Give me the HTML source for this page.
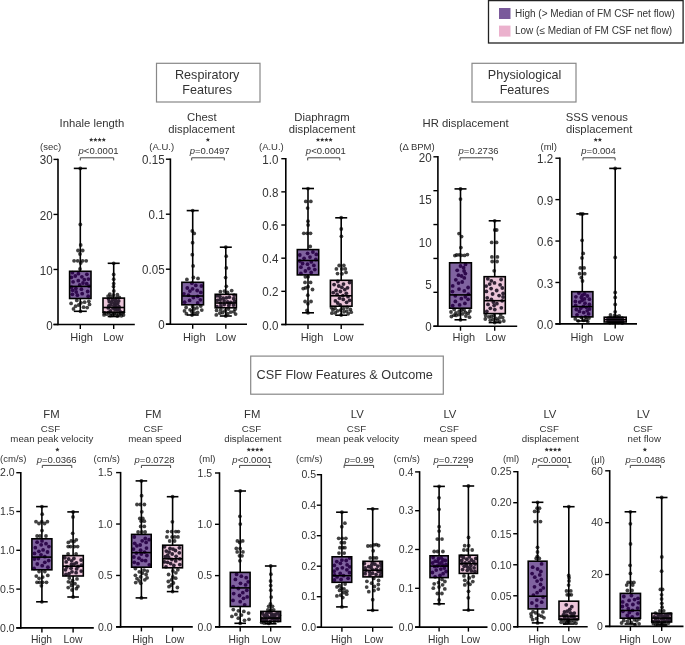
<!DOCTYPE html>
<html><head><meta charset="utf-8"><style>
html,body{margin:0;padding:0;background:#fff;width:685px;height:645px;overflow:hidden}
svg{display:block;font-family:'Liberation Sans', sans-serif;will-change:transform}
</style></head><body>
<svg width="685" height="645" viewBox="0 0 685 645">

<rect x="488.5" y="0.6" width="194.6" height="42.4" fill="#fff" stroke="#222" stroke-width="1.3"/>
<rect x="499" y="8" width="11.5" height="11" fill="#7a5a9b"/>
<rect x="499" y="25.6" width="11.5" height="11" fill="#ebb1cd"/>
<text x="515" y="16.7" font-size="10" fill="#333">High (&gt; Median of FM CSF net flow)</text>
<text x="515" y="34.2" font-size="10" fill="#333">Low (≤ Median of FM CSF net flow)</text>


<rect x="156.5" y="63.3" width="103.5" height="38.7" fill="none" stroke="#888" stroke-width="1.2"/>
<text x="207.2" y="79.2" font-size="12.6" text-anchor="middle" fill="#333">Respiratory</text>
<text x="207.2" y="94" font-size="12.6" text-anchor="middle" fill="#333">Features</text>
<rect x="472" y="63.3" width="104" height="38.7" fill="none" stroke="#888" stroke-width="1.2"/>
<text x="524.5" y="79.2" font-size="12.6" text-anchor="middle" fill="#333">Physiological</text>
<text x="524.5" y="94" font-size="12.6" text-anchor="middle" fill="#333">Features</text>
<rect x="250.7" y="356.1" width="192.6" height="38.1" fill="none" stroke="#888" stroke-width="1.2"/>
<text x="344.7" y="378.6" font-size="12.7" text-anchor="middle" fill="#333">CSF Flow Features &amp; Outcome</text>

<line x1="53.5" y1="159.4" x2="58" y2="159.4" stroke="#000" stroke-width="1.4"/>
<line x1="53.5" y1="214.43333333333334" x2="58" y2="214.43333333333334" stroke="#000" stroke-width="1.4"/>
<line x1="53.5" y1="269.4666666666667" x2="58" y2="269.4666666666667" stroke="#000" stroke-width="1.4"/>
<line x1="53.5" y1="324.5" x2="58" y2="324.5" stroke="#000" stroke-width="1.4"/>
<text transform="translate(52.60,164.47) scale(1,1.1)" font-size="11.6" text-anchor="end" fill="#333">30</text>
<text transform="translate(52.60,219.50) scale(1,1.1)" font-size="11.6" text-anchor="end" fill="#333">20</text>
<text transform="translate(52.60,274.53) scale(1,1.1)" font-size="11.6" text-anchor="end" fill="#333">10</text>
<text transform="translate(52.60,329.57) scale(1,1.1)" font-size="11.6" text-anchor="end" fill="#333">0</text>
<line x1="58" y1="158.70000000000002" x2="58" y2="325.3" stroke="#000" stroke-width="1.6"/>
<line x1="53.5" y1="324.5" x2="134.8" y2="324.5" stroke="#000" stroke-width="1.6"/>
<line x1="80.3" y1="324.5" x2="80.3" y2="329.0" stroke="#000" stroke-width="1.4"/>
<text x="81.6" y="340.8" font-size="11" text-anchor="middle" fill="#333" >High</text>
<line x1="113.7" y1="324.5" x2="113.7" y2="329.0" stroke="#000" stroke-width="1.4"/>
<text x="113.3" y="340.8" font-size="11" text-anchor="middle" fill="#333" >Low</text>
<line x1="80.3" y1="168.4" x2="80.3" y2="271.3" stroke="#000" stroke-width="1.6"/>
<line x1="80.3" y1="298.5" x2="80.3" y2="311.3" stroke="#000" stroke-width="1.6"/>
<circle cx="80.3" cy="168.4" r="1.9" fill="#000" fill-opacity="0.74"/>
<circle cx="80.3" cy="224.5" r="1.9" fill="#000" fill-opacity="0.74"/>
<circle cx="80.0" cy="254.0" r="1.9" fill="#000" fill-opacity="0.74"/>
<circle cx="80.7" cy="245.0" r="1.9" fill="#000" fill-opacity="0.74"/>
<circle cx="80.5" cy="311.3" r="1.9" fill="#000" fill-opacity="0.74"/>
<circle cx="80.7" cy="263.0" r="1.9" fill="#000" fill-opacity="0.74"/>
<circle cx="80.0" cy="269.0" r="1.9" fill="#000" fill-opacity="0.74"/>
<circle cx="82.7" cy="250.5" r="1.9" fill="#000" fill-opacity="0.74"/>
<circle cx="78.0" cy="250.5" r="1.9" fill="#000" fill-opacity="0.74"/>
<circle cx="72.4" cy="272.7" r="1.9" fill="#000" fill-opacity="0.74"/>
<circle cx="82.2" cy="293.7" r="1.9" fill="#000" fill-opacity="0.74"/>
<circle cx="74.1" cy="260.8" r="1.9" fill="#000" fill-opacity="0.74"/>
<circle cx="73.1" cy="281.8" r="1.9" fill="#000" fill-opacity="0.74"/>
<circle cx="78.3" cy="280.7" r="1.9" fill="#000" fill-opacity="0.74"/>
<circle cx="88.4" cy="279.1" r="1.9" fill="#000" fill-opacity="0.74"/>
<circle cx="72.4" cy="294.3" r="1.9" fill="#000" fill-opacity="0.74"/>
<circle cx="81.9" cy="276.8" r="1.9" fill="#000" fill-opacity="0.74"/>
<circle cx="88.2" cy="296.2" r="1.9" fill="#000" fill-opacity="0.74"/>
<circle cx="86.2" cy="260.8" r="1.9" fill="#000" fill-opacity="0.74"/>
<circle cx="84.3" cy="279.7" r="1.9" fill="#000" fill-opacity="0.74"/>
<circle cx="75.3" cy="276.0" r="1.9" fill="#000" fill-opacity="0.74"/>
<circle cx="86.7" cy="283.7" r="1.9" fill="#000" fill-opacity="0.74"/>
<circle cx="75.9" cy="288.4" r="1.9" fill="#000" fill-opacity="0.74"/>
<circle cx="71.4" cy="277.3" r="1.9" fill="#000" fill-opacity="0.74"/>
<circle cx="86.9" cy="274.3" r="1.9" fill="#000" fill-opacity="0.74"/>
<circle cx="78.4" cy="273.7" r="1.9" fill="#000" fill-opacity="0.74"/>
<circle cx="87.7" cy="291.5" r="1.9" fill="#000" fill-opacity="0.74"/>
<circle cx="77.7" cy="260.8" r="1.9" fill="#000" fill-opacity="0.74"/>
<circle cx="81.4" cy="289.2" r="1.9" fill="#000" fill-opacity="0.74"/>
<circle cx="79.7" cy="284.9" r="1.9" fill="#000" fill-opacity="0.74"/>
<circle cx="83.0" cy="283.0" r="1.9" fill="#000" fill-opacity="0.74"/>
<circle cx="77.4" cy="295.2" r="1.9" fill="#000" fill-opacity="0.74"/>
<circle cx="71.5" cy="287.2" r="1.9" fill="#000" fill-opacity="0.74"/>
<circle cx="82.6" cy="260.8" r="1.9" fill="#000" fill-opacity="0.74"/>
<circle cx="89.0" cy="286.1" r="1.9" fill="#000" fill-opacity="0.74"/>
<circle cx="72.7" cy="290.3" r="1.9" fill="#000" fill-opacity="0.74"/>
<circle cx="76.2" cy="292.0" r="1.9" fill="#000" fill-opacity="0.74"/>
<circle cx="84.6" cy="302.2" r="1.9" fill="#000" fill-opacity="0.74"/>
<circle cx="89.5" cy="304.4" r="1.9" fill="#000" fill-opacity="0.74"/>
<circle cx="76.8" cy="300.4" r="1.9" fill="#000" fill-opacity="0.74"/>
<circle cx="83.6" cy="307.2" r="1.9" fill="#000" fill-opacity="0.74"/>
<circle cx="78.8" cy="305.0" r="1.9" fill="#000" fill-opacity="0.74"/>
<circle cx="71.1" cy="303.4" r="1.9" fill="#000" fill-opacity="0.74"/>
<circle cx="73.5" cy="308.9" r="1.9" fill="#000" fill-opacity="0.74"/>
<circle cx="87.2" cy="307.6" r="1.9" fill="#000" fill-opacity="0.74"/>
<circle cx="81.0" cy="302.8" r="1.9" fill="#000" fill-opacity="0.74"/>
<circle cx="88.8" cy="301.3" r="1.9" fill="#000" fill-opacity="0.74"/>
<circle cx="75.6" cy="306.2" r="1.9" fill="#000" fill-opacity="0.74"/>
<clipPath id="c1_0"><rect x="69.6" y="271.3" width="21.4" height="27.19999999999999"/></clipPath>
<rect x="69.6" y="271.3" width="21.4" height="27.19999999999999" fill="rgb(128,99,160)"/>
<g clip-path="url(#c1_0)"><circle cx="72.4" cy="272.7" r="1.9" fill="rgb(44,6,74)" fill-opacity="0.97"/><circle cx="82.2" cy="293.7" r="1.9" fill="rgb(44,6,74)" fill-opacity="0.97"/><circle cx="73.1" cy="281.8" r="1.9" fill="rgb(44,6,74)" fill-opacity="0.97"/><circle cx="78.3" cy="280.7" r="1.9" fill="rgb(44,6,74)" fill-opacity="0.97"/><circle cx="88.4" cy="279.1" r="1.9" fill="rgb(44,6,74)" fill-opacity="0.97"/><circle cx="72.4" cy="294.3" r="1.9" fill="rgb(44,6,74)" fill-opacity="0.97"/><circle cx="81.9" cy="276.8" r="1.9" fill="rgb(44,6,74)" fill-opacity="0.97"/><circle cx="88.2" cy="296.2" r="1.9" fill="rgb(44,6,74)" fill-opacity="0.97"/><circle cx="84.3" cy="279.7" r="1.9" fill="rgb(44,6,74)" fill-opacity="0.97"/><circle cx="75.3" cy="276.0" r="1.9" fill="rgb(44,6,74)" fill-opacity="0.97"/><circle cx="86.7" cy="283.7" r="1.9" fill="rgb(44,6,74)" fill-opacity="0.97"/><circle cx="75.9" cy="288.4" r="1.9" fill="rgb(44,6,74)" fill-opacity="0.97"/><circle cx="71.4" cy="277.3" r="1.9" fill="rgb(44,6,74)" fill-opacity="0.97"/><circle cx="86.9" cy="274.3" r="1.9" fill="rgb(44,6,74)" fill-opacity="0.97"/><circle cx="78.4" cy="273.7" r="1.9" fill="rgb(44,6,74)" fill-opacity="0.97"/><circle cx="87.7" cy="291.5" r="1.9" fill="rgb(44,6,74)" fill-opacity="0.97"/><circle cx="81.4" cy="289.2" r="1.9" fill="rgb(44,6,74)" fill-opacity="0.97"/><circle cx="79.7" cy="284.9" r="1.9" fill="rgb(44,6,74)" fill-opacity="0.97"/><circle cx="83.0" cy="283.0" r="1.9" fill="rgb(44,6,74)" fill-opacity="0.97"/><circle cx="77.4" cy="295.2" r="1.9" fill="rgb(44,6,74)" fill-opacity="0.97"/><circle cx="71.5" cy="287.2" r="1.9" fill="rgb(44,6,74)" fill-opacity="0.97"/><circle cx="89.0" cy="286.1" r="1.9" fill="rgb(44,6,74)" fill-opacity="0.97"/><circle cx="72.7" cy="290.3" r="1.9" fill="rgb(44,6,74)" fill-opacity="0.97"/><circle cx="76.2" cy="292.0" r="1.9" fill="rgb(44,6,74)" fill-opacity="0.97"/><circle cx="76.8" cy="300.4" r="1.9" fill="rgb(44,6,74)" fill-opacity="0.97"/></g>
<rect x="69.6" y="271.3" width="21.4" height="27.19999999999999" fill="none" stroke="#000" stroke-width="1.6"/>
<line x1="69.6" y1="286.4" x2="91.0" y2="286.4" stroke="#000" stroke-width="1.6"/>
<line x1="73.8" y1="168.4" x2="86.8" y2="168.4" stroke="#000" stroke-width="1.6"/>
<line x1="73.8" y1="311.3" x2="86.8" y2="311.3" stroke="#000" stroke-width="1.6"/>
<line x1="113.7" y1="263.3" x2="113.7" y2="298.1" stroke="#000" stroke-width="1.6"/>
<line x1="113.7" y1="312.2" x2="113.7" y2="316.5" stroke="#000" stroke-width="1.6"/>
<circle cx="113.7" cy="283.6" r="1.9" fill="#000" fill-opacity="0.74"/>
<circle cx="113.7" cy="274.5" r="1.9" fill="#000" fill-opacity="0.74"/>
<circle cx="113.7" cy="279.2" r="1.9" fill="#000" fill-opacity="0.74"/>
<circle cx="113.7" cy="263.3" r="1.9" fill="#000" fill-opacity="0.74"/>
<circle cx="113.5" cy="286.6" r="1.9" fill="#000" fill-opacity="0.74"/>
<circle cx="113.8" cy="291.0" r="1.9" fill="#000" fill-opacity="0.74"/>
<circle cx="109.8" cy="294.1" r="1.9" fill="#000" fill-opacity="0.74"/>
<circle cx="117.4" cy="294.7" r="1.9" fill="#000" fill-opacity="0.74"/>
<circle cx="113.5" cy="295.0" r="1.9" fill="#000" fill-opacity="0.74"/>
<circle cx="108.3" cy="307.9" r="1.9" fill="#000" fill-opacity="0.74"/>
<circle cx="118.7" cy="300.9" r="1.9" fill="#000" fill-opacity="0.74"/>
<circle cx="117.3" cy="309.9" r="1.9" fill="#000" fill-opacity="0.74"/>
<circle cx="112.5" cy="299.9" r="1.9" fill="#000" fill-opacity="0.74"/>
<circle cx="113.0" cy="308.1" r="1.9" fill="#000" fill-opacity="0.74"/>
<circle cx="110.6" cy="310.8" r="1.9" fill="#000" fill-opacity="0.74"/>
<circle cx="118.9" cy="306.6" r="1.9" fill="#000" fill-opacity="0.74"/>
<circle cx="110.7" cy="304.9" r="1.9" fill="#000" fill-opacity="0.74"/>
<circle cx="109.3" cy="301.7" r="1.9" fill="#000" fill-opacity="0.74"/>
<circle cx="115.7" cy="307.3" r="1.9" fill="#000" fill-opacity="0.74"/>
<circle cx="114.8" cy="302.9" r="1.9" fill="#000" fill-opacity="0.74"/>
<circle cx="117.7" cy="303.5" r="1.9" fill="#000" fill-opacity="0.74"/>
<circle cx="115.0" cy="309.7" r="1.9" fill="#000" fill-opacity="0.74"/>
<circle cx="119.1" cy="309.1" r="1.9" fill="#000" fill-opacity="0.74"/>
<circle cx="114.0" cy="305.2" r="1.9" fill="#000" fill-opacity="0.74"/>
<circle cx="115.5" cy="300.4" r="1.9" fill="#000" fill-opacity="0.74"/>
<circle cx="108.6" cy="299.1" r="1.9" fill="#000" fill-opacity="0.74"/>
<circle cx="108.9" cy="305.8" r="1.9" fill="#000" fill-opacity="0.74"/>
<circle cx="111.8" cy="302.3" r="1.9" fill="#000" fill-opacity="0.74"/>
<circle cx="116.0" cy="304.3" r="1.9" fill="#000" fill-opacity="0.74"/>
<circle cx="111.1" cy="296.8" r="1.9" fill="#000" fill-opacity="0.74"/>
<circle cx="119.3" cy="297.4" r="1.9" fill="#000" fill-opacity="0.74"/>
<circle cx="116.6" cy="297.8" r="1.9" fill="#000" fill-opacity="0.74"/>
<circle cx="108.1" cy="296.1" r="1.9" fill="#000" fill-opacity="0.74"/>
<circle cx="121.4" cy="315.8" r="1.9" fill="#000" fill-opacity="0.74"/>
<circle cx="106.8" cy="314.2" r="1.9" fill="#000" fill-opacity="0.74"/>
<circle cx="114.2" cy="313.5" r="1.9" fill="#000" fill-opacity="0.74"/>
<circle cx="110.4" cy="315.7" r="1.9" fill="#000" fill-opacity="0.74"/>
<circle cx="117.3" cy="316.1" r="1.9" fill="#000" fill-opacity="0.74"/>
<circle cx="123.3" cy="312.6" r="1.9" fill="#000" fill-opacity="0.74"/>
<circle cx="120.4" cy="312.0" r="1.9" fill="#000" fill-opacity="0.74"/>
<circle cx="104.3" cy="312.9" r="1.9" fill="#000" fill-opacity="0.74"/>
<circle cx="104.0" cy="314.9" r="1.9" fill="#000" fill-opacity="0.74"/>
<circle cx="118.9" cy="314.5" r="1.9" fill="#000" fill-opacity="0.74"/>
<circle cx="112.6" cy="315.3" r="1.9" fill="#000" fill-opacity="0.74"/>
<circle cx="108.6" cy="312.5" r="1.9" fill="#000" fill-opacity="0.74"/>
<circle cx="116.3" cy="313.9" r="1.9" fill="#000" fill-opacity="0.74"/>
<circle cx="111.2" cy="313.3" r="1.9" fill="#000" fill-opacity="0.74"/>
<circle cx="123.5" cy="315.0" r="1.9" fill="#000" fill-opacity="0.74"/>
<circle cx="120.6" cy="313.7" r="1.9" fill="#000" fill-opacity="0.74"/>
<clipPath id="c1_1"><rect x="103.0" y="298.1" width="21.4" height="14.099999999999966"/></clipPath>
<rect x="103.0" y="298.1" width="21.4" height="14.099999999999966" fill="rgb(236,198,218)"/>
<g clip-path="url(#c1_1)"><circle cx="108.3" cy="307.9" r="1.9" fill="rgb(42,30,48)" fill-opacity="0.97"/><circle cx="118.7" cy="300.9" r="1.9" fill="rgb(42,30,48)" fill-opacity="0.97"/><circle cx="117.3" cy="309.9" r="1.9" fill="rgb(42,30,48)" fill-opacity="0.97"/><circle cx="112.5" cy="299.9" r="1.9" fill="rgb(42,30,48)" fill-opacity="0.97"/><circle cx="113.0" cy="308.1" r="1.9" fill="rgb(42,30,48)" fill-opacity="0.97"/><circle cx="110.6" cy="310.8" r="1.9" fill="rgb(42,30,48)" fill-opacity="0.97"/><circle cx="118.9" cy="306.6" r="1.9" fill="rgb(42,30,48)" fill-opacity="0.97"/><circle cx="110.7" cy="304.9" r="1.9" fill="rgb(42,30,48)" fill-opacity="0.97"/><circle cx="109.3" cy="301.7" r="1.9" fill="rgb(42,30,48)" fill-opacity="0.97"/><circle cx="115.7" cy="307.3" r="1.9" fill="rgb(42,30,48)" fill-opacity="0.97"/><circle cx="114.8" cy="302.9" r="1.9" fill="rgb(42,30,48)" fill-opacity="0.97"/><circle cx="117.7" cy="303.5" r="1.9" fill="rgb(42,30,48)" fill-opacity="0.97"/><circle cx="115.0" cy="309.7" r="1.9" fill="rgb(42,30,48)" fill-opacity="0.97"/><circle cx="119.1" cy="309.1" r="1.9" fill="rgb(42,30,48)" fill-opacity="0.97"/><circle cx="114.0" cy="305.2" r="1.9" fill="rgb(42,30,48)" fill-opacity="0.97"/><circle cx="115.5" cy="300.4" r="1.9" fill="rgb(42,30,48)" fill-opacity="0.97"/><circle cx="108.6" cy="299.1" r="1.9" fill="rgb(42,30,48)" fill-opacity="0.97"/><circle cx="108.9" cy="305.8" r="1.9" fill="rgb(42,30,48)" fill-opacity="0.97"/><circle cx="111.8" cy="302.3" r="1.9" fill="rgb(42,30,48)" fill-opacity="0.97"/><circle cx="116.0" cy="304.3" r="1.9" fill="rgb(42,30,48)" fill-opacity="0.97"/><circle cx="111.1" cy="296.8" r="1.9" fill="rgb(42,30,48)" fill-opacity="0.97"/><circle cx="119.3" cy="297.4" r="1.9" fill="rgb(42,30,48)" fill-opacity="0.97"/><circle cx="116.6" cy="297.8" r="1.9" fill="rgb(42,30,48)" fill-opacity="0.97"/><circle cx="114.2" cy="313.5" r="1.9" fill="rgb(42,30,48)" fill-opacity="0.97"/><circle cx="123.3" cy="312.6" r="1.9" fill="rgb(42,30,48)" fill-opacity="0.97"/><circle cx="120.4" cy="312.0" r="1.9" fill="rgb(42,30,48)" fill-opacity="0.97"/><circle cx="104.3" cy="312.9" r="1.9" fill="rgb(42,30,48)" fill-opacity="0.97"/><circle cx="108.6" cy="312.5" r="1.9" fill="rgb(42,30,48)" fill-opacity="0.97"/><circle cx="116.3" cy="313.9" r="1.9" fill="rgb(42,30,48)" fill-opacity="0.97"/><circle cx="111.2" cy="313.3" r="1.9" fill="rgb(42,30,48)" fill-opacity="0.97"/><circle cx="120.6" cy="313.7" r="1.9" fill="rgb(42,30,48)" fill-opacity="0.97"/></g>
<rect x="103.0" y="298.1" width="21.4" height="14.099999999999966" fill="none" stroke="#000" stroke-width="1.6"/>
<line x1="103.0" y1="307.5" x2="124.4" y2="307.5" stroke="#000" stroke-width="1.6"/>
<line x1="107.7" y1="263.3" x2="119.7" y2="263.3" stroke="#000" stroke-width="1.6"/>
<line x1="107.7" y1="316.5" x2="119.7" y2="316.5" stroke="#000" stroke-width="1.6"/>
<text x="91.9" y="126.6" font-size="11.3" text-anchor="middle" fill="#333" >Inhale length</text>
<text x="50.6" y="149.6" font-size="9.5" text-anchor="middle" fill="#333" >(sec)</text>
<polygon points="91.20,137.50 91.82,138.95 93.39,139.09 92.20,140.12 92.55,141.66 91.20,140.85 89.85,141.66 90.20,140.12 89.01,139.09 90.58,138.95" fill="#333"/>
<polygon points="95.40,137.50 96.02,138.95 97.59,139.09 96.40,140.12 96.75,141.66 95.40,140.85 94.05,141.66 94.40,140.12 93.21,139.09 94.78,138.95" fill="#333"/>
<polygon points="99.60,137.50 100.22,138.95 101.79,139.09 100.60,140.12 100.95,141.66 99.60,140.85 98.25,141.66 98.60,140.12 97.41,139.09 98.98,138.95" fill="#333"/>
<polygon points="103.80,137.50 104.42,138.95 105.99,139.09 104.80,140.12 105.15,141.66 103.80,140.85 102.45,141.66 102.80,140.12 101.61,139.09 103.18,138.95" fill="#333"/>
<text x="98.5" y="154.2" font-size="9.5" text-anchor="middle" fill="#333"><tspan font-style="italic">p</tspan>&lt;0.0001</text>
<path d="M80.3,160.4 V157.8 H113.7 V160.4" fill="none" stroke="#444" stroke-width="1"/>
<line x1="165.9" y1="159.2" x2="170.4" y2="159.2" stroke="#000" stroke-width="1.4"/>
<line x1="165.9" y1="214.2" x2="170.4" y2="214.2" stroke="#000" stroke-width="1.4"/>
<line x1="165.9" y1="269.2" x2="170.4" y2="269.2" stroke="#000" stroke-width="1.4"/>
<line x1="165.9" y1="324.2" x2="170.4" y2="324.2" stroke="#000" stroke-width="1.4"/>
<text transform="translate(164.60,164.27) scale(1,1.1)" font-size="11.6" text-anchor="end" fill="#333">0.15</text>
<text transform="translate(164.60,219.27) scale(1,1.1)" font-size="11.6" text-anchor="end" fill="#333">0.1</text>
<text transform="translate(164.60,274.27) scale(1,1.1)" font-size="11.6" text-anchor="end" fill="#333">0.05</text>
<text transform="translate(164.60,329.27) scale(1,1.1)" font-size="11.6" text-anchor="end" fill="#333">0</text>
<line x1="170.4" y1="158.5" x2="170.4" y2="325.0" stroke="#000" stroke-width="1.6"/>
<line x1="165.9" y1="324.2" x2="247" y2="324.2" stroke="#000" stroke-width="1.6"/>
<line x1="192.7" y1="324.2" x2="192.7" y2="328.7" stroke="#000" stroke-width="1.4"/>
<text x="194.2" y="340.8" font-size="11" text-anchor="middle" fill="#333" >High</text>
<line x1="225.8" y1="324.2" x2="225.8" y2="328.7" stroke="#000" stroke-width="1.4"/>
<text x="225.8" y="340.8" font-size="11" text-anchor="middle" fill="#333" >Low</text>
<line x1="192.7" y1="210.6" x2="192.7" y2="282.3" stroke="#000" stroke-width="1.6"/>
<line x1="192.7" y1="304.8" x2="192.7" y2="315" stroke="#000" stroke-width="1.6"/>
<circle cx="192.7" cy="210.6" r="1.9" fill="#000" fill-opacity="0.74"/>
<circle cx="193.1" cy="265.9" r="1.9" fill="#000" fill-opacity="0.74"/>
<circle cx="192.3" cy="254.7" r="1.9" fill="#000" fill-opacity="0.74"/>
<circle cx="192.3" cy="231.0" r="1.9" fill="#000" fill-opacity="0.74"/>
<circle cx="192.6" cy="242.7" r="1.9" fill="#000" fill-opacity="0.74"/>
<circle cx="192.0" cy="315.0" r="1.9" fill="#000" fill-opacity="0.74"/>
<circle cx="194.2" cy="233.4" r="1.9" fill="#000" fill-opacity="0.74"/>
<circle cx="193.4" cy="277.5" r="1.9" fill="#000" fill-opacity="0.74"/>
<circle cx="186.9" cy="279.4" r="1.9" fill="#000" fill-opacity="0.74"/>
<circle cx="198.0" cy="278.4" r="1.9" fill="#000" fill-opacity="0.74"/>
<circle cx="197.7" cy="296.4" r="1.9" fill="#000" fill-opacity="0.74"/>
<circle cx="187.3" cy="288.0" r="1.9" fill="#000" fill-opacity="0.74"/>
<circle cx="183.9" cy="293.8" r="1.9" fill="#000" fill-opacity="0.74"/>
<circle cx="192.6" cy="288.8" r="1.9" fill="#000" fill-opacity="0.74"/>
<circle cx="200.8" cy="292.4" r="1.9" fill="#000" fill-opacity="0.74"/>
<circle cx="189.6" cy="300.4" r="1.9" fill="#000" fill-opacity="0.74"/>
<circle cx="197.2" cy="290.5" r="1.9" fill="#000" fill-opacity="0.74"/>
<circle cx="201.4" cy="286.0" r="1.9" fill="#000" fill-opacity="0.74"/>
<circle cx="197.7" cy="303.0" r="1.9" fill="#000" fill-opacity="0.74"/>
<circle cx="189.9" cy="291.1" r="1.9" fill="#000" fill-opacity="0.74"/>
<circle cx="191.9" cy="283.2" r="1.9" fill="#000" fill-opacity="0.74"/>
<circle cx="193.4" cy="297.6" r="1.9" fill="#000" fill-opacity="0.74"/>
<circle cx="184.6" cy="302.2" r="1.9" fill="#000" fill-opacity="0.74"/>
<circle cx="188.5" cy="295.2" r="1.9" fill="#000" fill-opacity="0.74"/>
<circle cx="200.4" cy="299.8" r="1.9" fill="#000" fill-opacity="0.74"/>
<circle cx="195.8" cy="285.4" r="1.9" fill="#000" fill-opacity="0.74"/>
<circle cx="192.7" cy="306.5" r="1.9" fill="#000" fill-opacity="0.74"/>
<circle cx="186.1" cy="307.5" r="1.9" fill="#000" fill-opacity="0.74"/>
<circle cx="201.8" cy="310.1" r="1.9" fill="#000" fill-opacity="0.74"/>
<circle cx="197.0" cy="307.9" r="1.9" fill="#000" fill-opacity="0.74"/>
<circle cx="186.4" cy="313.7" r="1.9" fill="#000" fill-opacity="0.74"/>
<circle cx="190.1" cy="309.8" r="1.9" fill="#000" fill-opacity="0.74"/>
<circle cx="200.8" cy="306.1" r="1.9" fill="#000" fill-opacity="0.74"/>
<circle cx="197.7" cy="312.5" r="1.9" fill="#000" fill-opacity="0.74"/>
<circle cx="184.5" cy="310.9" r="1.9" fill="#000" fill-opacity="0.74"/>
<circle cx="194.5" cy="313.2" r="1.9" fill="#000" fill-opacity="0.74"/>
<circle cx="191.8" cy="311.5" r="1.9" fill="#000" fill-opacity="0.74"/>
<circle cx="194.1" cy="309.0" r="1.9" fill="#000" fill-opacity="0.74"/>
<clipPath id="c2_0"><rect x="181.89999999999998" y="282.3" width="21.6" height="22.5"/></clipPath>
<rect x="181.89999999999998" y="282.3" width="21.6" height="22.5" fill="rgb(128,99,160)"/>
<g clip-path="url(#c2_0)"><circle cx="197.7" cy="296.4" r="1.9" fill="rgb(44,6,74)" fill-opacity="0.97"/><circle cx="187.3" cy="288.0" r="1.9" fill="rgb(44,6,74)" fill-opacity="0.97"/><circle cx="183.9" cy="293.8" r="1.9" fill="rgb(44,6,74)" fill-opacity="0.97"/><circle cx="192.6" cy="288.8" r="1.9" fill="rgb(44,6,74)" fill-opacity="0.97"/><circle cx="200.8" cy="292.4" r="1.9" fill="rgb(44,6,74)" fill-opacity="0.97"/><circle cx="189.6" cy="300.4" r="1.9" fill="rgb(44,6,74)" fill-opacity="0.97"/><circle cx="197.2" cy="290.5" r="1.9" fill="rgb(44,6,74)" fill-opacity="0.97"/><circle cx="201.4" cy="286.0" r="1.9" fill="rgb(44,6,74)" fill-opacity="0.97"/><circle cx="197.7" cy="303.0" r="1.9" fill="rgb(44,6,74)" fill-opacity="0.97"/><circle cx="189.9" cy="291.1" r="1.9" fill="rgb(44,6,74)" fill-opacity="0.97"/><circle cx="191.9" cy="283.2" r="1.9" fill="rgb(44,6,74)" fill-opacity="0.97"/><circle cx="193.4" cy="297.6" r="1.9" fill="rgb(44,6,74)" fill-opacity="0.97"/><circle cx="184.6" cy="302.2" r="1.9" fill="rgb(44,6,74)" fill-opacity="0.97"/><circle cx="188.5" cy="295.2" r="1.9" fill="rgb(44,6,74)" fill-opacity="0.97"/><circle cx="200.4" cy="299.8" r="1.9" fill="rgb(44,6,74)" fill-opacity="0.97"/><circle cx="195.8" cy="285.4" r="1.9" fill="rgb(44,6,74)" fill-opacity="0.97"/><circle cx="192.7" cy="306.5" r="1.9" fill="rgb(44,6,74)" fill-opacity="0.97"/><circle cx="200.8" cy="306.1" r="1.9" fill="rgb(44,6,74)" fill-opacity="0.97"/></g>
<rect x="181.89999999999998" y="282.3" width="21.6" height="22.5" fill="none" stroke="#000" stroke-width="1.6"/>
<line x1="181.89999999999998" y1="296" x2="203.5" y2="296" stroke="#000" stroke-width="1.6"/>
<line x1="186.7" y1="210.6" x2="198.7" y2="210.6" stroke="#000" stroke-width="1.6"/>
<line x1="186.7" y1="315" x2="198.7" y2="315" stroke="#000" stroke-width="1.6"/>
<line x1="225.8" y1="247.2" x2="225.8" y2="294.3" stroke="#000" stroke-width="1.6"/>
<line x1="225.8" y1="307.8" x2="225.8" y2="316" stroke="#000" stroke-width="1.6"/>
<circle cx="225.8" cy="316.0" r="1.9" fill="#000" fill-opacity="0.74"/>
<circle cx="225.8" cy="247.2" r="1.9" fill="#000" fill-opacity="0.74"/>
<circle cx="225.6" cy="277.6" r="1.9" fill="#000" fill-opacity="0.74"/>
<circle cx="226.2" cy="256.2" r="1.9" fill="#000" fill-opacity="0.74"/>
<circle cx="226.3" cy="267.9" r="1.9" fill="#000" fill-opacity="0.74"/>
<circle cx="226.3" cy="286.3" r="1.9" fill="#000" fill-opacity="0.74"/>
<circle cx="227.5" cy="292.5" r="1.9" fill="#000" fill-opacity="0.74"/>
<circle cx="220.4" cy="291.7" r="1.9" fill="#000" fill-opacity="0.74"/>
<circle cx="231.7" cy="290.6" r="1.9" fill="#000" fill-opacity="0.74"/>
<circle cx="224.4" cy="291.1" r="1.9" fill="#000" fill-opacity="0.74"/>
<circle cx="228.8" cy="305.6" r="1.9" fill="#000" fill-opacity="0.74"/>
<circle cx="220.5" cy="303.0" r="1.9" fill="#000" fill-opacity="0.74"/>
<circle cx="234.1" cy="295.1" r="1.9" fill="#000" fill-opacity="0.74"/>
<circle cx="233.5" cy="305.0" r="1.9" fill="#000" fill-opacity="0.74"/>
<circle cx="224.2" cy="304.5" r="1.9" fill="#000" fill-opacity="0.74"/>
<circle cx="230.8" cy="302.3" r="1.9" fill="#000" fill-opacity="0.74"/>
<circle cx="223.1" cy="298.2" r="1.9" fill="#000" fill-opacity="0.74"/>
<circle cx="217.3" cy="300.3" r="1.9" fill="#000" fill-opacity="0.74"/>
<circle cx="216.9" cy="306.6" r="1.9" fill="#000" fill-opacity="0.74"/>
<circle cx="227.6" cy="301.9" r="1.9" fill="#000" fill-opacity="0.74"/>
<circle cx="229.3" cy="297.2" r="1.9" fill="#000" fill-opacity="0.74"/>
<circle cx="220.2" cy="299.4" r="1.9" fill="#000" fill-opacity="0.74"/>
<circle cx="224.1" cy="300.9" r="1.9" fill="#000" fill-opacity="0.74"/>
<circle cx="226.4" cy="297.8" r="1.9" fill="#000" fill-opacity="0.74"/>
<circle cx="229.2" cy="303.6" r="1.9" fill="#000" fill-opacity="0.74"/>
<circle cx="220.9" cy="306.1" r="1.9" fill="#000" fill-opacity="0.74"/>
<circle cx="219.8" cy="296.3" r="1.9" fill="#000" fill-opacity="0.74"/>
<circle cx="216.9" cy="295.8" r="1.9" fill="#000" fill-opacity="0.74"/>
<circle cx="233.7" cy="298.7" r="1.9" fill="#000" fill-opacity="0.74"/>
<circle cx="234.7" cy="301.3" r="1.9" fill="#000" fill-opacity="0.74"/>
<circle cx="225.0" cy="310.8" r="1.9" fill="#000" fill-opacity="0.74"/>
<circle cx="235.1" cy="309.3" r="1.9" fill="#000" fill-opacity="0.74"/>
<circle cx="219.8" cy="313.2" r="1.9" fill="#000" fill-opacity="0.74"/>
<circle cx="230.8" cy="312.1" r="1.9" fill="#000" fill-opacity="0.74"/>
<circle cx="235.6" cy="314.1" r="1.9" fill="#000" fill-opacity="0.74"/>
<circle cx="216.6" cy="310.4" r="1.9" fill="#000" fill-opacity="0.74"/>
<circle cx="220.8" cy="309.9" r="1.9" fill="#000" fill-opacity="0.74"/>
<circle cx="222.6" cy="312.7" r="1.9" fill="#000" fill-opacity="0.74"/>
<circle cx="233.9" cy="311.7" r="1.9" fill="#000" fill-opacity="0.74"/>
<circle cx="228.4" cy="309.0" r="1.9" fill="#000" fill-opacity="0.74"/>
<circle cx="216.3" cy="314.9" r="1.9" fill="#000" fill-opacity="0.74"/>
<circle cx="227.8" cy="313.7" r="1.9" fill="#000" fill-opacity="0.74"/>
<clipPath id="c2_1"><rect x="215.20000000000002" y="294.3" width="21.2" height="13.5"/></clipPath>
<rect x="215.20000000000002" y="294.3" width="21.2" height="13.5" fill="rgb(236,198,218)"/>
<g clip-path="url(#c2_1)"><circle cx="227.5" cy="292.5" r="1.9" fill="rgb(42,30,48)" fill-opacity="0.97"/><circle cx="228.8" cy="305.6" r="1.9" fill="rgb(42,30,48)" fill-opacity="0.97"/><circle cx="220.5" cy="303.0" r="1.9" fill="rgb(42,30,48)" fill-opacity="0.97"/><circle cx="234.1" cy="295.1" r="1.9" fill="rgb(42,30,48)" fill-opacity="0.97"/><circle cx="233.5" cy="305.0" r="1.9" fill="rgb(42,30,48)" fill-opacity="0.97"/><circle cx="224.2" cy="304.5" r="1.9" fill="rgb(42,30,48)" fill-opacity="0.97"/><circle cx="230.8" cy="302.3" r="1.9" fill="rgb(42,30,48)" fill-opacity="0.97"/><circle cx="223.1" cy="298.2" r="1.9" fill="rgb(42,30,48)" fill-opacity="0.97"/><circle cx="217.3" cy="300.3" r="1.9" fill="rgb(42,30,48)" fill-opacity="0.97"/><circle cx="216.9" cy="306.6" r="1.9" fill="rgb(42,30,48)" fill-opacity="0.97"/><circle cx="227.6" cy="301.9" r="1.9" fill="rgb(42,30,48)" fill-opacity="0.97"/><circle cx="229.3" cy="297.2" r="1.9" fill="rgb(42,30,48)" fill-opacity="0.97"/><circle cx="220.2" cy="299.4" r="1.9" fill="rgb(42,30,48)" fill-opacity="0.97"/><circle cx="224.1" cy="300.9" r="1.9" fill="rgb(42,30,48)" fill-opacity="0.97"/><circle cx="226.4" cy="297.8" r="1.9" fill="rgb(42,30,48)" fill-opacity="0.97"/><circle cx="229.2" cy="303.6" r="1.9" fill="rgb(42,30,48)" fill-opacity="0.97"/><circle cx="220.9" cy="306.1" r="1.9" fill="rgb(42,30,48)" fill-opacity="0.97"/><circle cx="219.8" cy="296.3" r="1.9" fill="rgb(42,30,48)" fill-opacity="0.97"/><circle cx="216.9" cy="295.8" r="1.9" fill="rgb(42,30,48)" fill-opacity="0.97"/><circle cx="233.7" cy="298.7" r="1.9" fill="rgb(42,30,48)" fill-opacity="0.97"/><circle cx="234.7" cy="301.3" r="1.9" fill="rgb(42,30,48)" fill-opacity="0.97"/><circle cx="235.1" cy="309.3" r="1.9" fill="rgb(42,30,48)" fill-opacity="0.97"/><circle cx="228.4" cy="309.0" r="1.9" fill="rgb(42,30,48)" fill-opacity="0.97"/></g>
<rect x="215.20000000000002" y="294.3" width="21.2" height="13.5" fill="none" stroke="#000" stroke-width="1.6"/>
<line x1="215.20000000000002" y1="303" x2="236.4" y2="303" stroke="#000" stroke-width="1.6"/>
<line x1="219.8" y1="247.2" x2="231.8" y2="247.2" stroke="#000" stroke-width="1.6"/>
<line x1="219.8" y1="316" x2="231.8" y2="316" stroke="#000" stroke-width="1.6"/>
<text x="201.8" y="120.8" font-size="11.3" text-anchor="middle" fill="#333" >Chest</text>
<text x="201.6" y="132.6" font-size="11.3" text-anchor="middle" fill="#333" >displacement</text>
<text x="161.7" y="149.6" font-size="9.5" text-anchor="middle" fill="#333" >(A.U.)</text>
<polygon points="207.90,137.50 208.52,138.95 210.09,139.09 208.90,140.12 209.25,141.66 207.90,140.85 206.55,141.66 206.90,140.12 205.71,139.09 207.28,138.95" fill="#333"/>
<text x="209.7" y="154.2" font-size="9.5" text-anchor="middle" fill="#333"><tspan font-style="italic">p</tspan>=0.0497</text>
<path d="M191.7,160.4 V157.8 H224.3 V160.4" fill="none" stroke="#444" stroke-width="1"/>
<line x1="281.3" y1="158.7" x2="285.8" y2="158.7" stroke="#000" stroke-width="1.4"/>
<line x1="281.3" y1="191.85999999999999" x2="285.8" y2="191.85999999999999" stroke="#000" stroke-width="1.4"/>
<line x1="281.3" y1="225.01999999999998" x2="285.8" y2="225.01999999999998" stroke="#000" stroke-width="1.4"/>
<line x1="281.3" y1="258.18" x2="285.8" y2="258.18" stroke="#000" stroke-width="1.4"/>
<line x1="281.3" y1="291.34" x2="285.8" y2="291.34" stroke="#000" stroke-width="1.4"/>
<line x1="281.3" y1="324.5" x2="285.8" y2="324.5" stroke="#000" stroke-width="1.4"/>
<text transform="translate(278.50,163.77) scale(1,1.1)" font-size="11.6" text-anchor="end" fill="#333">1.0</text>
<text transform="translate(278.50,196.93) scale(1,1.1)" font-size="11.6" text-anchor="end" fill="#333">0.8</text>
<text transform="translate(278.50,230.09) scale(1,1.1)" font-size="11.6" text-anchor="end" fill="#333">0.6</text>
<text transform="translate(278.50,263.25) scale(1,1.1)" font-size="11.6" text-anchor="end" fill="#333">0.4</text>
<text transform="translate(278.50,296.41) scale(1,1.1)" font-size="11.6" text-anchor="end" fill="#333">0.2</text>
<text transform="translate(278.50,329.57) scale(1,1.1)" font-size="11.6" text-anchor="end" fill="#333">0.0</text>
<line x1="285.8" y1="158.0" x2="285.8" y2="325.3" stroke="#000" stroke-width="1.6"/>
<line x1="281.3" y1="324.5" x2="363.8" y2="324.5" stroke="#000" stroke-width="1.6"/>
<line x1="308" y1="324.5" x2="308" y2="329.0" stroke="#000" stroke-width="1.4"/>
<text x="312.0" y="340.8" font-size="11" text-anchor="middle" fill="#333" >High</text>
<line x1="341.2" y1="324.5" x2="341.2" y2="329.0" stroke="#000" stroke-width="1.4"/>
<text x="343.4" y="340.8" font-size="11" text-anchor="middle" fill="#333" >Low</text>
<line x1="308" y1="188.5" x2="308" y2="249.6" stroke="#000" stroke-width="1.6"/>
<line x1="308" y1="274.9" x2="308" y2="312.8" stroke="#000" stroke-width="1.6"/>
<circle cx="308.0" cy="188.6" r="1.9" fill="#000" fill-opacity="0.74"/>
<circle cx="308.0" cy="312.8" r="1.9" fill="#000" fill-opacity="0.74"/>
<circle cx="308.1" cy="225.0" r="1.9" fill="#000" fill-opacity="0.74"/>
<circle cx="308.0" cy="221.2" r="1.9" fill="#000" fill-opacity="0.74"/>
<circle cx="307.6" cy="208.1" r="1.9" fill="#000" fill-opacity="0.74"/>
<circle cx="307.9" cy="303.8" r="1.9" fill="#000" fill-opacity="0.74"/>
<circle cx="307.0" cy="310.5" r="1.9" fill="#000" fill-opacity="0.74"/>
<circle cx="307.8" cy="295.2" r="1.9" fill="#000" fill-opacity="0.74"/>
<circle cx="308.1" cy="276.8" r="1.9" fill="#000" fill-opacity="0.74"/>
<circle cx="305.4" cy="276.8" r="1.9" fill="#000" fill-opacity="0.74"/>
<circle cx="310.8" cy="201.4" r="1.9" fill="#000" fill-opacity="0.74"/>
<circle cx="311.0" cy="301.5" r="1.9" fill="#000" fill-opacity="0.74"/>
<circle cx="310.2" cy="246.4" r="1.9" fill="#000" fill-opacity="0.74"/>
<circle cx="305.0" cy="282.4" r="1.9" fill="#000" fill-opacity="0.74"/>
<circle cx="305.8" cy="201.4" r="1.9" fill="#000" fill-opacity="0.74"/>
<circle cx="305.1" cy="301.5" r="1.9" fill="#000" fill-opacity="0.74"/>
<circle cx="310.6" cy="282.4" r="1.9" fill="#000" fill-opacity="0.74"/>
<circle cx="310.5" cy="233.3" r="1.9" fill="#000" fill-opacity="0.74"/>
<circle cx="303.8" cy="233.3" r="1.9" fill="#000" fill-opacity="0.74"/>
<circle cx="307.1" cy="233.3" r="1.9" fill="#000" fill-opacity="0.74"/>
<circle cx="308.1" cy="286.7" r="1.9" fill="#000" fill-opacity="0.74"/>
<circle cx="303.2" cy="288.6" r="1.9" fill="#000" fill-opacity="0.74"/>
<circle cx="312.5" cy="289.5" r="1.9" fill="#000" fill-opacity="0.74"/>
<circle cx="305.6" cy="287.9" r="1.9" fill="#000" fill-opacity="0.74"/>
<circle cx="311.2" cy="272.5" r="1.9" fill="#000" fill-opacity="0.74"/>
<circle cx="313.9" cy="265.4" r="1.9" fill="#000" fill-opacity="0.74"/>
<circle cx="315.8" cy="259.5" r="1.9" fill="#000" fill-opacity="0.74"/>
<circle cx="307.6" cy="253.3" r="1.9" fill="#000" fill-opacity="0.74"/>
<circle cx="304.1" cy="258.3" r="1.9" fill="#000" fill-opacity="0.74"/>
<circle cx="299.8" cy="255.0" r="1.9" fill="#000" fill-opacity="0.74"/>
<circle cx="310.0" cy="257.1" r="1.9" fill="#000" fill-opacity="0.74"/>
<circle cx="300.9" cy="273.4" r="1.9" fill="#000" fill-opacity="0.74"/>
<circle cx="316.3" cy="254.4" r="1.9" fill="#000" fill-opacity="0.74"/>
<circle cx="305.4" cy="271.0" r="1.9" fill="#000" fill-opacity="0.74"/>
<circle cx="299.8" cy="261.0" r="1.9" fill="#000" fill-opacity="0.74"/>
<circle cx="314.8" cy="269.6" r="1.9" fill="#000" fill-opacity="0.74"/>
<circle cx="300.9" cy="267.2" r="1.9" fill="#000" fill-opacity="0.74"/>
<circle cx="307.5" cy="264.2" r="1.9" fill="#000" fill-opacity="0.74"/>
<circle cx="311.3" cy="261.9" r="1.9" fill="#000" fill-opacity="0.74"/>
<circle cx="312.9" cy="252.0" r="1.9" fill="#000" fill-opacity="0.74"/>
<circle cx="302.6" cy="263.5" r="1.9" fill="#000" fill-opacity="0.74"/>
<circle cx="308.9" cy="268.5" r="1.9" fill="#000" fill-opacity="0.74"/>
<clipPath id="c3_0"><rect x="297.3" y="249.6" width="21.4" height="25.299999999999983"/></clipPath>
<rect x="297.3" y="249.6" width="21.4" height="25.299999999999983" fill="rgb(128,99,160)"/>
<g clip-path="url(#c3_0)"><circle cx="308.1" cy="276.8" r="1.9" fill="rgb(44,6,74)" fill-opacity="0.97"/><circle cx="305.4" cy="276.8" r="1.9" fill="rgb(44,6,74)" fill-opacity="0.97"/><circle cx="311.2" cy="272.5" r="1.9" fill="rgb(44,6,74)" fill-opacity="0.97"/><circle cx="313.9" cy="265.4" r="1.9" fill="rgb(44,6,74)" fill-opacity="0.97"/><circle cx="315.8" cy="259.5" r="1.9" fill="rgb(44,6,74)" fill-opacity="0.97"/><circle cx="307.6" cy="253.3" r="1.9" fill="rgb(44,6,74)" fill-opacity="0.97"/><circle cx="304.1" cy="258.3" r="1.9" fill="rgb(44,6,74)" fill-opacity="0.97"/><circle cx="299.8" cy="255.0" r="1.9" fill="rgb(44,6,74)" fill-opacity="0.97"/><circle cx="310.0" cy="257.1" r="1.9" fill="rgb(44,6,74)" fill-opacity="0.97"/><circle cx="300.9" cy="273.4" r="1.9" fill="rgb(44,6,74)" fill-opacity="0.97"/><circle cx="316.3" cy="254.4" r="1.9" fill="rgb(44,6,74)" fill-opacity="0.97"/><circle cx="305.4" cy="271.0" r="1.9" fill="rgb(44,6,74)" fill-opacity="0.97"/><circle cx="299.8" cy="261.0" r="1.9" fill="rgb(44,6,74)" fill-opacity="0.97"/><circle cx="314.8" cy="269.6" r="1.9" fill="rgb(44,6,74)" fill-opacity="0.97"/><circle cx="300.9" cy="267.2" r="1.9" fill="rgb(44,6,74)" fill-opacity="0.97"/><circle cx="307.5" cy="264.2" r="1.9" fill="rgb(44,6,74)" fill-opacity="0.97"/><circle cx="311.3" cy="261.9" r="1.9" fill="rgb(44,6,74)" fill-opacity="0.97"/><circle cx="312.9" cy="252.0" r="1.9" fill="rgb(44,6,74)" fill-opacity="0.97"/><circle cx="302.6" cy="263.5" r="1.9" fill="rgb(44,6,74)" fill-opacity="0.97"/><circle cx="308.9" cy="268.5" r="1.9" fill="rgb(44,6,74)" fill-opacity="0.97"/></g>
<rect x="297.3" y="249.6" width="21.4" height="25.299999999999983" fill="none" stroke="#000" stroke-width="1.6"/>
<line x1="297.3" y1="260.5" x2="318.7" y2="260.5" stroke="#000" stroke-width="1.6"/>
<line x1="302" y1="188.5" x2="314" y2="188.5" stroke="#000" stroke-width="1.6"/>
<line x1="302" y1="312.8" x2="314" y2="312.8" stroke="#000" stroke-width="1.6"/>
<line x1="341.2" y1="217.8" x2="341.2" y2="280.3" stroke="#000" stroke-width="1.6"/>
<line x1="341.2" y1="306.2" x2="341.2" y2="315.2" stroke="#000" stroke-width="1.6"/>
<circle cx="341.2" cy="315.0" r="1.9" fill="#000" fill-opacity="0.74"/>
<circle cx="341.2" cy="217.6" r="1.9" fill="#000" fill-opacity="0.74"/>
<circle cx="341.4" cy="236.3" r="1.9" fill="#000" fill-opacity="0.74"/>
<circle cx="341.3" cy="229.0" r="1.9" fill="#000" fill-opacity="0.74"/>
<circle cx="339.2" cy="265.5" r="1.9" fill="#000" fill-opacity="0.74"/>
<circle cx="343.8" cy="265.5" r="1.9" fill="#000" fill-opacity="0.74"/>
<circle cx="342.0" cy="273.8" r="1.9" fill="#000" fill-opacity="0.74"/>
<circle cx="336.4" cy="268.9" r="1.9" fill="#000" fill-opacity="0.74"/>
<circle cx="341.9" cy="268.9" r="1.9" fill="#000" fill-opacity="0.74"/>
<circle cx="337.5" cy="273.6" r="1.9" fill="#000" fill-opacity="0.74"/>
<circle cx="345.3" cy="268.9" r="1.9" fill="#000" fill-opacity="0.74"/>
<circle cx="346.0" cy="272.4" r="1.9" fill="#000" fill-opacity="0.74"/>
<circle cx="340.4" cy="291.5" r="1.9" fill="#000" fill-opacity="0.74"/>
<circle cx="343.5" cy="284.1" r="1.9" fill="#000" fill-opacity="0.74"/>
<circle cx="348.0" cy="296.7" r="1.9" fill="#000" fill-opacity="0.74"/>
<circle cx="335.4" cy="300.9" r="1.9" fill="#000" fill-opacity="0.74"/>
<circle cx="333.2" cy="292.7" r="1.9" fill="#000" fill-opacity="0.74"/>
<circle cx="343.3" cy="299.4" r="1.9" fill="#000" fill-opacity="0.74"/>
<circle cx="340.2" cy="304.8" r="1.9" fill="#000" fill-opacity="0.74"/>
<circle cx="349.6" cy="282.5" r="1.9" fill="#000" fill-opacity="0.74"/>
<circle cx="334.1" cy="284.6" r="1.9" fill="#000" fill-opacity="0.74"/>
<circle cx="347.5" cy="287.8" r="1.9" fill="#000" fill-opacity="0.74"/>
<circle cx="337.1" cy="294.4" r="1.9" fill="#000" fill-opacity="0.74"/>
<circle cx="339.6" cy="298.2" r="1.9" fill="#000" fill-opacity="0.74"/>
<circle cx="336.1" cy="290.5" r="1.9" fill="#000" fill-opacity="0.74"/>
<circle cx="337.8" cy="281.5" r="1.9" fill="#000" fill-opacity="0.74"/>
<circle cx="349.6" cy="300.3" r="1.9" fill="#000" fill-opacity="0.74"/>
<circle cx="344.8" cy="289.6" r="1.9" fill="#000" fill-opacity="0.74"/>
<circle cx="342.9" cy="295.6" r="1.9" fill="#000" fill-opacity="0.74"/>
<circle cx="338.8" cy="286.0" r="1.9" fill="#000" fill-opacity="0.74"/>
<circle cx="346.3" cy="293.3" r="1.9" fill="#000" fill-opacity="0.74"/>
<circle cx="346.6" cy="302.3" r="1.9" fill="#000" fill-opacity="0.74"/>
<circle cx="341.8" cy="287.3" r="1.9" fill="#000" fill-opacity="0.74"/>
<circle cx="337.7" cy="303.0" r="1.9" fill="#000" fill-opacity="0.74"/>
<circle cx="350.4" cy="309.4" r="1.9" fill="#000" fill-opacity="0.74"/>
<circle cx="343.5" cy="308.6" r="1.9" fill="#000" fill-opacity="0.74"/>
<circle cx="331.9" cy="313.2" r="1.9" fill="#000" fill-opacity="0.74"/>
<circle cx="337.4" cy="310.9" r="1.9" fill="#000" fill-opacity="0.74"/>
<circle cx="346.8" cy="311.1" r="1.9" fill="#000" fill-opacity="0.74"/>
<circle cx="331.5" cy="307.7" r="1.9" fill="#000" fill-opacity="0.74"/>
<circle cx="335.0" cy="308.3" r="1.9" fill="#000" fill-opacity="0.74"/>
<circle cx="340.6" cy="310.1" r="1.9" fill="#000" fill-opacity="0.74"/>
<circle cx="347.2" cy="307.3" r="1.9" fill="#000" fill-opacity="0.74"/>
<circle cx="344.0" cy="311.8" r="1.9" fill="#000" fill-opacity="0.74"/>
<circle cx="351.2" cy="312.2" r="1.9" fill="#000" fill-opacity="0.74"/>
<circle cx="335.3" cy="312.9" r="1.9" fill="#000" fill-opacity="0.74"/>
<circle cx="332.9" cy="309.9" r="1.9" fill="#000" fill-opacity="0.74"/>
<circle cx="348.2" cy="313.8" r="1.9" fill="#000" fill-opacity="0.74"/>
<clipPath id="c3_1"><rect x="330.4" y="280.3" width="21.6" height="25.899999999999977"/></clipPath>
<rect x="330.4" y="280.3" width="21.6" height="25.899999999999977" fill="rgb(236,198,218)"/>
<g clip-path="url(#c3_1)"><circle cx="340.4" cy="291.5" r="1.9" fill="rgb(42,30,48)" fill-opacity="0.97"/><circle cx="343.5" cy="284.1" r="1.9" fill="rgb(42,30,48)" fill-opacity="0.97"/><circle cx="348.0" cy="296.7" r="1.9" fill="rgb(42,30,48)" fill-opacity="0.97"/><circle cx="335.4" cy="300.9" r="1.9" fill="rgb(42,30,48)" fill-opacity="0.97"/><circle cx="333.2" cy="292.7" r="1.9" fill="rgb(42,30,48)" fill-opacity="0.97"/><circle cx="343.3" cy="299.4" r="1.9" fill="rgb(42,30,48)" fill-opacity="0.97"/><circle cx="340.2" cy="304.8" r="1.9" fill="rgb(42,30,48)" fill-opacity="0.97"/><circle cx="349.6" cy="282.5" r="1.9" fill="rgb(42,30,48)" fill-opacity="0.97"/><circle cx="334.1" cy="284.6" r="1.9" fill="rgb(42,30,48)" fill-opacity="0.97"/><circle cx="347.5" cy="287.8" r="1.9" fill="rgb(42,30,48)" fill-opacity="0.97"/><circle cx="337.1" cy="294.4" r="1.9" fill="rgb(42,30,48)" fill-opacity="0.97"/><circle cx="339.6" cy="298.2" r="1.9" fill="rgb(42,30,48)" fill-opacity="0.97"/><circle cx="336.1" cy="290.5" r="1.9" fill="rgb(42,30,48)" fill-opacity="0.97"/><circle cx="337.8" cy="281.5" r="1.9" fill="rgb(42,30,48)" fill-opacity="0.97"/><circle cx="349.6" cy="300.3" r="1.9" fill="rgb(42,30,48)" fill-opacity="0.97"/><circle cx="344.8" cy="289.6" r="1.9" fill="rgb(42,30,48)" fill-opacity="0.97"/><circle cx="342.9" cy="295.6" r="1.9" fill="rgb(42,30,48)" fill-opacity="0.97"/><circle cx="338.8" cy="286.0" r="1.9" fill="rgb(42,30,48)" fill-opacity="0.97"/><circle cx="346.3" cy="293.3" r="1.9" fill="rgb(42,30,48)" fill-opacity="0.97"/><circle cx="346.6" cy="302.3" r="1.9" fill="rgb(42,30,48)" fill-opacity="0.97"/><circle cx="341.8" cy="287.3" r="1.9" fill="rgb(42,30,48)" fill-opacity="0.97"/><circle cx="337.7" cy="303.0" r="1.9" fill="rgb(42,30,48)" fill-opacity="0.97"/><circle cx="331.5" cy="307.7" r="1.9" fill="rgb(42,30,48)" fill-opacity="0.97"/><circle cx="347.2" cy="307.3" r="1.9" fill="rgb(42,30,48)" fill-opacity="0.97"/></g>
<rect x="330.4" y="280.3" width="21.6" height="25.899999999999977" fill="none" stroke="#000" stroke-width="1.6"/>
<line x1="330.4" y1="295.8" x2="352.0" y2="295.8" stroke="#000" stroke-width="1.6"/>
<line x1="335.2" y1="217.8" x2="347.2" y2="217.8" stroke="#000" stroke-width="1.6"/>
<line x1="335.2" y1="315.2" x2="347.2" y2="315.2" stroke="#000" stroke-width="1.6"/>
<text x="322.0" y="120.8" font-size="11.3" text-anchor="middle" fill="#333" >Diaphragm</text>
<text x="322.1" y="132.6" font-size="11.3" text-anchor="middle" fill="#333" >displacement</text>
<text x="271.4" y="149.6" font-size="9.5" text-anchor="middle" fill="#333" >(A.U.)</text>
<polygon points="318.00,137.50 318.62,138.95 320.19,139.09 319.00,140.12 319.35,141.66 318.00,140.85 316.65,141.66 317.00,140.12 315.81,139.09 317.38,138.95" fill="#333"/>
<polygon points="322.20,137.50 322.82,138.95 324.39,139.09 323.20,140.12 323.55,141.66 322.20,140.85 320.85,141.66 321.20,140.12 320.01,139.09 321.58,138.95" fill="#333"/>
<polygon points="326.40,137.50 327.02,138.95 328.59,139.09 327.40,140.12 327.75,141.66 326.40,140.85 325.05,141.66 325.40,140.12 324.21,139.09 325.78,138.95" fill="#333"/>
<polygon points="330.60,137.50 331.22,138.95 332.79,139.09 331.60,140.12 331.95,141.66 330.60,140.85 329.25,141.66 329.60,140.12 328.41,139.09 329.98,138.95" fill="#333"/>
<text x="325.8" y="154.2" font-size="9.5" text-anchor="middle" fill="#333"><tspan font-style="italic">p</tspan>&lt;0.0001</text>
<path d="M307.7,160.4 V157.8 H339.8 V160.4" fill="none" stroke="#444" stroke-width="1"/>
<line x1="433.4" y1="156.8" x2="437.9" y2="156.8" stroke="#000" stroke-width="1.4"/>
<line x1="433.4" y1="190.68" x2="437.9" y2="190.68" stroke="#000" stroke-width="1.4"/>
<line x1="433.4" y1="224.56" x2="437.9" y2="224.56" stroke="#000" stroke-width="1.4"/>
<line x1="433.4" y1="258.44" x2="437.9" y2="258.44" stroke="#000" stroke-width="1.4"/>
<line x1="433.4" y1="292.32" x2="437.9" y2="292.32" stroke="#000" stroke-width="1.4"/>
<line x1="433.4" y1="326.2" x2="437.9" y2="326.2" stroke="#000" stroke-width="1.4"/>
<text transform="translate(431.70,161.87) scale(1,1.1)" font-size="11.6" text-anchor="end" fill="#333">20</text>
<text transform="translate(431.70,204.22) scale(1,1.1)" font-size="11.6" text-anchor="end" fill="#333">15</text>
<text transform="translate(431.70,246.57) scale(1,1.1)" font-size="11.6" text-anchor="end" fill="#333">10</text>
<text transform="translate(431.70,288.92) scale(1,1.1)" font-size="11.6" text-anchor="end" fill="#333">5</text>
<text transform="translate(431.70,331.27) scale(1,1.1)" font-size="11.6" text-anchor="end" fill="#333">0</text>
<line x1="437.9" y1="156.10000000000002" x2="437.9" y2="327.0" stroke="#000" stroke-width="1.6"/>
<line x1="433.4" y1="326.2" x2="517.2" y2="326.2" stroke="#000" stroke-width="1.6"/>
<line x1="460.5" y1="326.2" x2="460.5" y2="330.7" stroke="#000" stroke-width="1.4"/>
<text x="463.9" y="340.8" font-size="11" text-anchor="middle" fill="#333" >High</text>
<line x1="494.7" y1="326.2" x2="494.7" y2="330.7" stroke="#000" stroke-width="1.4"/>
<text x="495.6" y="340.8" font-size="11" text-anchor="middle" fill="#333" >Low</text>
<line x1="460.5" y1="188.9" x2="460.5" y2="262.8" stroke="#000" stroke-width="1.6"/>
<line x1="460.5" y1="308.2" x2="460.5" y2="319.8" stroke="#000" stroke-width="1.6"/>
<circle cx="460.5" cy="188.9" r="1.9" fill="#000" fill-opacity="0.74"/>
<circle cx="460.5" cy="319.8" r="1.9" fill="#000" fill-opacity="0.74"/>
<circle cx="460.5" cy="199.1" r="1.9" fill="#000" fill-opacity="0.74"/>
<circle cx="460.9" cy="247.6" r="1.9" fill="#000" fill-opacity="0.74"/>
<circle cx="461.6" cy="236.6" r="1.9" fill="#000" fill-opacity="0.74"/>
<circle cx="459.0" cy="233.6" r="1.9" fill="#000" fill-opacity="0.74"/>
<circle cx="458.5" cy="275.2" r="1.9" fill="#000" fill-opacity="0.74"/>
<circle cx="457.2" cy="270.3" r="1.9" fill="#000" fill-opacity="0.74"/>
<circle cx="460.5" cy="266.0" r="1.9" fill="#000" fill-opacity="0.74"/>
<circle cx="462.2" cy="282.0" r="1.9" fill="#000" fill-opacity="0.74"/>
<circle cx="455.8" cy="279.8" r="1.9" fill="#000" fill-opacity="0.74"/>
<circle cx="464.1" cy="271.0" r="1.9" fill="#000" fill-opacity="0.74"/>
<circle cx="465.5" cy="264.4" r="1.9" fill="#000" fill-opacity="0.74"/>
<circle cx="458.5" cy="283.1" r="1.9" fill="#000" fill-opacity="0.74"/>
<circle cx="464.3" cy="277.9" r="1.9" fill="#000" fill-opacity="0.74"/>
<circle cx="461.6" cy="276.0" r="1.9" fill="#000" fill-opacity="0.74"/>
<circle cx="463.6" cy="267.7" r="1.9" fill="#000" fill-opacity="0.74"/>
<circle cx="465.4" cy="273.6" r="1.9" fill="#000" fill-opacity="0.74"/>
<circle cx="464.5" cy="255.4" r="1.9" fill="#000" fill-opacity="0.74"/>
<circle cx="454.9" cy="255.6" r="1.9" fill="#000" fill-opacity="0.74"/>
<circle cx="459.3" cy="254.8" r="1.9" fill="#000" fill-opacity="0.74"/>
<circle cx="467.4" cy="254.6" r="1.9" fill="#000" fill-opacity="0.74"/>
<circle cx="461.4" cy="255.3" r="1.9" fill="#000" fill-opacity="0.74"/>
<circle cx="456.7" cy="255.0" r="1.9" fill="#000" fill-opacity="0.74"/>
<circle cx="455.3" cy="295.8" r="1.9" fill="#000" fill-opacity="0.74"/>
<circle cx="459.0" cy="289.1" r="1.9" fill="#000" fill-opacity="0.74"/>
<circle cx="461.3" cy="298.7" r="1.9" fill="#000" fill-opacity="0.74"/>
<circle cx="468.4" cy="294.2" r="1.9" fill="#000" fill-opacity="0.74"/>
<circle cx="459.6" cy="304.9" r="1.9" fill="#000" fill-opacity="0.74"/>
<circle cx="464.3" cy="290.9" r="1.9" fill="#000" fill-opacity="0.74"/>
<circle cx="452.5" cy="291.6" r="1.9" fill="#000" fill-opacity="0.74"/>
<circle cx="468.1" cy="287.5" r="1.9" fill="#000" fill-opacity="0.74"/>
<circle cx="468.1" cy="299.3" r="1.9" fill="#000" fill-opacity="0.74"/>
<circle cx="452.7" cy="285.9" r="1.9" fill="#000" fill-opacity="0.74"/>
<circle cx="452.7" cy="305.6" r="1.9" fill="#000" fill-opacity="0.74"/>
<circle cx="465.4" cy="296.8" r="1.9" fill="#000" fill-opacity="0.74"/>
<circle cx="455.4" cy="301.4" r="1.9" fill="#000" fill-opacity="0.74"/>
<circle cx="464.9" cy="303.4" r="1.9" fill="#000" fill-opacity="0.74"/>
<circle cx="462.4" cy="313.9" r="1.9" fill="#000" fill-opacity="0.74"/>
<circle cx="455.9" cy="312.8" r="1.9" fill="#000" fill-opacity="0.74"/>
<circle cx="468.2" cy="313.4" r="1.9" fill="#000" fill-opacity="0.74"/>
<circle cx="451.0" cy="312.0" r="1.9" fill="#000" fill-opacity="0.74"/>
<circle cx="459.2" cy="311.2" r="1.9" fill="#000" fill-opacity="0.74"/>
<circle cx="458.9" cy="314.6" r="1.9" fill="#000" fill-opacity="0.74"/>
<circle cx="464.1" cy="309.8" r="1.9" fill="#000" fill-opacity="0.74"/>
<circle cx="465.5" cy="312.3" r="1.9" fill="#000" fill-opacity="0.74"/>
<circle cx="451.4" cy="316.5" r="1.9" fill="#000" fill-opacity="0.74"/>
<circle cx="454.0" cy="315.2" r="1.9" fill="#000" fill-opacity="0.74"/>
<circle cx="465.9" cy="316.0" r="1.9" fill="#000" fill-opacity="0.74"/>
<circle cx="469.5" cy="317.2" r="1.9" fill="#000" fill-opacity="0.74"/>
<circle cx="469.9" cy="311.0" r="1.9" fill="#000" fill-opacity="0.74"/>
<circle cx="456.1" cy="315.4" r="1.9" fill="#000" fill-opacity="0.74"/>
<circle cx="454.2" cy="309.4" r="1.9" fill="#000" fill-opacity="0.74"/>
<circle cx="461.6" cy="310.2" r="1.9" fill="#000" fill-opacity="0.74"/>
<clipPath id="c4_0"><rect x="449.6" y="262.8" width="21.8" height="45.39999999999998"/></clipPath>
<rect x="449.6" y="262.8" width="21.8" height="45.39999999999998" fill="rgb(128,99,160)"/>
<g clip-path="url(#c4_0)"><circle cx="458.5" cy="275.2" r="1.9" fill="rgb(44,6,74)" fill-opacity="0.97"/><circle cx="457.2" cy="270.3" r="1.9" fill="rgb(44,6,74)" fill-opacity="0.97"/><circle cx="460.5" cy="266.0" r="1.9" fill="rgb(44,6,74)" fill-opacity="0.97"/><circle cx="462.2" cy="282.0" r="1.9" fill="rgb(44,6,74)" fill-opacity="0.97"/><circle cx="455.8" cy="279.8" r="1.9" fill="rgb(44,6,74)" fill-opacity="0.97"/><circle cx="464.1" cy="271.0" r="1.9" fill="rgb(44,6,74)" fill-opacity="0.97"/><circle cx="465.5" cy="264.4" r="1.9" fill="rgb(44,6,74)" fill-opacity="0.97"/><circle cx="458.5" cy="283.1" r="1.9" fill="rgb(44,6,74)" fill-opacity="0.97"/><circle cx="464.3" cy="277.9" r="1.9" fill="rgb(44,6,74)" fill-opacity="0.97"/><circle cx="461.6" cy="276.0" r="1.9" fill="rgb(44,6,74)" fill-opacity="0.97"/><circle cx="463.6" cy="267.7" r="1.9" fill="rgb(44,6,74)" fill-opacity="0.97"/><circle cx="465.4" cy="273.6" r="1.9" fill="rgb(44,6,74)" fill-opacity="0.97"/><circle cx="455.3" cy="295.8" r="1.9" fill="rgb(44,6,74)" fill-opacity="0.97"/><circle cx="459.0" cy="289.1" r="1.9" fill="rgb(44,6,74)" fill-opacity="0.97"/><circle cx="461.3" cy="298.7" r="1.9" fill="rgb(44,6,74)" fill-opacity="0.97"/><circle cx="468.4" cy="294.2" r="1.9" fill="rgb(44,6,74)" fill-opacity="0.97"/><circle cx="459.6" cy="304.9" r="1.9" fill="rgb(44,6,74)" fill-opacity="0.97"/><circle cx="464.3" cy="290.9" r="1.9" fill="rgb(44,6,74)" fill-opacity="0.97"/><circle cx="452.5" cy="291.6" r="1.9" fill="rgb(44,6,74)" fill-opacity="0.97"/><circle cx="468.1" cy="287.5" r="1.9" fill="rgb(44,6,74)" fill-opacity="0.97"/><circle cx="468.1" cy="299.3" r="1.9" fill="rgb(44,6,74)" fill-opacity="0.97"/><circle cx="452.7" cy="285.9" r="1.9" fill="rgb(44,6,74)" fill-opacity="0.97"/><circle cx="452.7" cy="305.6" r="1.9" fill="rgb(44,6,74)" fill-opacity="0.97"/><circle cx="465.4" cy="296.8" r="1.9" fill="rgb(44,6,74)" fill-opacity="0.97"/><circle cx="455.4" cy="301.4" r="1.9" fill="rgb(44,6,74)" fill-opacity="0.97"/><circle cx="464.9" cy="303.4" r="1.9" fill="rgb(44,6,74)" fill-opacity="0.97"/><circle cx="464.1" cy="309.8" r="1.9" fill="rgb(44,6,74)" fill-opacity="0.97"/><circle cx="454.2" cy="309.4" r="1.9" fill="rgb(44,6,74)" fill-opacity="0.97"/><circle cx="461.6" cy="310.2" r="1.9" fill="rgb(44,6,74)" fill-opacity="0.97"/></g>
<rect x="449.6" y="262.8" width="21.8" height="45.39999999999998" fill="none" stroke="#000" stroke-width="1.6"/>
<line x1="449.6" y1="294.9" x2="471.4" y2="294.9" stroke="#000" stroke-width="1.6"/>
<line x1="454.5" y1="188.9" x2="466.5" y2="188.9" stroke="#000" stroke-width="1.6"/>
<line x1="454.5" y1="319.8" x2="466.5" y2="319.8" stroke="#000" stroke-width="1.6"/>
<line x1="494.7" y1="220.8" x2="494.7" y2="276.7" stroke="#000" stroke-width="1.6"/>
<line x1="494.7" y1="313.6" x2="494.7" y2="322.6" stroke="#000" stroke-width="1.6"/>
<circle cx="494.7" cy="220.8" r="1.9" fill="#000" fill-opacity="0.74"/>
<circle cx="494.7" cy="322.6" r="1.9" fill="#000" fill-opacity="0.74"/>
<circle cx="494.2" cy="270.8" r="1.9" fill="#000" fill-opacity="0.74"/>
<circle cx="494.8" cy="230.0" r="1.9" fill="#000" fill-opacity="0.74"/>
<circle cx="496.7" cy="230.0" r="1.9" fill="#000" fill-opacity="0.74"/>
<circle cx="497.1" cy="261.5" r="1.9" fill="#000" fill-opacity="0.74"/>
<circle cx="496.6" cy="242.4" r="1.9" fill="#000" fill-opacity="0.74"/>
<circle cx="491.9" cy="256.9" r="1.9" fill="#000" fill-opacity="0.74"/>
<circle cx="497.4" cy="256.9" r="1.9" fill="#000" fill-opacity="0.74"/>
<circle cx="491.7" cy="242.4" r="1.9" fill="#000" fill-opacity="0.74"/>
<circle cx="492.2" cy="261.5" r="1.9" fill="#000" fill-opacity="0.74"/>
<circle cx="487.8" cy="278.8" r="1.9" fill="#000" fill-opacity="0.74"/>
<circle cx="494.8" cy="309.6" r="1.9" fill="#000" fill-opacity="0.74"/>
<circle cx="496.9" cy="303.7" r="1.9" fill="#000" fill-opacity="0.74"/>
<circle cx="496.7" cy="290.5" r="1.9" fill="#000" fill-opacity="0.74"/>
<circle cx="488.0" cy="304.4" r="1.9" fill="#000" fill-opacity="0.74"/>
<circle cx="500.1" cy="284.8" r="1.9" fill="#000" fill-opacity="0.74"/>
<circle cx="499.1" cy="295.6" r="1.9" fill="#000" fill-opacity="0.74"/>
<circle cx="491.4" cy="299.5" r="1.9" fill="#000" fill-opacity="0.74"/>
<circle cx="501.3" cy="307.8" r="1.9" fill="#000" fill-opacity="0.74"/>
<circle cx="494.5" cy="282.9" r="1.9" fill="#000" fill-opacity="0.74"/>
<circle cx="502.1" cy="300.8" r="1.9" fill="#000" fill-opacity="0.74"/>
<circle cx="486.2" cy="286.1" r="1.9" fill="#000" fill-opacity="0.74"/>
<circle cx="486.4" cy="291.4" r="1.9" fill="#000" fill-opacity="0.74"/>
<circle cx="490.3" cy="308.3" r="1.9" fill="#000" fill-opacity="0.74"/>
<circle cx="491.1" cy="288.6" r="1.9" fill="#000" fill-opacity="0.74"/>
<circle cx="501.1" cy="279.5" r="1.9" fill="#000" fill-opacity="0.74"/>
<circle cx="502.3" cy="288.0" r="1.9" fill="#000" fill-opacity="0.74"/>
<circle cx="492.6" cy="294.0" r="1.9" fill="#000" fill-opacity="0.74"/>
<circle cx="487.2" cy="297.8" r="1.9" fill="#000" fill-opacity="0.74"/>
<circle cx="486.8" cy="311.5" r="1.9" fill="#000" fill-opacity="0.74"/>
<circle cx="491.3" cy="280.8" r="1.9" fill="#000" fill-opacity="0.74"/>
<circle cx="493.5" cy="302.2" r="1.9" fill="#000" fill-opacity="0.74"/>
<circle cx="503.0" cy="297.0" r="1.9" fill="#000" fill-opacity="0.74"/>
<circle cx="489.7" cy="284.1" r="1.9" fill="#000" fill-opacity="0.74"/>
<circle cx="503.1" cy="293.4" r="1.9" fill="#000" fill-opacity="0.74"/>
<circle cx="494.1" cy="305.6" r="1.9" fill="#000" fill-opacity="0.74"/>
<circle cx="499.3" cy="317.9" r="1.9" fill="#000" fill-opacity="0.74"/>
<circle cx="503.8" cy="321.0" r="1.9" fill="#000" fill-opacity="0.74"/>
<circle cx="490.3" cy="320.2" r="1.9" fill="#000" fill-opacity="0.74"/>
<circle cx="485.3" cy="319.0" r="1.9" fill="#000" fill-opacity="0.74"/>
<circle cx="500.0" cy="321.8" r="1.9" fill="#000" fill-opacity="0.74"/>
<circle cx="494.1" cy="315.5" r="1.9" fill="#000" fill-opacity="0.74"/>
<circle cx="495.9" cy="318.4" r="1.9" fill="#000" fill-opacity="0.74"/>
<circle cx="502.7" cy="317.6" r="1.9" fill="#000" fill-opacity="0.74"/>
<circle cx="488.9" cy="316.9" r="1.9" fill="#000" fill-opacity="0.74"/>
<circle cx="497.6" cy="320.5" r="1.9" fill="#000" fill-opacity="0.74"/>
<circle cx="485.7" cy="315.7" r="1.9" fill="#000" fill-opacity="0.74"/>
<circle cx="493.2" cy="319.5" r="1.9" fill="#000" fill-opacity="0.74"/>
<circle cx="491.4" cy="316.5" r="1.9" fill="#000" fill-opacity="0.74"/>
<circle cx="500.7" cy="314.8" r="1.9" fill="#000" fill-opacity="0.74"/>
<clipPath id="c4_1"><rect x="484.09999999999997" y="276.7" width="21.2" height="36.900000000000034"/></clipPath>
<rect x="484.09999999999997" y="276.7" width="21.2" height="36.900000000000034" fill="rgb(236,198,218)"/>
<g clip-path="url(#c4_1)"><circle cx="487.8" cy="278.8" r="1.9" fill="rgb(42,30,48)" fill-opacity="0.97"/><circle cx="494.8" cy="309.6" r="1.9" fill="rgb(42,30,48)" fill-opacity="0.97"/><circle cx="496.9" cy="303.7" r="1.9" fill="rgb(42,30,48)" fill-opacity="0.97"/><circle cx="496.7" cy="290.5" r="1.9" fill="rgb(42,30,48)" fill-opacity="0.97"/><circle cx="488.0" cy="304.4" r="1.9" fill="rgb(42,30,48)" fill-opacity="0.97"/><circle cx="500.1" cy="284.8" r="1.9" fill="rgb(42,30,48)" fill-opacity="0.97"/><circle cx="499.1" cy="295.6" r="1.9" fill="rgb(42,30,48)" fill-opacity="0.97"/><circle cx="491.4" cy="299.5" r="1.9" fill="rgb(42,30,48)" fill-opacity="0.97"/><circle cx="501.3" cy="307.8" r="1.9" fill="rgb(42,30,48)" fill-opacity="0.97"/><circle cx="494.5" cy="282.9" r="1.9" fill="rgb(42,30,48)" fill-opacity="0.97"/><circle cx="502.1" cy="300.8" r="1.9" fill="rgb(42,30,48)" fill-opacity="0.97"/><circle cx="486.2" cy="286.1" r="1.9" fill="rgb(42,30,48)" fill-opacity="0.97"/><circle cx="486.4" cy="291.4" r="1.9" fill="rgb(42,30,48)" fill-opacity="0.97"/><circle cx="490.3" cy="308.3" r="1.9" fill="rgb(42,30,48)" fill-opacity="0.97"/><circle cx="491.1" cy="288.6" r="1.9" fill="rgb(42,30,48)" fill-opacity="0.97"/><circle cx="501.1" cy="279.5" r="1.9" fill="rgb(42,30,48)" fill-opacity="0.97"/><circle cx="502.3" cy="288.0" r="1.9" fill="rgb(42,30,48)" fill-opacity="0.97"/><circle cx="492.6" cy="294.0" r="1.9" fill="rgb(42,30,48)" fill-opacity="0.97"/><circle cx="487.2" cy="297.8" r="1.9" fill="rgb(42,30,48)" fill-opacity="0.97"/><circle cx="486.8" cy="311.5" r="1.9" fill="rgb(42,30,48)" fill-opacity="0.97"/><circle cx="491.3" cy="280.8" r="1.9" fill="rgb(42,30,48)" fill-opacity="0.97"/><circle cx="493.5" cy="302.2" r="1.9" fill="rgb(42,30,48)" fill-opacity="0.97"/><circle cx="503.0" cy="297.0" r="1.9" fill="rgb(42,30,48)" fill-opacity="0.97"/><circle cx="489.7" cy="284.1" r="1.9" fill="rgb(42,30,48)" fill-opacity="0.97"/><circle cx="503.1" cy="293.4" r="1.9" fill="rgb(42,30,48)" fill-opacity="0.97"/><circle cx="494.1" cy="305.6" r="1.9" fill="rgb(42,30,48)" fill-opacity="0.97"/><circle cx="494.1" cy="315.5" r="1.9" fill="rgb(42,30,48)" fill-opacity="0.97"/><circle cx="500.7" cy="314.8" r="1.9" fill="rgb(42,30,48)" fill-opacity="0.97"/></g>
<rect x="484.09999999999997" y="276.7" width="21.2" height="36.900000000000034" fill="none" stroke="#000" stroke-width="1.6"/>
<line x1="484.09999999999997" y1="300.7" x2="505.3" y2="300.7" stroke="#000" stroke-width="1.6"/>
<line x1="488.7" y1="220.8" x2="500.7" y2="220.8" stroke="#000" stroke-width="1.6"/>
<line x1="488.7" y1="322.6" x2="500.7" y2="322.6" stroke="#000" stroke-width="1.6"/>
<text x="465.6" y="126.6" font-size="11.3" text-anchor="middle" fill="#333" >HR displacement</text>
<text x="417.0" y="149.6" font-size="9.5" text-anchor="middle" fill="#333" >(Δ BPM)</text>
<text x="478.5" y="154.2" font-size="9.5" text-anchor="middle" fill="#333"><tspan font-style="italic">p</tspan>=0.2736</text>
<path d="M460,160.4 V157.8 H492.6 V160.4" fill="none" stroke="#444" stroke-width="1"/>
<line x1="555.4" y1="158.2" x2="559.9" y2="158.2" stroke="#000" stroke-width="1.4"/>
<line x1="555.4" y1="199.62499999999997" x2="559.9" y2="199.62499999999997" stroke="#000" stroke-width="1.4"/>
<line x1="555.4" y1="241.04999999999998" x2="559.9" y2="241.04999999999998" stroke="#000" stroke-width="1.4"/>
<line x1="555.4" y1="282.47499999999997" x2="559.9" y2="282.47499999999997" stroke="#000" stroke-width="1.4"/>
<line x1="555.4" y1="323.9" x2="559.9" y2="323.9" stroke="#000" stroke-width="1.4"/>
<text transform="translate(553.10,163.27) scale(1,1.1)" font-size="11.6" text-anchor="end" fill="#333">1.2</text>
<text transform="translate(553.10,204.69) scale(1,1.1)" font-size="11.6" text-anchor="end" fill="#333">0.9</text>
<text transform="translate(553.10,246.12) scale(1,1.1)" font-size="11.6" text-anchor="end" fill="#333">0.6</text>
<text transform="translate(553.10,287.54) scale(1,1.1)" font-size="11.6" text-anchor="end" fill="#333">0.3</text>
<text transform="translate(553.10,328.97) scale(1,1.1)" font-size="11.6" text-anchor="end" fill="#333">0.0</text>
<line x1="559.9" y1="157.5" x2="559.9" y2="324.7" stroke="#000" stroke-width="1.6"/>
<line x1="555.4" y1="323.9" x2="637" y2="323.9" stroke="#000" stroke-width="1.6"/>
<line x1="582.3" y1="323.9" x2="582.3" y2="328.4" stroke="#000" stroke-width="1.4"/>
<text x="581.9" y="340.8" font-size="11" text-anchor="middle" fill="#333" >High</text>
<line x1="615.2" y1="323.9" x2="615.2" y2="328.4" stroke="#000" stroke-width="1.4"/>
<text x="613.5" y="340.8" font-size="11" text-anchor="middle" fill="#333" >Low</text>
<line x1="582.3" y1="213.9" x2="582.3" y2="291.7" stroke="#000" stroke-width="1.6"/>
<line x1="582.3" y1="316.9" x2="582.3" y2="321" stroke="#000" stroke-width="1.6"/>
<circle cx="582.1" cy="240.3" r="1.9" fill="#000" fill-opacity="0.74"/>
<circle cx="582.0" cy="257.9" r="1.9" fill="#000" fill-opacity="0.74"/>
<circle cx="582.5" cy="281.0" r="1.9" fill="#000" fill-opacity="0.74"/>
<circle cx="581.3" cy="277.6" r="1.9" fill="#000" fill-opacity="0.74"/>
<circle cx="583.2" cy="253.4" r="1.9" fill="#000" fill-opacity="0.74"/>
<circle cx="584.1" cy="267.9" r="1.9" fill="#000" fill-opacity="0.74"/>
<circle cx="580.4" cy="267.9" r="1.9" fill="#000" fill-opacity="0.74"/>
<circle cx="582.8" cy="213.9" r="1.9" fill="#000" fill-opacity="0.74"/>
<circle cx="580.5" cy="213.9" r="1.9" fill="#000" fill-opacity="0.74"/>
<circle cx="584.7" cy="273.7" r="1.9" fill="#000" fill-opacity="0.74"/>
<circle cx="579.6" cy="273.7" r="1.9" fill="#000" fill-opacity="0.74"/>
<circle cx="580.7" cy="308.2" r="1.9" fill="#000" fill-opacity="0.74"/>
<circle cx="586.4" cy="307.3" r="1.9" fill="#000" fill-opacity="0.74"/>
<circle cx="584.6" cy="294.0" r="1.9" fill="#000" fill-opacity="0.74"/>
<circle cx="575.7" cy="305.4" r="1.9" fill="#000" fill-opacity="0.74"/>
<circle cx="577.0" cy="314.8" r="1.9" fill="#000" fill-opacity="0.74"/>
<circle cx="575.9" cy="296.8" r="1.9" fill="#000" fill-opacity="0.74"/>
<circle cx="589.4" cy="299.2" r="1.9" fill="#000" fill-opacity="0.74"/>
<circle cx="581.4" cy="297.5" r="1.9" fill="#000" fill-opacity="0.74"/>
<circle cx="587.4" cy="296.0" r="1.9" fill="#000" fill-opacity="0.74"/>
<circle cx="584.5" cy="298.9" r="1.9" fill="#000" fill-opacity="0.74"/>
<circle cx="578.9" cy="293.0" r="1.9" fill="#000" fill-opacity="0.74"/>
<circle cx="576.3" cy="309.5" r="1.9" fill="#000" fill-opacity="0.74"/>
<circle cx="583.7" cy="312.6" r="1.9" fill="#000" fill-opacity="0.74"/>
<circle cx="588.6" cy="313.9" r="1.9" fill="#000" fill-opacity="0.74"/>
<circle cx="587.2" cy="310.8" r="1.9" fill="#000" fill-opacity="0.74"/>
<circle cx="579.7" cy="302.1" r="1.9" fill="#000" fill-opacity="0.74"/>
<circle cx="582.3" cy="295.2" r="1.9" fill="#000" fill-opacity="0.74"/>
<circle cx="579.4" cy="311.4" r="1.9" fill="#000" fill-opacity="0.74"/>
<circle cx="585.0" cy="303.2" r="1.9" fill="#000" fill-opacity="0.74"/>
<circle cx="575.4" cy="301.4" r="1.9" fill="#000" fill-opacity="0.74"/>
<circle cx="582.2" cy="300.3" r="1.9" fill="#000" fill-opacity="0.74"/>
<circle cx="589.6" cy="309.0" r="1.9" fill="#000" fill-opacity="0.74"/>
<circle cx="589.4" cy="304.4" r="1.9" fill="#000" fill-opacity="0.74"/>
<circle cx="583.4" cy="306.4" r="1.9" fill="#000" fill-opacity="0.74"/>
<circle cx="578.2" cy="320.8" r="1.9" fill="#000" fill-opacity="0.74"/>
<circle cx="587.8" cy="321.6" r="1.9" fill="#000" fill-opacity="0.74"/>
<circle cx="583.5" cy="320.4" r="1.9" fill="#000" fill-opacity="0.74"/>
<circle cx="575.3" cy="318.9" r="1.9" fill="#000" fill-opacity="0.74"/>
<circle cx="589.0" cy="318.1" r="1.9" fill="#000" fill-opacity="0.74"/>
<circle cx="581.4" cy="317.4" r="1.9" fill="#000" fill-opacity="0.74"/>
<circle cx="585.5" cy="317.0" r="1.9" fill="#000" fill-opacity="0.74"/>
<circle cx="586.4" cy="319.3" r="1.9" fill="#000" fill-opacity="0.74"/>
<clipPath id="c5_0"><rect x="571.6999999999999" y="291.7" width="21.2" height="25.19999999999999"/></clipPath>
<rect x="571.6999999999999" y="291.7" width="21.2" height="25.19999999999999" fill="rgb(128,99,160)"/>
<g clip-path="url(#c5_0)"><circle cx="580.7" cy="308.2" r="1.9" fill="rgb(44,6,74)" fill-opacity="0.97"/><circle cx="586.4" cy="307.3" r="1.9" fill="rgb(44,6,74)" fill-opacity="0.97"/><circle cx="584.6" cy="294.0" r="1.9" fill="rgb(44,6,74)" fill-opacity="0.97"/><circle cx="575.7" cy="305.4" r="1.9" fill="rgb(44,6,74)" fill-opacity="0.97"/><circle cx="577.0" cy="314.8" r="1.9" fill="rgb(44,6,74)" fill-opacity="0.97"/><circle cx="575.9" cy="296.8" r="1.9" fill="rgb(44,6,74)" fill-opacity="0.97"/><circle cx="589.4" cy="299.2" r="1.9" fill="rgb(44,6,74)" fill-opacity="0.97"/><circle cx="581.4" cy="297.5" r="1.9" fill="rgb(44,6,74)" fill-opacity="0.97"/><circle cx="587.4" cy="296.0" r="1.9" fill="rgb(44,6,74)" fill-opacity="0.97"/><circle cx="584.5" cy="298.9" r="1.9" fill="rgb(44,6,74)" fill-opacity="0.97"/><circle cx="578.9" cy="293.0" r="1.9" fill="rgb(44,6,74)" fill-opacity="0.97"/><circle cx="576.3" cy="309.5" r="1.9" fill="rgb(44,6,74)" fill-opacity="0.97"/><circle cx="583.7" cy="312.6" r="1.9" fill="rgb(44,6,74)" fill-opacity="0.97"/><circle cx="588.6" cy="313.9" r="1.9" fill="rgb(44,6,74)" fill-opacity="0.97"/><circle cx="587.2" cy="310.8" r="1.9" fill="rgb(44,6,74)" fill-opacity="0.97"/><circle cx="579.7" cy="302.1" r="1.9" fill="rgb(44,6,74)" fill-opacity="0.97"/><circle cx="582.3" cy="295.2" r="1.9" fill="rgb(44,6,74)" fill-opacity="0.97"/><circle cx="579.4" cy="311.4" r="1.9" fill="rgb(44,6,74)" fill-opacity="0.97"/><circle cx="585.0" cy="303.2" r="1.9" fill="rgb(44,6,74)" fill-opacity="0.97"/><circle cx="575.4" cy="301.4" r="1.9" fill="rgb(44,6,74)" fill-opacity="0.97"/><circle cx="582.2" cy="300.3" r="1.9" fill="rgb(44,6,74)" fill-opacity="0.97"/><circle cx="589.6" cy="309.0" r="1.9" fill="rgb(44,6,74)" fill-opacity="0.97"/><circle cx="589.4" cy="304.4" r="1.9" fill="rgb(44,6,74)" fill-opacity="0.97"/><circle cx="583.4" cy="306.4" r="1.9" fill="rgb(44,6,74)" fill-opacity="0.97"/><circle cx="575.3" cy="318.9" r="1.9" fill="rgb(44,6,74)" fill-opacity="0.97"/><circle cx="589.0" cy="318.1" r="1.9" fill="rgb(44,6,74)" fill-opacity="0.97"/><circle cx="581.4" cy="317.4" r="1.9" fill="rgb(44,6,74)" fill-opacity="0.97"/><circle cx="585.5" cy="317.0" r="1.9" fill="rgb(44,6,74)" fill-opacity="0.97"/></g>
<rect x="571.6999999999999" y="291.7" width="21.2" height="25.19999999999999" fill="none" stroke="#000" stroke-width="1.6"/>
<line x1="571.6999999999999" y1="306.6" x2="592.9" y2="306.6" stroke="#000" stroke-width="1.6"/>
<line x1="576.3" y1="213.9" x2="588.3" y2="213.9" stroke="#000" stroke-width="1.6"/>
<line x1="576.3" y1="321" x2="588.3" y2="321" stroke="#000" stroke-width="1.6"/>
<line x1="615.2" y1="168.4" x2="615.2" y2="317.2" stroke="#000" stroke-width="1.6"/>
<line x1="615.2" y1="322" x2="615.2" y2="323" stroke="#000" stroke-width="1.6"/>
<circle cx="615.2" cy="257.4" r="1.9" fill="#000" fill-opacity="0.74"/>
<circle cx="615.2" cy="292.4" r="1.9" fill="#000" fill-opacity="0.74"/>
<circle cx="615.2" cy="297.4" r="1.9" fill="#000" fill-opacity="0.74"/>
<circle cx="615.2" cy="311.8" r="1.9" fill="#000" fill-opacity="0.74"/>
<circle cx="615.2" cy="304.4" r="1.9" fill="#000" fill-opacity="0.74"/>
<circle cx="615.2" cy="168.4" r="1.9" fill="#000" fill-opacity="0.74"/>
<circle cx="610.5" cy="314.9" r="1.9" fill="#000" fill-opacity="0.74"/>
<circle cx="619.2" cy="315.8" r="1.9" fill="#000" fill-opacity="0.74"/>
<circle cx="614.6" cy="315.4" r="1.9" fill="#000" fill-opacity="0.74"/>
<circle cx="616.5" cy="316.3" r="1.9" fill="#000" fill-opacity="0.74"/>
<circle cx="618.3" cy="322.4" r="1.9" fill="#000" fill-opacity="0.74"/>
<circle cx="608.1" cy="321.6" r="1.9" fill="#000" fill-opacity="0.74"/>
<circle cx="613.9" cy="321.0" r="1.9" fill="#000" fill-opacity="0.74"/>
<circle cx="622.7" cy="321.6" r="1.9" fill="#000" fill-opacity="0.74"/>
<circle cx="616.9" cy="320.3" r="1.9" fill="#000" fill-opacity="0.74"/>
<circle cx="622.1" cy="318.0" r="1.9" fill="#000" fill-opacity="0.74"/>
<circle cx="611.8" cy="321.8" r="1.9" fill="#000" fill-opacity="0.74"/>
<circle cx="609.6" cy="319.2" r="1.9" fill="#000" fill-opacity="0.74"/>
<circle cx="619.9" cy="321.1" r="1.9" fill="#000" fill-opacity="0.74"/>
<circle cx="611.7" cy="319.6" r="1.9" fill="#000" fill-opacity="0.74"/>
<circle cx="610.2" cy="320.8" r="1.9" fill="#000" fill-opacity="0.74"/>
<circle cx="621.4" cy="321.2" r="1.9" fill="#000" fill-opacity="0.74"/>
<circle cx="613.7" cy="317.8" r="1.9" fill="#000" fill-opacity="0.74"/>
<circle cx="619.5" cy="318.3" r="1.9" fill="#000" fill-opacity="0.74"/>
<circle cx="615.9" cy="322.0" r="1.9" fill="#000" fill-opacity="0.74"/>
<circle cx="615.6" cy="318.1" r="1.9" fill="#000" fill-opacity="0.74"/>
<circle cx="607.9" cy="319.3" r="1.9" fill="#000" fill-opacity="0.74"/>
<circle cx="622.5" cy="319.9" r="1.9" fill="#000" fill-opacity="0.74"/>
<circle cx="620.9" cy="319.4" r="1.9" fill="#000" fill-opacity="0.74"/>
<circle cx="609.9" cy="322.8" r="1.9" fill="#000" fill-opacity="0.74"/>
<circle cx="614.5" cy="322.3" r="1.9" fill="#000" fill-opacity="0.74"/>
<circle cx="618.3" cy="319.7" r="1.9" fill="#000" fill-opacity="0.74"/>
<circle cx="620.7" cy="322.2" r="1.9" fill="#000" fill-opacity="0.74"/>
<circle cx="612.8" cy="322.6" r="1.9" fill="#000" fill-opacity="0.74"/>
<circle cx="612.7" cy="318.6" r="1.9" fill="#000" fill-opacity="0.74"/>
<circle cx="608.9" cy="320.1" r="1.9" fill="#000" fill-opacity="0.74"/>
<circle cx="610.8" cy="317.6" r="1.9" fill="#000" fill-opacity="0.74"/>
<circle cx="615.3" cy="320.5" r="1.9" fill="#000" fill-opacity="0.74"/>
<circle cx="617.0" cy="318.9" r="1.9" fill="#000" fill-opacity="0.74"/>
<circle cx="608.7" cy="317.8" r="1.9" fill="#000" fill-opacity="0.74"/>
<circle cx="619.4" cy="320.2" r="1.9" fill="#000" fill-opacity="0.74"/>
<circle cx="617.8" cy="321.4" r="1.9" fill="#000" fill-opacity="0.74"/>
<circle cx="612.3" cy="320.7" r="1.9" fill="#000" fill-opacity="0.74"/>
<circle cx="618.1" cy="318.5" r="1.9" fill="#000" fill-opacity="0.74"/>
<circle cx="614.5" cy="318.8" r="1.9" fill="#000" fill-opacity="0.74"/>
<circle cx="622.3" cy="323.0" r="1.9" fill="#000" fill-opacity="0.74"/>
<clipPath id="c5_1"><rect x="604.2" y="317.2" width="22" height="4.800000000000011"/></clipPath>
<rect x="604.2" y="317.2" width="22" height="4.800000000000011" fill="rgb(236,198,218)"/>
<g clip-path="url(#c5_1)"><circle cx="619.2" cy="315.8" r="1.9" fill="rgb(42,30,48)" fill-opacity="0.97"/><circle cx="614.6" cy="315.4" r="1.9" fill="rgb(42,30,48)" fill-opacity="0.97"/><circle cx="616.5" cy="316.3" r="1.9" fill="rgb(42,30,48)" fill-opacity="0.97"/><circle cx="618.3" cy="322.4" r="1.9" fill="rgb(42,30,48)" fill-opacity="0.97"/><circle cx="608.1" cy="321.6" r="1.9" fill="rgb(42,30,48)" fill-opacity="0.97"/><circle cx="613.9" cy="321.0" r="1.9" fill="rgb(42,30,48)" fill-opacity="0.97"/><circle cx="622.7" cy="321.6" r="1.9" fill="rgb(42,30,48)" fill-opacity="0.97"/><circle cx="616.9" cy="320.3" r="1.9" fill="rgb(42,30,48)" fill-opacity="0.97"/><circle cx="622.1" cy="318.0" r="1.9" fill="rgb(42,30,48)" fill-opacity="0.97"/><circle cx="611.8" cy="321.8" r="1.9" fill="rgb(42,30,48)" fill-opacity="0.97"/><circle cx="609.6" cy="319.2" r="1.9" fill="rgb(42,30,48)" fill-opacity="0.97"/><circle cx="619.9" cy="321.1" r="1.9" fill="rgb(42,30,48)" fill-opacity="0.97"/><circle cx="611.7" cy="319.6" r="1.9" fill="rgb(42,30,48)" fill-opacity="0.97"/><circle cx="610.2" cy="320.8" r="1.9" fill="rgb(42,30,48)" fill-opacity="0.97"/><circle cx="621.4" cy="321.2" r="1.9" fill="rgb(42,30,48)" fill-opacity="0.97"/><circle cx="613.7" cy="317.8" r="1.9" fill="rgb(42,30,48)" fill-opacity="0.97"/><circle cx="619.5" cy="318.3" r="1.9" fill="rgb(42,30,48)" fill-opacity="0.97"/><circle cx="615.9" cy="322.0" r="1.9" fill="rgb(42,30,48)" fill-opacity="0.97"/><circle cx="615.6" cy="318.1" r="1.9" fill="rgb(42,30,48)" fill-opacity="0.97"/><circle cx="607.9" cy="319.3" r="1.9" fill="rgb(42,30,48)" fill-opacity="0.97"/><circle cx="622.5" cy="319.9" r="1.9" fill="rgb(42,30,48)" fill-opacity="0.97"/><circle cx="620.9" cy="319.4" r="1.9" fill="rgb(42,30,48)" fill-opacity="0.97"/><circle cx="609.9" cy="322.8" r="1.9" fill="rgb(42,30,48)" fill-opacity="0.97"/><circle cx="614.5" cy="322.3" r="1.9" fill="rgb(42,30,48)" fill-opacity="0.97"/><circle cx="618.3" cy="319.7" r="1.9" fill="rgb(42,30,48)" fill-opacity="0.97"/><circle cx="620.7" cy="322.2" r="1.9" fill="rgb(42,30,48)" fill-opacity="0.97"/><circle cx="612.8" cy="322.6" r="1.9" fill="rgb(42,30,48)" fill-opacity="0.97"/><circle cx="612.7" cy="318.6" r="1.9" fill="rgb(42,30,48)" fill-opacity="0.97"/><circle cx="608.9" cy="320.1" r="1.9" fill="rgb(42,30,48)" fill-opacity="0.97"/><circle cx="610.8" cy="317.6" r="1.9" fill="rgb(42,30,48)" fill-opacity="0.97"/><circle cx="615.3" cy="320.5" r="1.9" fill="rgb(42,30,48)" fill-opacity="0.97"/><circle cx="617.0" cy="318.9" r="1.9" fill="rgb(42,30,48)" fill-opacity="0.97"/><circle cx="608.7" cy="317.8" r="1.9" fill="rgb(42,30,48)" fill-opacity="0.97"/><circle cx="619.4" cy="320.2" r="1.9" fill="rgb(42,30,48)" fill-opacity="0.97"/><circle cx="617.8" cy="321.4" r="1.9" fill="rgb(42,30,48)" fill-opacity="0.97"/><circle cx="612.3" cy="320.7" r="1.9" fill="rgb(42,30,48)" fill-opacity="0.97"/><circle cx="618.1" cy="318.5" r="1.9" fill="rgb(42,30,48)" fill-opacity="0.97"/><circle cx="614.5" cy="318.8" r="1.9" fill="rgb(42,30,48)" fill-opacity="0.97"/><circle cx="622.3" cy="323.0" r="1.9" fill="rgb(42,30,48)" fill-opacity="0.97"/></g>
<rect x="604.2" y="317.2" width="22" height="4.800000000000011" fill="none" stroke="#000" stroke-width="1.6"/>
<line x1="604.2" y1="319.6" x2="626.2" y2="319.6" stroke="#000" stroke-width="1.6"/>
<line x1="609.2" y1="168.4" x2="621.2" y2="168.4" stroke="#000" stroke-width="1.6"/>
<line x1="609.2" y1="323" x2="621.2" y2="323" stroke="#000" stroke-width="1.6"/>
<text x="596.8" y="120.8" font-size="11.3" text-anchor="middle" fill="#333" >SSS venous</text>
<text x="599.2" y="132.6" font-size="11.3" text-anchor="middle" fill="#333" >displacement</text>
<text x="548.7" y="149.6" font-size="9.5" text-anchor="middle" fill="#333" >(ml)</text>
<polygon points="595.70,137.50 596.32,138.95 597.89,139.09 596.70,140.12 597.05,141.66 595.70,140.85 594.35,141.66 594.70,140.12 593.51,139.09 595.08,138.95" fill="#333"/>
<polygon points="599.90,137.50 600.52,138.95 602.09,139.09 600.90,140.12 601.25,141.66 599.90,140.85 598.55,141.66 598.90,140.12 597.71,139.09 599.28,138.95" fill="#333"/>
<text x="598.6" y="154.2" font-size="9.5" text-anchor="middle" fill="#333"><tspan font-style="italic">p</tspan>=0.004</text>
<path d="M583,160.4 V157.8 H615.1 V160.4" fill="none" stroke="#444" stroke-width="1"/>
<line x1="16.3" y1="472.7" x2="20.8" y2="472.7" stroke="#000" stroke-width="1.4"/>
<line x1="16.3" y1="511.5" x2="20.8" y2="511.5" stroke="#000" stroke-width="1.4"/>
<line x1="16.3" y1="550.3" x2="20.8" y2="550.3" stroke="#000" stroke-width="1.4"/>
<line x1="16.3" y1="589.1" x2="20.8" y2="589.1" stroke="#000" stroke-width="1.4"/>
<line x1="16.3" y1="627.9" x2="20.8" y2="627.9" stroke="#000" stroke-width="1.4"/>
<text transform="translate(14.70,476.46) scale(1,1.0)" font-size="10.5" text-anchor="end" fill="#333">2.0</text>
<text transform="translate(14.70,515.26) scale(1,1.0)" font-size="10.5" text-anchor="end" fill="#333">1.5</text>
<text transform="translate(14.70,554.06) scale(1,1.0)" font-size="10.5" text-anchor="end" fill="#333">1.0</text>
<text transform="translate(14.70,592.86) scale(1,1.0)" font-size="10.5" text-anchor="end" fill="#333">0.5</text>
<text transform="translate(14.70,631.66) scale(1,1.0)" font-size="10.5" text-anchor="end" fill="#333">0.0</text>
<line x1="20.8" y1="472.0" x2="20.8" y2="628.6999999999999" stroke="#000" stroke-width="1.6"/>
<line x1="16.3" y1="627.9" x2="93.8" y2="627.9" stroke="#000" stroke-width="1.6"/>
<line x1="41.9" y1="627.9" x2="41.9" y2="632.4" stroke="#000" stroke-width="1.4"/>
<text x="41.5" y="642.6" font-size="10.3" text-anchor="middle" fill="#333" >High</text>
<line x1="73.1" y1="627.9" x2="73.1" y2="632.4" stroke="#000" stroke-width="1.4"/>
<text x="73.0" y="642.6" font-size="10.3" text-anchor="middle" fill="#333" >Low</text>
<line x1="41.9" y1="506.6" x2="41.9" y2="538.8" stroke="#000" stroke-width="1.6"/>
<line x1="41.9" y1="569.8" x2="41.9" y2="601.8" stroke="#000" stroke-width="1.6"/>
<circle cx="41.9" cy="601.8" r="1.9" fill="#000" fill-opacity="0.74"/>
<circle cx="41.9" cy="506.6" r="1.9" fill="#000" fill-opacity="0.74"/>
<circle cx="42.2" cy="514.2" r="1.9" fill="#000" fill-opacity="0.74"/>
<circle cx="42.0" cy="530.6" r="1.9" fill="#000" fill-opacity="0.74"/>
<circle cx="41.4" cy="585.8" r="1.9" fill="#000" fill-opacity="0.74"/>
<circle cx="39.1" cy="571.6" r="1.9" fill="#000" fill-opacity="0.74"/>
<circle cx="44.6" cy="523.5" r="1.9" fill="#000" fill-opacity="0.74"/>
<circle cx="39.0" cy="523.5" r="1.9" fill="#000" fill-opacity="0.74"/>
<circle cx="44.8" cy="571.6" r="1.9" fill="#000" fill-opacity="0.74"/>
<circle cx="40.0" cy="536.0" r="1.9" fill="#000" fill-opacity="0.74"/>
<circle cx="46.0" cy="536.0" r="1.9" fill="#000" fill-opacity="0.74"/>
<circle cx="37.1" cy="536.0" r="1.9" fill="#000" fill-opacity="0.74"/>
<circle cx="46.5" cy="582.3" r="1.9" fill="#000" fill-opacity="0.74"/>
<circle cx="47.8" cy="575.4" r="1.9" fill="#000" fill-opacity="0.74"/>
<circle cx="47.4" cy="521.7" r="1.9" fill="#000" fill-opacity="0.74"/>
<circle cx="36.0" cy="521.7" r="1.9" fill="#000" fill-opacity="0.74"/>
<circle cx="37.0" cy="582.3" r="1.9" fill="#000" fill-opacity="0.74"/>
<circle cx="42.7" cy="582.3" r="1.9" fill="#000" fill-opacity="0.74"/>
<circle cx="41.8" cy="521.7" r="1.9" fill="#000" fill-opacity="0.74"/>
<circle cx="36.3" cy="576.1" r="1.9" fill="#000" fill-opacity="0.74"/>
<circle cx="42.7" cy="577.1" r="1.9" fill="#000" fill-opacity="0.74"/>
<circle cx="39.6" cy="582.3" r="1.9" fill="#000" fill-opacity="0.74"/>
<circle cx="39.1" cy="578.3" r="1.9" fill="#000" fill-opacity="0.74"/>
<circle cx="37.1" cy="542.2" r="1.9" fill="#000" fill-opacity="0.74"/>
<circle cx="34.1" cy="568.5" r="1.9" fill="#000" fill-opacity="0.74"/>
<circle cx="48.7" cy="560.6" r="1.9" fill="#000" fill-opacity="0.74"/>
<circle cx="47.9" cy="567.2" r="1.9" fill="#000" fill-opacity="0.74"/>
<circle cx="47.5" cy="552.0" r="1.9" fill="#000" fill-opacity="0.74"/>
<circle cx="38.9" cy="551.3" r="1.9" fill="#000" fill-opacity="0.74"/>
<circle cx="38.3" cy="558.5" r="1.9" fill="#000" fill-opacity="0.74"/>
<circle cx="46.0" cy="543.7" r="1.9" fill="#000" fill-opacity="0.74"/>
<circle cx="37.3" cy="564.0" r="1.9" fill="#000" fill-opacity="0.74"/>
<circle cx="42.0" cy="540.9" r="1.9" fill="#000" fill-opacity="0.74"/>
<circle cx="34.5" cy="553.4" r="1.9" fill="#000" fill-opacity="0.74"/>
<circle cx="44.8" cy="556.7" r="1.9" fill="#000" fill-opacity="0.74"/>
<circle cx="43.1" cy="549.9" r="1.9" fill="#000" fill-opacity="0.74"/>
<circle cx="42.2" cy="565.7" r="1.9" fill="#000" fill-opacity="0.74"/>
<circle cx="34.4" cy="559.0" r="1.9" fill="#000" fill-opacity="0.74"/>
<circle cx="35.3" cy="547.7" r="1.9" fill="#000" fill-opacity="0.74"/>
<circle cx="48.9" cy="546.6" r="1.9" fill="#000" fill-opacity="0.74"/>
<circle cx="41.0" cy="554.8" r="1.9" fill="#000" fill-opacity="0.74"/>
<circle cx="41.2" cy="544.8" r="1.9" fill="#000" fill-opacity="0.74"/>
<circle cx="44.8" cy="562.3" r="1.9" fill="#000" fill-opacity="0.74"/>
<clipPath id="c6_0"><rect x="31.9" y="538.8" width="20" height="31.0"/></clipPath>
<rect x="31.9" y="538.8" width="20" height="31.0" fill="rgb(128,99,160)"/>
<g clip-path="url(#c6_0)"><circle cx="39.1" cy="571.6" r="1.9" fill="rgb(44,6,74)" fill-opacity="0.97"/><circle cx="44.8" cy="571.6" r="1.9" fill="rgb(44,6,74)" fill-opacity="0.97"/><circle cx="37.1" cy="542.2" r="1.9" fill="rgb(44,6,74)" fill-opacity="0.97"/><circle cx="34.1" cy="568.5" r="1.9" fill="rgb(44,6,74)" fill-opacity="0.97"/><circle cx="48.7" cy="560.6" r="1.9" fill="rgb(44,6,74)" fill-opacity="0.97"/><circle cx="47.9" cy="567.2" r="1.9" fill="rgb(44,6,74)" fill-opacity="0.97"/><circle cx="47.5" cy="552.0" r="1.9" fill="rgb(44,6,74)" fill-opacity="0.97"/><circle cx="38.9" cy="551.3" r="1.9" fill="rgb(44,6,74)" fill-opacity="0.97"/><circle cx="38.3" cy="558.5" r="1.9" fill="rgb(44,6,74)" fill-opacity="0.97"/><circle cx="46.0" cy="543.7" r="1.9" fill="rgb(44,6,74)" fill-opacity="0.97"/><circle cx="37.3" cy="564.0" r="1.9" fill="rgb(44,6,74)" fill-opacity="0.97"/><circle cx="42.0" cy="540.9" r="1.9" fill="rgb(44,6,74)" fill-opacity="0.97"/><circle cx="34.5" cy="553.4" r="1.9" fill="rgb(44,6,74)" fill-opacity="0.97"/><circle cx="44.8" cy="556.7" r="1.9" fill="rgb(44,6,74)" fill-opacity="0.97"/><circle cx="43.1" cy="549.9" r="1.9" fill="rgb(44,6,74)" fill-opacity="0.97"/><circle cx="42.2" cy="565.7" r="1.9" fill="rgb(44,6,74)" fill-opacity="0.97"/><circle cx="34.4" cy="559.0" r="1.9" fill="rgb(44,6,74)" fill-opacity="0.97"/><circle cx="35.3" cy="547.7" r="1.9" fill="rgb(44,6,74)" fill-opacity="0.97"/><circle cx="48.9" cy="546.6" r="1.9" fill="rgb(44,6,74)" fill-opacity="0.97"/><circle cx="41.0" cy="554.8" r="1.9" fill="rgb(44,6,74)" fill-opacity="0.97"/><circle cx="41.2" cy="544.8" r="1.9" fill="rgb(44,6,74)" fill-opacity="0.97"/><circle cx="44.8" cy="562.3" r="1.9" fill="rgb(44,6,74)" fill-opacity="0.97"/></g>
<rect x="31.9" y="538.8" width="20" height="31.0" fill="none" stroke="#000" stroke-width="1.6"/>
<line x1="31.9" y1="557.1" x2="51.9" y2="557.1" stroke="#000" stroke-width="1.6"/>
<line x1="36.1" y1="506.6" x2="47.699999999999996" y2="506.6" stroke="#000" stroke-width="1.6"/>
<line x1="36.1" y1="601.8" x2="47.699999999999996" y2="601.8" stroke="#000" stroke-width="1.6"/>
<line x1="73.1" y1="511.9" x2="73.1" y2="555.6" stroke="#000" stroke-width="1.6"/>
<line x1="73.1" y1="576" x2="73.1" y2="597" stroke="#000" stroke-width="1.6"/>
<circle cx="73.1" cy="511.9" r="1.9" fill="#000" fill-opacity="0.74"/>
<circle cx="73.1" cy="597.0" r="1.9" fill="#000" fill-opacity="0.74"/>
<circle cx="73.0" cy="516.9" r="1.9" fill="#000" fill-opacity="0.74"/>
<circle cx="72.7" cy="533.3" r="1.9" fill="#000" fill-opacity="0.74"/>
<circle cx="76.4" cy="588.7" r="1.9" fill="#000" fill-opacity="0.74"/>
<circle cx="76.3" cy="539.8" r="1.9" fill="#000" fill-opacity="0.74"/>
<circle cx="68.1" cy="553.8" r="1.9" fill="#000" fill-opacity="0.74"/>
<circle cx="71.5" cy="585.6" r="1.9" fill="#000" fill-opacity="0.74"/>
<circle cx="68.2" cy="587.6" r="1.9" fill="#000" fill-opacity="0.74"/>
<circle cx="77.0" cy="578.9" r="1.9" fill="#000" fill-opacity="0.74"/>
<circle cx="68.4" cy="581.8" r="1.9" fill="#000" fill-opacity="0.74"/>
<circle cx="72.6" cy="580.6" r="1.9" fill="#000" fill-opacity="0.74"/>
<circle cx="69.3" cy="578.1" r="1.9" fill="#000" fill-opacity="0.74"/>
<circle cx="76.1" cy="553.8" r="1.9" fill="#000" fill-opacity="0.74"/>
<circle cx="70.5" cy="546.6" r="1.9" fill="#000" fill-opacity="0.74"/>
<circle cx="72.0" cy="590.0" r="1.9" fill="#000" fill-opacity="0.74"/>
<circle cx="71.2" cy="540.9" r="1.9" fill="#000" fill-opacity="0.74"/>
<circle cx="77.6" cy="546.6" r="1.9" fill="#000" fill-opacity="0.74"/>
<circle cx="74.4" cy="546.6" r="1.9" fill="#000" fill-opacity="0.74"/>
<circle cx="68.3" cy="542.4" r="1.9" fill="#000" fill-opacity="0.74"/>
<circle cx="77.9" cy="586.5" r="1.9" fill="#000" fill-opacity="0.74"/>
<circle cx="68.2" cy="546.6" r="1.9" fill="#000" fill-opacity="0.74"/>
<circle cx="75.0" cy="583.7" r="1.9" fill="#000" fill-opacity="0.74"/>
<circle cx="74.0" cy="541.6" r="1.9" fill="#000" fill-opacity="0.74"/>
<circle cx="71.2" cy="582.8" r="1.9" fill="#000" fill-opacity="0.74"/>
<circle cx="72.0" cy="571.8" r="1.9" fill="#000" fill-opacity="0.74"/>
<circle cx="76.6" cy="568.9" r="1.9" fill="#000" fill-opacity="0.74"/>
<circle cx="76.4" cy="562.8" r="1.9" fill="#000" fill-opacity="0.74"/>
<circle cx="66.8" cy="567.0" r="1.9" fill="#000" fill-opacity="0.74"/>
<circle cx="81.2" cy="571.1" r="1.9" fill="#000" fill-opacity="0.74"/>
<circle cx="66.0" cy="574.3" r="1.9" fill="#000" fill-opacity="0.74"/>
<circle cx="71.1" cy="568.2" r="1.9" fill="#000" fill-opacity="0.74"/>
<circle cx="68.7" cy="559.0" r="1.9" fill="#000" fill-opacity="0.74"/>
<circle cx="81.3" cy="565.2" r="1.9" fill="#000" fill-opacity="0.74"/>
<circle cx="81.1" cy="560.0" r="1.9" fill="#000" fill-opacity="0.74"/>
<circle cx="66.2" cy="561.9" r="1.9" fill="#000" fill-opacity="0.74"/>
<circle cx="71.5" cy="564.4" r="1.9" fill="#000" fill-opacity="0.74"/>
<circle cx="74.1" cy="564.1" r="1.9" fill="#000" fill-opacity="0.74"/>
<circle cx="73.9" cy="558.5" r="1.9" fill="#000" fill-opacity="0.74"/>
<circle cx="76.1" cy="572.7" r="1.9" fill="#000" fill-opacity="0.74"/>
<circle cx="64.9" cy="557.8" r="1.9" fill="#000" fill-opacity="0.74"/>
<circle cx="65.5" cy="569.8" r="1.9" fill="#000" fill-opacity="0.74"/>
<circle cx="69.1" cy="573.6" r="1.9" fill="#000" fill-opacity="0.74"/>
<circle cx="78.0" cy="566.5" r="1.9" fill="#000" fill-opacity="0.74"/>
<circle cx="71.7" cy="560.8" r="1.9" fill="#000" fill-opacity="0.74"/>
<clipPath id="c6_1"><rect x="62.89999999999999" y="555.6" width="20.4" height="20.399999999999977"/></clipPath>
<rect x="62.89999999999999" y="555.6" width="20.4" height="20.399999999999977" fill="rgb(236,198,218)"/>
<g clip-path="url(#c6_1)"><circle cx="68.1" cy="553.8" r="1.9" fill="rgb(42,30,48)" fill-opacity="0.97"/><circle cx="76.1" cy="553.8" r="1.9" fill="rgb(42,30,48)" fill-opacity="0.97"/><circle cx="72.0" cy="571.8" r="1.9" fill="rgb(42,30,48)" fill-opacity="0.97"/><circle cx="76.6" cy="568.9" r="1.9" fill="rgb(42,30,48)" fill-opacity="0.97"/><circle cx="76.4" cy="562.8" r="1.9" fill="rgb(42,30,48)" fill-opacity="0.97"/><circle cx="66.8" cy="567.0" r="1.9" fill="rgb(42,30,48)" fill-opacity="0.97"/><circle cx="81.2" cy="571.1" r="1.9" fill="rgb(42,30,48)" fill-opacity="0.97"/><circle cx="66.0" cy="574.3" r="1.9" fill="rgb(42,30,48)" fill-opacity="0.97"/><circle cx="71.1" cy="568.2" r="1.9" fill="rgb(42,30,48)" fill-opacity="0.97"/><circle cx="68.7" cy="559.0" r="1.9" fill="rgb(42,30,48)" fill-opacity="0.97"/><circle cx="81.3" cy="565.2" r="1.9" fill="rgb(42,30,48)" fill-opacity="0.97"/><circle cx="81.1" cy="560.0" r="1.9" fill="rgb(42,30,48)" fill-opacity="0.97"/><circle cx="66.2" cy="561.9" r="1.9" fill="rgb(42,30,48)" fill-opacity="0.97"/><circle cx="71.5" cy="564.4" r="1.9" fill="rgb(42,30,48)" fill-opacity="0.97"/><circle cx="74.1" cy="564.1" r="1.9" fill="rgb(42,30,48)" fill-opacity="0.97"/><circle cx="73.9" cy="558.5" r="1.9" fill="rgb(42,30,48)" fill-opacity="0.97"/><circle cx="76.1" cy="572.7" r="1.9" fill="rgb(42,30,48)" fill-opacity="0.97"/><circle cx="64.9" cy="557.8" r="1.9" fill="rgb(42,30,48)" fill-opacity="0.97"/><circle cx="65.5" cy="569.8" r="1.9" fill="rgb(42,30,48)" fill-opacity="0.97"/><circle cx="69.1" cy="573.6" r="1.9" fill="rgb(42,30,48)" fill-opacity="0.97"/><circle cx="78.0" cy="566.5" r="1.9" fill="rgb(42,30,48)" fill-opacity="0.97"/><circle cx="71.7" cy="560.8" r="1.9" fill="rgb(42,30,48)" fill-opacity="0.97"/></g>
<rect x="62.89999999999999" y="555.6" width="20.4" height="20.399999999999977" fill="none" stroke="#000" stroke-width="1.6"/>
<line x1="62.89999999999999" y1="566.2" x2="83.3" y2="566.2" stroke="#000" stroke-width="1.6"/>
<line x1="67.3" y1="511.9" x2="78.89999999999999" y2="511.9" stroke="#000" stroke-width="1.6"/>
<line x1="67.3" y1="597" x2="78.89999999999999" y2="597" stroke="#000" stroke-width="1.6"/>
<text x="51.5" y="417.9" font-size="11.3" text-anchor="middle" fill="#333" >FM</text>
<text x="50.4" y="432.4" font-size="9.7" text-anchor="middle" fill="#333" >CSF</text>
<text x="51.8" y="441.5" font-size="9.7" text-anchor="middle" fill="#333" >mean peak velocity</text>
<text x="13.3" y="461.8" font-size="9.5" text-anchor="middle" fill="#333" >(cm/s)</text>
<polygon points="57.40,447.40 58.02,448.85 59.59,448.99 58.40,450.02 58.75,451.56 57.40,450.75 56.05,451.56 56.40,450.02 55.21,448.99 56.78,448.85" fill="#333"/>
<text x="56.6" y="462.6" font-size="9.5" text-anchor="middle" fill="#333"><tspan font-style="italic">p</tspan>=0.0366</text>
<path d="M42.3,468.0 V465.4 H71.8 V468.0" fill="none" stroke="#444" stroke-width="1"/>
<line x1="116.1" y1="472.6" x2="120.6" y2="472.6" stroke="#000" stroke-width="1.4"/>
<line x1="116.1" y1="524.0333333333333" x2="120.6" y2="524.0333333333333" stroke="#000" stroke-width="1.4"/>
<line x1="116.1" y1="575.4666666666667" x2="120.6" y2="575.4666666666667" stroke="#000" stroke-width="1.4"/>
<line x1="116.1" y1="626.9" x2="120.6" y2="626.9" stroke="#000" stroke-width="1.4"/>
<text transform="translate(112.50,476.36) scale(1,1.0)" font-size="10.5" text-anchor="end" fill="#333">1.5</text>
<text transform="translate(112.50,527.79) scale(1,1.0)" font-size="10.5" text-anchor="end" fill="#333">1.0</text>
<text transform="translate(112.50,579.23) scale(1,1.0)" font-size="10.5" text-anchor="end" fill="#333">0.5</text>
<text transform="translate(112.50,630.66) scale(1,1.0)" font-size="10.5" text-anchor="end" fill="#333">0.0</text>
<line x1="120.6" y1="471.90000000000003" x2="120.6" y2="627.6999999999999" stroke="#000" stroke-width="1.6"/>
<line x1="116.1" y1="626.9" x2="192.8" y2="626.9" stroke="#000" stroke-width="1.6"/>
<line x1="141.4" y1="626.9" x2="141.4" y2="631.4" stroke="#000" stroke-width="1.4"/>
<text x="142.9" y="642.6" font-size="10.3" text-anchor="middle" fill="#333" >High</text>
<line x1="172.6" y1="626.9" x2="172.6" y2="631.4" stroke="#000" stroke-width="1.4"/>
<text x="174.8" y="642.6" font-size="10.3" text-anchor="middle" fill="#333" >Low</text>
<line x1="141.4" y1="480.9" x2="141.4" y2="534.4" stroke="#000" stroke-width="1.6"/>
<line x1="141.4" y1="567.2" x2="141.4" y2="597.9" stroke="#000" stroke-width="1.6"/>
<circle cx="141.4" cy="480.9" r="1.9" fill="#000" fill-opacity="0.74"/>
<circle cx="141.4" cy="597.9" r="1.9" fill="#000" fill-opacity="0.74"/>
<circle cx="141.6" cy="495.7" r="1.9" fill="#000" fill-opacity="0.74"/>
<circle cx="141.8" cy="511.8" r="1.9" fill="#000" fill-opacity="0.74"/>
<circle cx="142.8" cy="518.5" r="1.9" fill="#000" fill-opacity="0.74"/>
<circle cx="139.8" cy="518.5" r="1.9" fill="#000" fill-opacity="0.74"/>
<circle cx="140.7" cy="526.4" r="1.9" fill="#000" fill-opacity="0.74"/>
<circle cx="141.2" cy="521.2" r="1.9" fill="#000" fill-opacity="0.74"/>
<circle cx="144.3" cy="526.4" r="1.9" fill="#000" fill-opacity="0.74"/>
<circle cx="144.3" cy="521.2" r="1.9" fill="#000" fill-opacity="0.74"/>
<circle cx="144.4" cy="504.5" r="1.9" fill="#000" fill-opacity="0.74"/>
<circle cx="137.0" cy="504.5" r="1.9" fill="#000" fill-opacity="0.74"/>
<circle cx="145.1" cy="532.0" r="1.9" fill="#000" fill-opacity="0.74"/>
<circle cx="140.4" cy="504.5" r="1.9" fill="#000" fill-opacity="0.74"/>
<circle cx="138.1" cy="532.0" r="1.9" fill="#000" fill-opacity="0.74"/>
<circle cx="141.8" cy="532.0" r="1.9" fill="#000" fill-opacity="0.74"/>
<circle cx="135.4" cy="575.3" r="1.9" fill="#000" fill-opacity="0.74"/>
<circle cx="144.8" cy="579.8" r="1.9" fill="#000" fill-opacity="0.74"/>
<circle cx="140.6" cy="576.9" r="1.9" fill="#000" fill-opacity="0.74"/>
<circle cx="140.8" cy="583.3" r="1.9" fill="#000" fill-opacity="0.74"/>
<circle cx="137.0" cy="578.6" r="1.9" fill="#000" fill-opacity="0.74"/>
<circle cx="139.1" cy="580.8" r="1.9" fill="#000" fill-opacity="0.74"/>
<circle cx="146.1" cy="574.5" r="1.9" fill="#000" fill-opacity="0.74"/>
<circle cx="139.3" cy="571.8" r="1.9" fill="#000" fill-opacity="0.74"/>
<circle cx="142.4" cy="573.2" r="1.9" fill="#000" fill-opacity="0.74"/>
<circle cx="147.3" cy="571.1" r="1.9" fill="#000" fill-opacity="0.74"/>
<circle cx="135.4" cy="568.5" r="1.9" fill="#000" fill-opacity="0.74"/>
<circle cx="147.1" cy="577.8" r="1.9" fill="#000" fill-opacity="0.74"/>
<circle cx="144.1" cy="570.1" r="1.9" fill="#000" fill-opacity="0.74"/>
<circle cx="135.7" cy="582.6" r="1.9" fill="#000" fill-opacity="0.74"/>
<circle cx="134.3" cy="537.0" r="1.9" fill="#000" fill-opacity="0.74"/>
<circle cx="140.6" cy="550.2" r="1.9" fill="#000" fill-opacity="0.74"/>
<circle cx="138.0" cy="563.7" r="1.9" fill="#000" fill-opacity="0.74"/>
<circle cx="142.2" cy="540.8" r="1.9" fill="#000" fill-opacity="0.74"/>
<circle cx="134.7" cy="543.3" r="1.9" fill="#000" fill-opacity="0.74"/>
<circle cx="146.5" cy="548.1" r="1.9" fill="#000" fill-opacity="0.74"/>
<circle cx="140.2" cy="545.0" r="1.9" fill="#000" fill-opacity="0.74"/>
<circle cx="145.6" cy="560.7" r="1.9" fill="#000" fill-opacity="0.74"/>
<circle cx="146.9" cy="555.5" r="1.9" fill="#000" fill-opacity="0.74"/>
<circle cx="136.4" cy="553.1" r="1.9" fill="#000" fill-opacity="0.74"/>
<circle cx="149.1" cy="539.7" r="1.9" fill="#000" fill-opacity="0.74"/>
<circle cx="145.3" cy="538.5" r="1.9" fill="#000" fill-opacity="0.74"/>
<circle cx="146.1" cy="542.4" r="1.9" fill="#000" fill-opacity="0.74"/>
<circle cx="136.9" cy="545.8" r="1.9" fill="#000" fill-opacity="0.74"/>
<circle cx="144.6" cy="552.1" r="1.9" fill="#000" fill-opacity="0.74"/>
<circle cx="139.0" cy="558.2" r="1.9" fill="#000" fill-opacity="0.74"/>
<circle cx="133.5" cy="549.1" r="1.9" fill="#000" fill-opacity="0.74"/>
<circle cx="141.3" cy="554.0" r="1.9" fill="#000" fill-opacity="0.74"/>
<circle cx="134.3" cy="562.3" r="1.9" fill="#000" fill-opacity="0.74"/>
<circle cx="133.9" cy="557.0" r="1.9" fill="#000" fill-opacity="0.74"/>
<circle cx="142.0" cy="560.3" r="1.9" fill="#000" fill-opacity="0.74"/>
<circle cx="149.3" cy="564.8" r="1.9" fill="#000" fill-opacity="0.74"/>
<clipPath id="c7_0"><rect x="131.6" y="534.4" width="19.6" height="32.80000000000007"/></clipPath>
<rect x="131.6" y="534.4" width="19.6" height="32.80000000000007" fill="rgb(128,99,160)"/>
<g clip-path="url(#c7_0)"><circle cx="135.4" cy="568.5" r="1.9" fill="rgb(44,6,74)" fill-opacity="0.97"/><circle cx="134.3" cy="537.0" r="1.9" fill="rgb(44,6,74)" fill-opacity="0.97"/><circle cx="140.6" cy="550.2" r="1.9" fill="rgb(44,6,74)" fill-opacity="0.97"/><circle cx="138.0" cy="563.7" r="1.9" fill="rgb(44,6,74)" fill-opacity="0.97"/><circle cx="142.2" cy="540.8" r="1.9" fill="rgb(44,6,74)" fill-opacity="0.97"/><circle cx="134.7" cy="543.3" r="1.9" fill="rgb(44,6,74)" fill-opacity="0.97"/><circle cx="146.5" cy="548.1" r="1.9" fill="rgb(44,6,74)" fill-opacity="0.97"/><circle cx="140.2" cy="545.0" r="1.9" fill="rgb(44,6,74)" fill-opacity="0.97"/><circle cx="145.6" cy="560.7" r="1.9" fill="rgb(44,6,74)" fill-opacity="0.97"/><circle cx="146.9" cy="555.5" r="1.9" fill="rgb(44,6,74)" fill-opacity="0.97"/><circle cx="136.4" cy="553.1" r="1.9" fill="rgb(44,6,74)" fill-opacity="0.97"/><circle cx="149.1" cy="539.7" r="1.9" fill="rgb(44,6,74)" fill-opacity="0.97"/><circle cx="145.3" cy="538.5" r="1.9" fill="rgb(44,6,74)" fill-opacity="0.97"/><circle cx="146.1" cy="542.4" r="1.9" fill="rgb(44,6,74)" fill-opacity="0.97"/><circle cx="136.9" cy="545.8" r="1.9" fill="rgb(44,6,74)" fill-opacity="0.97"/><circle cx="144.6" cy="552.1" r="1.9" fill="rgb(44,6,74)" fill-opacity="0.97"/><circle cx="139.0" cy="558.2" r="1.9" fill="rgb(44,6,74)" fill-opacity="0.97"/><circle cx="133.5" cy="549.1" r="1.9" fill="rgb(44,6,74)" fill-opacity="0.97"/><circle cx="141.3" cy="554.0" r="1.9" fill="rgb(44,6,74)" fill-opacity="0.97"/><circle cx="134.3" cy="562.3" r="1.9" fill="rgb(44,6,74)" fill-opacity="0.97"/><circle cx="133.9" cy="557.0" r="1.9" fill="rgb(44,6,74)" fill-opacity="0.97"/><circle cx="142.0" cy="560.3" r="1.9" fill="rgb(44,6,74)" fill-opacity="0.97"/><circle cx="149.3" cy="564.8" r="1.9" fill="rgb(44,6,74)" fill-opacity="0.97"/></g>
<rect x="131.6" y="534.4" width="19.6" height="32.80000000000007" fill="none" stroke="#000" stroke-width="1.6"/>
<line x1="131.6" y1="552.6" x2="151.20000000000002" y2="552.6" stroke="#000" stroke-width="1.6"/>
<line x1="135.6" y1="480.9" x2="147.20000000000002" y2="480.9" stroke="#000" stroke-width="1.6"/>
<line x1="135.6" y1="597.9" x2="147.20000000000002" y2="597.9" stroke="#000" stroke-width="1.6"/>
<line x1="172.6" y1="496.7" x2="172.6" y2="545.2" stroke="#000" stroke-width="1.6"/>
<line x1="172.6" y1="567.8" x2="172.6" y2="591.6" stroke="#000" stroke-width="1.6"/>
<circle cx="172.6" cy="591.6" r="1.9" fill="#000" fill-opacity="0.74"/>
<circle cx="172.6" cy="496.7" r="1.9" fill="#000" fill-opacity="0.74"/>
<circle cx="172.4" cy="521.8" r="1.9" fill="#000" fill-opacity="0.74"/>
<circle cx="174.6" cy="541.0" r="1.9" fill="#000" fill-opacity="0.74"/>
<circle cx="169.7" cy="541.0" r="1.9" fill="#000" fill-opacity="0.74"/>
<circle cx="173.4" cy="583.0" r="1.9" fill="#000" fill-opacity="0.74"/>
<circle cx="175.7" cy="578.2" r="1.9" fill="#000" fill-opacity="0.74"/>
<circle cx="175.8" cy="531.6" r="1.9" fill="#000" fill-opacity="0.74"/>
<circle cx="167.5" cy="531.6" r="1.9" fill="#000" fill-opacity="0.74"/>
<circle cx="169.0" cy="586.7" r="1.9" fill="#000" fill-opacity="0.74"/>
<circle cx="171.7" cy="531.6" r="1.9" fill="#000" fill-opacity="0.74"/>
<circle cx="178.0" cy="536.9" r="1.9" fill="#000" fill-opacity="0.74"/>
<circle cx="168.3" cy="581.5" r="1.9" fill="#000" fill-opacity="0.74"/>
<circle cx="177.4" cy="587.5" r="1.9" fill="#000" fill-opacity="0.74"/>
<circle cx="172.1" cy="536.9" r="1.9" fill="#000" fill-opacity="0.74"/>
<circle cx="171.3" cy="585.0" r="1.9" fill="#000" fill-opacity="0.74"/>
<circle cx="177.8" cy="569.8" r="1.9" fill="#000" fill-opacity="0.74"/>
<circle cx="171.5" cy="579.8" r="1.9" fill="#000" fill-opacity="0.74"/>
<circle cx="166.9" cy="536.9" r="1.9" fill="#000" fill-opacity="0.74"/>
<circle cx="178.4" cy="531.6" r="1.9" fill="#000" fill-opacity="0.74"/>
<circle cx="168.6" cy="574.5" r="1.9" fill="#000" fill-opacity="0.74"/>
<circle cx="172.9" cy="571.0" r="1.9" fill="#000" fill-opacity="0.74"/>
<circle cx="175.9" cy="572.8" r="1.9" fill="#000" fill-opacity="0.74"/>
<circle cx="174.9" cy="536.9" r="1.9" fill="#000" fill-opacity="0.74"/>
<circle cx="172.8" cy="577.0" r="1.9" fill="#000" fill-opacity="0.74"/>
<circle cx="179.8" cy="564.6" r="1.9" fill="#000" fill-opacity="0.74"/>
<circle cx="166.0" cy="566.8" r="1.9" fill="#000" fill-opacity="0.74"/>
<circle cx="171.9" cy="559.5" r="1.9" fill="#000" fill-opacity="0.74"/>
<circle cx="173.8" cy="565.4" r="1.9" fill="#000" fill-opacity="0.74"/>
<circle cx="170.0" cy="548.5" r="1.9" fill="#000" fill-opacity="0.74"/>
<circle cx="179.8" cy="558.9" r="1.9" fill="#000" fill-opacity="0.74"/>
<circle cx="179.4" cy="547.8" r="1.9" fill="#000" fill-opacity="0.74"/>
<circle cx="164.5" cy="546.8" r="1.9" fill="#000" fill-opacity="0.74"/>
<circle cx="172.2" cy="554.0" r="1.9" fill="#000" fill-opacity="0.74"/>
<circle cx="167.6" cy="562.3" r="1.9" fill="#000" fill-opacity="0.74"/>
<circle cx="175.4" cy="550.5" r="1.9" fill="#000" fill-opacity="0.74"/>
<circle cx="166.3" cy="551.1" r="1.9" fill="#000" fill-opacity="0.74"/>
<circle cx="165.4" cy="556.7" r="1.9" fill="#000" fill-opacity="0.74"/>
<circle cx="175.7" cy="560.9" r="1.9" fill="#000" fill-opacity="0.74"/>
<circle cx="179.3" cy="552.8" r="1.9" fill="#000" fill-opacity="0.74"/>
<circle cx="168.8" cy="557.7" r="1.9" fill="#000" fill-opacity="0.74"/>
<circle cx="169.1" cy="552.1" r="1.9" fill="#000" fill-opacity="0.74"/>
<circle cx="170.6" cy="563.6" r="1.9" fill="#000" fill-opacity="0.74"/>
<circle cx="176.1" cy="556.3" r="1.9" fill="#000" fill-opacity="0.74"/>
<circle cx="164.4" cy="561.9" r="1.9" fill="#000" fill-opacity="0.74"/>
<circle cx="167.7" cy="555.1" r="1.9" fill="#000" fill-opacity="0.74"/>
<circle cx="173.0" cy="549.1" r="1.9" fill="#000" fill-opacity="0.74"/>
<clipPath id="c7_1"><rect x="162.7" y="545.2" width="19.8" height="22.59999999999991"/></clipPath>
<rect x="162.7" y="545.2" width="19.8" height="22.59999999999991" fill="rgb(236,198,218)"/>
<g clip-path="url(#c7_1)"><circle cx="179.8" cy="564.6" r="1.9" fill="rgb(42,30,48)" fill-opacity="0.97"/><circle cx="166.0" cy="566.8" r="1.9" fill="rgb(42,30,48)" fill-opacity="0.97"/><circle cx="171.9" cy="559.5" r="1.9" fill="rgb(42,30,48)" fill-opacity="0.97"/><circle cx="173.8" cy="565.4" r="1.9" fill="rgb(42,30,48)" fill-opacity="0.97"/><circle cx="170.0" cy="548.5" r="1.9" fill="rgb(42,30,48)" fill-opacity="0.97"/><circle cx="179.8" cy="558.9" r="1.9" fill="rgb(42,30,48)" fill-opacity="0.97"/><circle cx="179.4" cy="547.8" r="1.9" fill="rgb(42,30,48)" fill-opacity="0.97"/><circle cx="164.5" cy="546.8" r="1.9" fill="rgb(42,30,48)" fill-opacity="0.97"/><circle cx="172.2" cy="554.0" r="1.9" fill="rgb(42,30,48)" fill-opacity="0.97"/><circle cx="167.6" cy="562.3" r="1.9" fill="rgb(42,30,48)" fill-opacity="0.97"/><circle cx="175.4" cy="550.5" r="1.9" fill="rgb(42,30,48)" fill-opacity="0.97"/><circle cx="166.3" cy="551.1" r="1.9" fill="rgb(42,30,48)" fill-opacity="0.97"/><circle cx="165.4" cy="556.7" r="1.9" fill="rgb(42,30,48)" fill-opacity="0.97"/><circle cx="175.7" cy="560.9" r="1.9" fill="rgb(42,30,48)" fill-opacity="0.97"/><circle cx="179.3" cy="552.8" r="1.9" fill="rgb(42,30,48)" fill-opacity="0.97"/><circle cx="168.8" cy="557.7" r="1.9" fill="rgb(42,30,48)" fill-opacity="0.97"/><circle cx="169.1" cy="552.1" r="1.9" fill="rgb(42,30,48)" fill-opacity="0.97"/><circle cx="170.6" cy="563.6" r="1.9" fill="rgb(42,30,48)" fill-opacity="0.97"/><circle cx="176.1" cy="556.3" r="1.9" fill="rgb(42,30,48)" fill-opacity="0.97"/><circle cx="164.4" cy="561.9" r="1.9" fill="rgb(42,30,48)" fill-opacity="0.97"/><circle cx="167.7" cy="555.1" r="1.9" fill="rgb(42,30,48)" fill-opacity="0.97"/><circle cx="173.0" cy="549.1" r="1.9" fill="rgb(42,30,48)" fill-opacity="0.97"/></g>
<rect x="162.7" y="545.2" width="19.8" height="22.59999999999991" fill="none" stroke="#000" stroke-width="1.6"/>
<line x1="162.7" y1="558.8" x2="182.5" y2="558.8" stroke="#000" stroke-width="1.6"/>
<line x1="166.79999999999998" y1="496.7" x2="178.4" y2="496.7" stroke="#000" stroke-width="1.6"/>
<line x1="166.79999999999998" y1="591.6" x2="178.4" y2="591.6" stroke="#000" stroke-width="1.6"/>
<text x="153.3" y="417.9" font-size="11.3" text-anchor="middle" fill="#333" >FM</text>
<text x="153.2" y="432.4" font-size="9.7" text-anchor="middle" fill="#333" >CSF</text>
<text x="154.9" y="441.5" font-size="9.7" text-anchor="middle" fill="#333" >mean speed</text>
<text x="106.8" y="461.8" font-size="9.5" text-anchor="middle" fill="#333" >(cm/s)</text>
<text x="154.5" y="462.6" font-size="9.5" text-anchor="middle" fill="#333"><tspan font-style="italic">p</tspan>=0.0728</text>
<path d="M141.4,468.0 V465.4 H170.6 V468.0" fill="none" stroke="#444" stroke-width="1"/>
<line x1="215.0" y1="473.0" x2="219.5" y2="473.0" stroke="#000" stroke-width="1.4"/>
<line x1="215.0" y1="524.3" x2="219.5" y2="524.3" stroke="#000" stroke-width="1.4"/>
<line x1="215.0" y1="575.6" x2="219.5" y2="575.6" stroke="#000" stroke-width="1.4"/>
<line x1="215.0" y1="626.9" x2="219.5" y2="626.9" stroke="#000" stroke-width="1.4"/>
<text transform="translate(212.20,476.76) scale(1,1.0)" font-size="10.5" text-anchor="end" fill="#333">1.5</text>
<text transform="translate(212.20,528.06) scale(1,1.0)" font-size="10.5" text-anchor="end" fill="#333">1.0</text>
<text transform="translate(212.20,579.36) scale(1,1.0)" font-size="10.5" text-anchor="end" fill="#333">0.5</text>
<text transform="translate(212.20,630.66) scale(1,1.0)" font-size="10.5" text-anchor="end" fill="#333">0.0</text>
<line x1="219.5" y1="472.3" x2="219.5" y2="627.6999999999999" stroke="#000" stroke-width="1.6"/>
<line x1="215.0" y1="626.9" x2="291.2" y2="626.9" stroke="#000" stroke-width="1.6"/>
<line x1="240.2" y1="626.9" x2="240.2" y2="631.4" stroke="#000" stroke-width="1.4"/>
<text x="239.2" y="642.6" font-size="10.3" text-anchor="middle" fill="#333" >High</text>
<line x1="270.7" y1="626.9" x2="270.7" y2="631.4" stroke="#000" stroke-width="1.4"/>
<text x="271.3" y="642.6" font-size="10.3" text-anchor="middle" fill="#333" >Low</text>
<line x1="240.2" y1="491" x2="240.2" y2="572.4" stroke="#000" stroke-width="1.6"/>
<line x1="240.2" y1="606.5" x2="240.2" y2="623.3" stroke="#000" stroke-width="1.6"/>
<circle cx="240.2" cy="623.3" r="1.9" fill="#000" fill-opacity="0.74"/>
<circle cx="240.2" cy="491.0" r="1.9" fill="#000" fill-opacity="0.74"/>
<circle cx="240.3" cy="524.1" r="1.9" fill="#000" fill-opacity="0.74"/>
<circle cx="239.9" cy="516.3" r="1.9" fill="#000" fill-opacity="0.74"/>
<circle cx="239.9" cy="560.8" r="1.9" fill="#000" fill-opacity="0.74"/>
<circle cx="239.5" cy="555.8" r="1.9" fill="#000" fill-opacity="0.74"/>
<circle cx="242.0" cy="555.8" r="1.9" fill="#000" fill-opacity="0.74"/>
<circle cx="242.7" cy="540.9" r="1.9" fill="#000" fill-opacity="0.74"/>
<circle cx="237.4" cy="540.9" r="1.9" fill="#000" fill-opacity="0.74"/>
<circle cx="239.7" cy="542.5" r="1.9" fill="#000" fill-opacity="0.74"/>
<circle cx="237.2" cy="551.9" r="1.9" fill="#000" fill-opacity="0.74"/>
<circle cx="242.9" cy="551.9" r="1.9" fill="#000" fill-opacity="0.74"/>
<circle cx="240.1" cy="548.4" r="1.9" fill="#000" fill-opacity="0.74"/>
<circle cx="236.3" cy="548.4" r="1.9" fill="#000" fill-opacity="0.74"/>
<circle cx="233.2" cy="586.6" r="1.9" fill="#000" fill-opacity="0.74"/>
<circle cx="245.6" cy="584.9" r="1.9" fill="#000" fill-opacity="0.74"/>
<circle cx="235.4" cy="579.4" r="1.9" fill="#000" fill-opacity="0.74"/>
<circle cx="241.3" cy="576.2" r="1.9" fill="#000" fill-opacity="0.74"/>
<circle cx="240.2" cy="601.7" r="1.9" fill="#000" fill-opacity="0.74"/>
<circle cx="233.0" cy="600.4" r="1.9" fill="#000" fill-opacity="0.74"/>
<circle cx="244.7" cy="604.8" r="1.9" fill="#000" fill-opacity="0.74"/>
<circle cx="239.5" cy="595.5" r="1.9" fill="#000" fill-opacity="0.74"/>
<circle cx="246.2" cy="577.7" r="1.9" fill="#000" fill-opacity="0.74"/>
<circle cx="247.2" cy="596.9" r="1.9" fill="#000" fill-opacity="0.74"/>
<circle cx="246.8" cy="590.3" r="1.9" fill="#000" fill-opacity="0.74"/>
<circle cx="236.6" cy="574.4" r="1.9" fill="#000" fill-opacity="0.74"/>
<circle cx="233.7" cy="593.6" r="1.9" fill="#000" fill-opacity="0.74"/>
<circle cx="242.8" cy="592.7" r="1.9" fill="#000" fill-opacity="0.74"/>
<circle cx="240.5" cy="583.3" r="1.9" fill="#000" fill-opacity="0.74"/>
<circle cx="248.2" cy="581.8" r="1.9" fill="#000" fill-opacity="0.74"/>
<circle cx="243.5" cy="598.3" r="1.9" fill="#000" fill-opacity="0.74"/>
<circle cx="238.4" cy="588.5" r="1.9" fill="#000" fill-opacity="0.74"/>
<circle cx="243.8" cy="611.4" r="1.9" fill="#000" fill-opacity="0.74"/>
<circle cx="238.4" cy="610.8" r="1.9" fill="#000" fill-opacity="0.74"/>
<circle cx="248.6" cy="613.1" r="1.9" fill="#000" fill-opacity="0.74"/>
<circle cx="238.3" cy="618.2" r="1.9" fill="#000" fill-opacity="0.74"/>
<circle cx="233.3" cy="609.6" r="1.9" fill="#000" fill-opacity="0.74"/>
<circle cx="249.0" cy="619.3" r="1.9" fill="#000" fill-opacity="0.74"/>
<circle cx="231.9" cy="616.4" r="1.9" fill="#000" fill-opacity="0.74"/>
<circle cx="244.5" cy="620.3" r="1.9" fill="#000" fill-opacity="0.74"/>
<circle cx="235.9" cy="614.4" r="1.9" fill="#000" fill-opacity="0.74"/>
<circle cx="241.5" cy="615.1" r="1.9" fill="#000" fill-opacity="0.74"/>
<clipPath id="c8_0"><rect x="230.29999999999998" y="572.4" width="19.8" height="34.10000000000002"/></clipPath>
<rect x="230.29999999999998" y="572.4" width="19.8" height="34.10000000000002" fill="rgb(128,99,160)"/>
<g clip-path="url(#c8_0)"><circle cx="233.2" cy="586.6" r="1.9" fill="rgb(44,6,74)" fill-opacity="0.97"/><circle cx="245.6" cy="584.9" r="1.9" fill="rgb(44,6,74)" fill-opacity="0.97"/><circle cx="235.4" cy="579.4" r="1.9" fill="rgb(44,6,74)" fill-opacity="0.97"/><circle cx="241.3" cy="576.2" r="1.9" fill="rgb(44,6,74)" fill-opacity="0.97"/><circle cx="240.2" cy="601.7" r="1.9" fill="rgb(44,6,74)" fill-opacity="0.97"/><circle cx="233.0" cy="600.4" r="1.9" fill="rgb(44,6,74)" fill-opacity="0.97"/><circle cx="244.7" cy="604.8" r="1.9" fill="rgb(44,6,74)" fill-opacity="0.97"/><circle cx="239.5" cy="595.5" r="1.9" fill="rgb(44,6,74)" fill-opacity="0.97"/><circle cx="246.2" cy="577.7" r="1.9" fill="rgb(44,6,74)" fill-opacity="0.97"/><circle cx="247.2" cy="596.9" r="1.9" fill="rgb(44,6,74)" fill-opacity="0.97"/><circle cx="246.8" cy="590.3" r="1.9" fill="rgb(44,6,74)" fill-opacity="0.97"/><circle cx="236.6" cy="574.4" r="1.9" fill="rgb(44,6,74)" fill-opacity="0.97"/><circle cx="233.7" cy="593.6" r="1.9" fill="rgb(44,6,74)" fill-opacity="0.97"/><circle cx="242.8" cy="592.7" r="1.9" fill="rgb(44,6,74)" fill-opacity="0.97"/><circle cx="240.5" cy="583.3" r="1.9" fill="rgb(44,6,74)" fill-opacity="0.97"/><circle cx="248.2" cy="581.8" r="1.9" fill="rgb(44,6,74)" fill-opacity="0.97"/><circle cx="243.5" cy="598.3" r="1.9" fill="rgb(44,6,74)" fill-opacity="0.97"/><circle cx="238.4" cy="588.5" r="1.9" fill="rgb(44,6,74)" fill-opacity="0.97"/></g>
<rect x="230.29999999999998" y="572.4" width="19.8" height="34.10000000000002" fill="none" stroke="#000" stroke-width="1.6"/>
<line x1="230.29999999999998" y1="587.9" x2="250.1" y2="587.9" stroke="#000" stroke-width="1.6"/>
<line x1="234.39999999999998" y1="491" x2="246.0" y2="491" stroke="#000" stroke-width="1.6"/>
<line x1="234.39999999999998" y1="623.3" x2="246.0" y2="623.3" stroke="#000" stroke-width="1.6"/>
<line x1="270.7" y1="566" x2="270.7" y2="611.4" stroke="#000" stroke-width="1.6"/>
<line x1="270.7" y1="621.5" x2="270.7" y2="623.8" stroke="#000" stroke-width="1.6"/>
<circle cx="270.7" cy="566.0" r="1.9" fill="#000" fill-opacity="0.74"/>
<circle cx="270.7" cy="585.6" r="1.9" fill="#000" fill-opacity="0.74"/>
<circle cx="270.6" cy="581.0" r="1.9" fill="#000" fill-opacity="0.74"/>
<circle cx="270.8" cy="590.2" r="1.9" fill="#000" fill-opacity="0.74"/>
<circle cx="270.9" cy="574.2" r="1.9" fill="#000" fill-opacity="0.74"/>
<circle cx="271.2" cy="597.1" r="1.9" fill="#000" fill-opacity="0.74"/>
<circle cx="270.4" cy="604.0" r="1.9" fill="#000" fill-opacity="0.74"/>
<circle cx="272.5" cy="606.3" r="1.9" fill="#000" fill-opacity="0.74"/>
<circle cx="268.7" cy="606.3" r="1.9" fill="#000" fill-opacity="0.74"/>
<circle cx="270.7" cy="609.8" r="1.9" fill="#000" fill-opacity="0.74"/>
<circle cx="273.7" cy="609.8" r="1.9" fill="#000" fill-opacity="0.74"/>
<circle cx="267.9" cy="609.8" r="1.9" fill="#000" fill-opacity="0.74"/>
<circle cx="278.0" cy="620.7" r="1.9" fill="#000" fill-opacity="0.74"/>
<circle cx="262.5" cy="613.0" r="1.9" fill="#000" fill-opacity="0.74"/>
<circle cx="262.1" cy="619.0" r="1.9" fill="#000" fill-opacity="0.74"/>
<circle cx="269.5" cy="617.7" r="1.9" fill="#000" fill-opacity="0.74"/>
<circle cx="274.6" cy="616.7" r="1.9" fill="#000" fill-opacity="0.74"/>
<circle cx="279.4" cy="615.2" r="1.9" fill="#000" fill-opacity="0.74"/>
<circle cx="266.7" cy="613.6" r="1.9" fill="#000" fill-opacity="0.74"/>
<circle cx="268.8" cy="623.4" r="1.9" fill="#000" fill-opacity="0.74"/>
<circle cx="271.6" cy="614.0" r="1.9" fill="#000" fill-opacity="0.74"/>
<circle cx="274.3" cy="621.5" r="1.9" fill="#000" fill-opacity="0.74"/>
<circle cx="264.1" cy="615.4" r="1.9" fill="#000" fill-opacity="0.74"/>
<circle cx="264.0" cy="623.0" r="1.9" fill="#000" fill-opacity="0.74"/>
<circle cx="275.9" cy="614.2" r="1.9" fill="#000" fill-opacity="0.74"/>
<circle cx="266.6" cy="620.0" r="1.9" fill="#000" fill-opacity="0.74"/>
<circle cx="278.0" cy="612.8" r="1.9" fill="#000" fill-opacity="0.74"/>
<circle cx="272.2" cy="618.7" r="1.9" fill="#000" fill-opacity="0.74"/>
<circle cx="269.4" cy="612.2" r="1.9" fill="#000" fill-opacity="0.74"/>
<circle cx="279.0" cy="617.8" r="1.9" fill="#000" fill-opacity="0.74"/>
<circle cx="276.5" cy="618.3" r="1.9" fill="#000" fill-opacity="0.74"/>
<circle cx="270.3" cy="621.4" r="1.9" fill="#000" fill-opacity="0.74"/>
<circle cx="267.4" cy="615.9" r="1.9" fill="#000" fill-opacity="0.74"/>
<circle cx="265.4" cy="617.1" r="1.9" fill="#000" fill-opacity="0.74"/>
<circle cx="264.4" cy="620.4" r="1.9" fill="#000" fill-opacity="0.74"/>
<circle cx="274.4" cy="619.5" r="1.9" fill="#000" fill-opacity="0.74"/>
<circle cx="261.7" cy="622.4" r="1.9" fill="#000" fill-opacity="0.74"/>
<circle cx="266.1" cy="622.2" r="1.9" fill="#000" fill-opacity="0.74"/>
<circle cx="273.8" cy="614.8" r="1.9" fill="#000" fill-opacity="0.74"/>
<circle cx="271.7" cy="616.2" r="1.9" fill="#000" fill-opacity="0.74"/>
<clipPath id="c8_1"><rect x="260.8" y="611.4" width="19.8" height="10.100000000000023"/></clipPath>
<rect x="260.8" y="611.4" width="19.8" height="10.100000000000023" fill="rgb(236,198,218)"/>
<g clip-path="url(#c8_1)"><circle cx="270.7" cy="609.8" r="1.9" fill="rgb(42,30,48)" fill-opacity="0.97"/><circle cx="273.7" cy="609.8" r="1.9" fill="rgb(42,30,48)" fill-opacity="0.97"/><circle cx="267.9" cy="609.8" r="1.9" fill="rgb(42,30,48)" fill-opacity="0.97"/><circle cx="278.0" cy="620.7" r="1.9" fill="rgb(42,30,48)" fill-opacity="0.97"/><circle cx="262.5" cy="613.0" r="1.9" fill="rgb(42,30,48)" fill-opacity="0.97"/><circle cx="262.1" cy="619.0" r="1.9" fill="rgb(42,30,48)" fill-opacity="0.97"/><circle cx="269.5" cy="617.7" r="1.9" fill="rgb(42,30,48)" fill-opacity="0.97"/><circle cx="274.6" cy="616.7" r="1.9" fill="rgb(42,30,48)" fill-opacity="0.97"/><circle cx="279.4" cy="615.2" r="1.9" fill="rgb(42,30,48)" fill-opacity="0.97"/><circle cx="266.7" cy="613.6" r="1.9" fill="rgb(42,30,48)" fill-opacity="0.97"/><circle cx="268.8" cy="623.4" r="1.9" fill="rgb(42,30,48)" fill-opacity="0.97"/><circle cx="271.6" cy="614.0" r="1.9" fill="rgb(42,30,48)" fill-opacity="0.97"/><circle cx="274.3" cy="621.5" r="1.9" fill="rgb(42,30,48)" fill-opacity="0.97"/><circle cx="264.1" cy="615.4" r="1.9" fill="rgb(42,30,48)" fill-opacity="0.97"/><circle cx="264.0" cy="623.0" r="1.9" fill="rgb(42,30,48)" fill-opacity="0.97"/><circle cx="275.9" cy="614.2" r="1.9" fill="rgb(42,30,48)" fill-opacity="0.97"/><circle cx="266.6" cy="620.0" r="1.9" fill="rgb(42,30,48)" fill-opacity="0.97"/><circle cx="278.0" cy="612.8" r="1.9" fill="rgb(42,30,48)" fill-opacity="0.97"/><circle cx="272.2" cy="618.7" r="1.9" fill="rgb(42,30,48)" fill-opacity="0.97"/><circle cx="269.4" cy="612.2" r="1.9" fill="rgb(42,30,48)" fill-opacity="0.97"/><circle cx="279.0" cy="617.8" r="1.9" fill="rgb(42,30,48)" fill-opacity="0.97"/><circle cx="276.5" cy="618.3" r="1.9" fill="rgb(42,30,48)" fill-opacity="0.97"/><circle cx="270.3" cy="621.4" r="1.9" fill="rgb(42,30,48)" fill-opacity="0.97"/><circle cx="267.4" cy="615.9" r="1.9" fill="rgb(42,30,48)" fill-opacity="0.97"/><circle cx="265.4" cy="617.1" r="1.9" fill="rgb(42,30,48)" fill-opacity="0.97"/><circle cx="264.4" cy="620.4" r="1.9" fill="rgb(42,30,48)" fill-opacity="0.97"/><circle cx="274.4" cy="619.5" r="1.9" fill="rgb(42,30,48)" fill-opacity="0.97"/><circle cx="261.7" cy="622.4" r="1.9" fill="rgb(42,30,48)" fill-opacity="0.97"/><circle cx="266.1" cy="622.2" r="1.9" fill="rgb(42,30,48)" fill-opacity="0.97"/><circle cx="273.8" cy="614.8" r="1.9" fill="rgb(42,30,48)" fill-opacity="0.97"/><circle cx="271.7" cy="616.2" r="1.9" fill="rgb(42,30,48)" fill-opacity="0.97"/></g>
<rect x="260.8" y="611.4" width="19.8" height="10.100000000000023" fill="none" stroke="#000" stroke-width="1.6"/>
<line x1="260.8" y1="618.1" x2="280.59999999999997" y2="618.1" stroke="#000" stroke-width="1.6"/>
<line x1="264.9" y1="566" x2="276.5" y2="566" stroke="#000" stroke-width="1.6"/>
<line x1="264.9" y1="623.8" x2="276.5" y2="623.8" stroke="#000" stroke-width="1.6"/>
<text x="252.2" y="417.9" font-size="11.3" text-anchor="middle" fill="#333" >FM</text>
<text x="251.5" y="432.4" font-size="9.7" text-anchor="middle" fill="#333" >CSF</text>
<text x="252.8" y="441.5" font-size="9.7" text-anchor="middle" fill="#333" >displacement</text>
<text x="207.3" y="461.8" font-size="9.5" text-anchor="middle" fill="#333" >(ml)</text>
<polygon points="248.80,447.40 249.42,448.85 250.99,448.99 249.80,450.02 250.15,451.56 248.80,450.75 247.45,451.56 247.80,450.02 246.61,448.99 248.18,448.85" fill="#333"/>
<polygon points="253.00,447.40 253.62,448.85 255.19,448.99 254.00,450.02 254.35,451.56 253.00,450.75 251.65,451.56 252.00,450.02 250.81,448.99 252.38,448.85" fill="#333"/>
<polygon points="257.20,447.40 257.82,448.85 259.39,448.99 258.20,450.02 258.55,451.56 257.20,450.75 255.85,451.56 256.20,450.02 255.01,448.99 256.58,448.85" fill="#333"/>
<polygon points="261.40,447.40 262.02,448.85 263.59,448.99 262.40,450.02 262.75,451.56 261.40,450.75 260.05,451.56 260.40,450.02 259.21,448.99 260.78,448.85" fill="#333"/>
<text x="252.3" y="462.6" font-size="9.5" text-anchor="middle" fill="#333"><tspan font-style="italic">p</tspan>&lt;0.0001</text>
<path d="M239.6,468.0 V465.4 H269.6 V468.0" fill="none" stroke="#444" stroke-width="1"/>
<line x1="316.8" y1="474.7" x2="321.3" y2="474.7" stroke="#000" stroke-width="1.4"/>
<line x1="316.8" y1="505.2" x2="321.3" y2="505.2" stroke="#000" stroke-width="1.4"/>
<line x1="316.8" y1="535.7" x2="321.3" y2="535.7" stroke="#000" stroke-width="1.4"/>
<line x1="316.8" y1="566.2" x2="321.3" y2="566.2" stroke="#000" stroke-width="1.4"/>
<line x1="316.8" y1="596.7" x2="321.3" y2="596.7" stroke="#000" stroke-width="1.4"/>
<line x1="316.8" y1="627.2" x2="321.3" y2="627.2" stroke="#000" stroke-width="1.4"/>
<text transform="translate(316.00,478.46) scale(1,1.0)" font-size="10.5" text-anchor="end" fill="#333">0.5</text>
<text transform="translate(316.00,508.96) scale(1,1.0)" font-size="10.5" text-anchor="end" fill="#333">0.4</text>
<text transform="translate(316.00,539.46) scale(1,1.0)" font-size="10.5" text-anchor="end" fill="#333">0.3</text>
<text transform="translate(316.00,569.96) scale(1,1.0)" font-size="10.5" text-anchor="end" fill="#333">0.2</text>
<text transform="translate(316.00,600.46) scale(1,1.0)" font-size="10.5" text-anchor="end" fill="#333">0.1</text>
<text transform="translate(316.00,630.96) scale(1,1.0)" font-size="10.5" text-anchor="end" fill="#333">0.0</text>
<line x1="321.3" y1="474.0" x2="321.3" y2="628.0" stroke="#000" stroke-width="1.6"/>
<line x1="316.8" y1="627.2" x2="392.8" y2="627.2" stroke="#000" stroke-width="1.6"/>
<line x1="341.9" y1="627.2" x2="341.9" y2="631.7" stroke="#000" stroke-width="1.4"/>
<text x="341.7" y="642.6" font-size="10.3" text-anchor="middle" fill="#333" >High</text>
<line x1="372.7" y1="627.2" x2="372.7" y2="631.7" stroke="#000" stroke-width="1.4"/>
<text x="373.7" y="642.6" font-size="10.3" text-anchor="middle" fill="#333" >Low</text>
<line x1="341.9" y1="512.2" x2="341.9" y2="556.8" stroke="#000" stroke-width="1.6"/>
<line x1="341.9" y1="582.3" x2="341.9" y2="606.9" stroke="#000" stroke-width="1.6"/>
<circle cx="341.9" cy="606.9" r="1.9" fill="#000" fill-opacity="0.74"/>
<circle cx="341.9" cy="512.2" r="1.9" fill="#000" fill-opacity="0.74"/>
<circle cx="341.8" cy="526.7" r="1.9" fill="#000" fill-opacity="0.74"/>
<circle cx="341.3" cy="542.7" r="1.9" fill="#000" fill-opacity="0.74"/>
<circle cx="344.2" cy="553.1" r="1.9" fill="#000" fill-opacity="0.74"/>
<circle cx="344.9" cy="523.2" r="1.9" fill="#000" fill-opacity="0.74"/>
<circle cx="339.0" cy="553.1" r="1.9" fill="#000" fill-opacity="0.74"/>
<circle cx="344.4" cy="542.7" r="1.9" fill="#000" fill-opacity="0.74"/>
<circle cx="339.9" cy="547.7" r="1.9" fill="#000" fill-opacity="0.74"/>
<circle cx="344.9" cy="547.7" r="1.9" fill="#000" fill-opacity="0.74"/>
<circle cx="338.7" cy="538.3" r="1.9" fill="#000" fill-opacity="0.74"/>
<circle cx="345.8" cy="538.3" r="1.9" fill="#000" fill-opacity="0.74"/>
<circle cx="342.2" cy="538.3" r="1.9" fill="#000" fill-opacity="0.74"/>
<circle cx="342.7" cy="547.7" r="1.9" fill="#000" fill-opacity="0.74"/>
<circle cx="342.8" cy="597.6" r="1.9" fill="#000" fill-opacity="0.74"/>
<circle cx="344.0" cy="588.9" r="1.9" fill="#000" fill-opacity="0.74"/>
<circle cx="336.9" cy="595.9" r="1.9" fill="#000" fill-opacity="0.74"/>
<circle cx="339.5" cy="585.7" r="1.9" fill="#000" fill-opacity="0.74"/>
<circle cx="346.7" cy="594.2" r="1.9" fill="#000" fill-opacity="0.74"/>
<circle cx="337.0" cy="586.9" r="1.9" fill="#000" fill-opacity="0.74"/>
<circle cx="339.6" cy="590.4" r="1.9" fill="#000" fill-opacity="0.74"/>
<circle cx="345.1" cy="584.0" r="1.9" fill="#000" fill-opacity="0.74"/>
<circle cx="343.8" cy="592.5" r="1.9" fill="#000" fill-opacity="0.74"/>
<circle cx="340.7" cy="595.2" r="1.9" fill="#000" fill-opacity="0.74"/>
<circle cx="346.8" cy="591.2" r="1.9" fill="#000" fill-opacity="0.74"/>
<circle cx="341.3" cy="588.3" r="1.9" fill="#000" fill-opacity="0.74"/>
<circle cx="337.1" cy="576.9" r="1.9" fill="#000" fill-opacity="0.74"/>
<circle cx="343.5" cy="575.7" r="1.9" fill="#000" fill-opacity="0.74"/>
<circle cx="349.5" cy="572.7" r="1.9" fill="#000" fill-opacity="0.74"/>
<circle cx="347.1" cy="564.8" r="1.9" fill="#000" fill-opacity="0.74"/>
<circle cx="349.6" cy="558.1" r="1.9" fill="#000" fill-opacity="0.74"/>
<circle cx="336.8" cy="561.6" r="1.9" fill="#000" fill-opacity="0.74"/>
<circle cx="341.9" cy="560.1" r="1.9" fill="#000" fill-opacity="0.74"/>
<circle cx="342.3" cy="567.8" r="1.9" fill="#000" fill-opacity="0.74"/>
<circle cx="348.1" cy="578.3" r="1.9" fill="#000" fill-opacity="0.74"/>
<circle cx="337.2" cy="568.8" r="1.9" fill="#000" fill-opacity="0.74"/>
<circle cx="341.1" cy="579.4" r="1.9" fill="#000" fill-opacity="0.74"/>
<circle cx="346.9" cy="569.8" r="1.9" fill="#000" fill-opacity="0.74"/>
<circle cx="346.2" cy="560.5" r="1.9" fill="#000" fill-opacity="0.74"/>
<circle cx="340.4" cy="563.3" r="1.9" fill="#000" fill-opacity="0.74"/>
<circle cx="334.5" cy="575.0" r="1.9" fill="#000" fill-opacity="0.74"/>
<circle cx="334.3" cy="565.4" r="1.9" fill="#000" fill-opacity="0.74"/>
<circle cx="349.7" cy="566.8" r="1.9" fill="#000" fill-opacity="0.74"/>
<circle cx="334.1" cy="571.2" r="1.9" fill="#000" fill-opacity="0.74"/>
<circle cx="334.4" cy="580.0" r="1.9" fill="#000" fill-opacity="0.74"/>
<circle cx="340.2" cy="573.5" r="1.9" fill="#000" fill-opacity="0.74"/>
<clipPath id="c9_0"><rect x="332.09999999999997" y="556.8" width="19.6" height="25.5"/></clipPath>
<rect x="332.09999999999997" y="556.8" width="19.6" height="25.5" fill="rgb(128,99,160)"/>
<g clip-path="url(#c9_0)"><circle cx="345.1" cy="584.0" r="1.9" fill="rgb(44,6,74)" fill-opacity="0.97"/><circle cx="337.1" cy="576.9" r="1.9" fill="rgb(44,6,74)" fill-opacity="0.97"/><circle cx="343.5" cy="575.7" r="1.9" fill="rgb(44,6,74)" fill-opacity="0.97"/><circle cx="349.5" cy="572.7" r="1.9" fill="rgb(44,6,74)" fill-opacity="0.97"/><circle cx="347.1" cy="564.8" r="1.9" fill="rgb(44,6,74)" fill-opacity="0.97"/><circle cx="349.6" cy="558.1" r="1.9" fill="rgb(44,6,74)" fill-opacity="0.97"/><circle cx="336.8" cy="561.6" r="1.9" fill="rgb(44,6,74)" fill-opacity="0.97"/><circle cx="341.9" cy="560.1" r="1.9" fill="rgb(44,6,74)" fill-opacity="0.97"/><circle cx="342.3" cy="567.8" r="1.9" fill="rgb(44,6,74)" fill-opacity="0.97"/><circle cx="348.1" cy="578.3" r="1.9" fill="rgb(44,6,74)" fill-opacity="0.97"/><circle cx="337.2" cy="568.8" r="1.9" fill="rgb(44,6,74)" fill-opacity="0.97"/><circle cx="341.1" cy="579.4" r="1.9" fill="rgb(44,6,74)" fill-opacity="0.97"/><circle cx="346.9" cy="569.8" r="1.9" fill="rgb(44,6,74)" fill-opacity="0.97"/><circle cx="346.2" cy="560.5" r="1.9" fill="rgb(44,6,74)" fill-opacity="0.97"/><circle cx="340.4" cy="563.3" r="1.9" fill="rgb(44,6,74)" fill-opacity="0.97"/><circle cx="334.5" cy="575.0" r="1.9" fill="rgb(44,6,74)" fill-opacity="0.97"/><circle cx="334.3" cy="565.4" r="1.9" fill="rgb(44,6,74)" fill-opacity="0.97"/><circle cx="349.7" cy="566.8" r="1.9" fill="rgb(44,6,74)" fill-opacity="0.97"/><circle cx="334.1" cy="571.2" r="1.9" fill="rgb(44,6,74)" fill-opacity="0.97"/><circle cx="334.4" cy="580.0" r="1.9" fill="rgb(44,6,74)" fill-opacity="0.97"/><circle cx="340.2" cy="573.5" r="1.9" fill="rgb(44,6,74)" fill-opacity="0.97"/></g>
<rect x="332.09999999999997" y="556.8" width="19.6" height="25.5" fill="none" stroke="#000" stroke-width="1.6"/>
<line x1="332.09999999999997" y1="575.7" x2="351.7" y2="575.7" stroke="#000" stroke-width="1.6"/>
<line x1="336.09999999999997" y1="512.2" x2="347.7" y2="512.2" stroke="#000" stroke-width="1.6"/>
<line x1="336.09999999999997" y1="606.9" x2="347.7" y2="606.9" stroke="#000" stroke-width="1.6"/>
<line x1="372.7" y1="508.9" x2="372.7" y2="561.3" stroke="#000" stroke-width="1.6"/>
<line x1="372.7" y1="576.9" x2="372.7" y2="610.3" stroke="#000" stroke-width="1.6"/>
<circle cx="372.7" cy="508.9" r="1.9" fill="#000" fill-opacity="0.74"/>
<circle cx="372.7" cy="610.3" r="1.9" fill="#000" fill-opacity="0.74"/>
<circle cx="372.7" cy="599.7" r="1.9" fill="#000" fill-opacity="0.74"/>
<circle cx="373.2" cy="550.8" r="1.9" fill="#000" fill-opacity="0.74"/>
<circle cx="370.3" cy="557.9" r="1.9" fill="#000" fill-opacity="0.74"/>
<circle cx="376.5" cy="557.9" r="1.9" fill="#000" fill-opacity="0.74"/>
<circle cx="373.8" cy="557.9" r="1.9" fill="#000" fill-opacity="0.74"/>
<circle cx="373.9" cy="544.9" r="1.9" fill="#000" fill-opacity="0.74"/>
<circle cx="374.0" cy="590.6" r="1.9" fill="#000" fill-opacity="0.74"/>
<circle cx="371.6" cy="583.2" r="1.9" fill="#000" fill-opacity="0.74"/>
<circle cx="368.8" cy="591.7" r="1.9" fill="#000" fill-opacity="0.74"/>
<circle cx="367.9" cy="546.0" r="1.9" fill="#000" fill-opacity="0.74"/>
<circle cx="366.7" cy="587.1" r="1.9" fill="#000" fill-opacity="0.74"/>
<circle cx="378.3" cy="589.1" r="1.9" fill="#000" fill-opacity="0.74"/>
<circle cx="366.9" cy="581.3" r="1.9" fill="#000" fill-opacity="0.74"/>
<circle cx="378.6" cy="545.5" r="1.9" fill="#000" fill-opacity="0.74"/>
<circle cx="370.8" cy="545.8" r="1.9" fill="#000" fill-opacity="0.74"/>
<circle cx="376.4" cy="544.6" r="1.9" fill="#000" fill-opacity="0.74"/>
<circle cx="378.6" cy="580.4" r="1.9" fill="#000" fill-opacity="0.74"/>
<circle cx="374.4" cy="586.5" r="1.9" fill="#000" fill-opacity="0.74"/>
<circle cx="373.7" cy="578.4" r="1.9" fill="#000" fill-opacity="0.74"/>
<circle cx="378.3" cy="584.5" r="1.9" fill="#000" fill-opacity="0.74"/>
<circle cx="377.8" cy="566.1" r="1.9" fill="#000" fill-opacity="0.74"/>
<circle cx="364.3" cy="563.6" r="1.9" fill="#000" fill-opacity="0.74"/>
<circle cx="380.3" cy="575.6" r="1.9" fill="#000" fill-opacity="0.74"/>
<circle cx="369.9" cy="575.1" r="1.9" fill="#000" fill-opacity="0.74"/>
<circle cx="365.9" cy="570.6" r="1.9" fill="#000" fill-opacity="0.74"/>
<circle cx="376.1" cy="574.6" r="1.9" fill="#000" fill-opacity="0.74"/>
<circle cx="372.7" cy="569.8" r="1.9" fill="#000" fill-opacity="0.74"/>
<circle cx="381.1" cy="568.9" r="1.9" fill="#000" fill-opacity="0.74"/>
<circle cx="376.3" cy="569.3" r="1.9" fill="#000" fill-opacity="0.74"/>
<circle cx="372.5" cy="562.6" r="1.9" fill="#000" fill-opacity="0.74"/>
<circle cx="378.2" cy="571.4" r="1.9" fill="#000" fill-opacity="0.74"/>
<circle cx="365.1" cy="573.7" r="1.9" fill="#000" fill-opacity="0.74"/>
<circle cx="380.9" cy="572.6" r="1.9" fill="#000" fill-opacity="0.74"/>
<circle cx="380.8" cy="563.0" r="1.9" fill="#000" fill-opacity="0.74"/>
<circle cx="368.7" cy="566.7" r="1.9" fill="#000" fill-opacity="0.74"/>
<circle cx="365.2" cy="567.9" r="1.9" fill="#000" fill-opacity="0.74"/>
<circle cx="371.1" cy="567.6" r="1.9" fill="#000" fill-opacity="0.74"/>
<circle cx="369.5" cy="572.0" r="1.9" fill="#000" fill-opacity="0.74"/>
<circle cx="374.9" cy="564.2" r="1.9" fill="#000" fill-opacity="0.74"/>
<circle cx="372.5" cy="573.3" r="1.9" fill="#000" fill-opacity="0.74"/>
<circle cx="381.1" cy="565.6" r="1.9" fill="#000" fill-opacity="0.74"/>
<circle cx="371.7" cy="565.0" r="1.9" fill="#000" fill-opacity="0.74"/>
<clipPath id="c9_1"><rect x="363.0" y="561.3" width="19.4" height="15.600000000000023"/></clipPath>
<rect x="363.0" y="561.3" width="19.4" height="15.600000000000023" fill="rgb(236,198,218)"/>
<g clip-path="url(#c9_1)"><circle cx="373.7" cy="578.4" r="1.9" fill="rgb(42,30,48)" fill-opacity="0.97"/><circle cx="377.8" cy="566.1" r="1.9" fill="rgb(42,30,48)" fill-opacity="0.97"/><circle cx="364.3" cy="563.6" r="1.9" fill="rgb(42,30,48)" fill-opacity="0.97"/><circle cx="380.3" cy="575.6" r="1.9" fill="rgb(42,30,48)" fill-opacity="0.97"/><circle cx="369.9" cy="575.1" r="1.9" fill="rgb(42,30,48)" fill-opacity="0.97"/><circle cx="365.9" cy="570.6" r="1.9" fill="rgb(42,30,48)" fill-opacity="0.97"/><circle cx="376.1" cy="574.6" r="1.9" fill="rgb(42,30,48)" fill-opacity="0.97"/><circle cx="372.7" cy="569.8" r="1.9" fill="rgb(42,30,48)" fill-opacity="0.97"/><circle cx="381.1" cy="568.9" r="1.9" fill="rgb(42,30,48)" fill-opacity="0.97"/><circle cx="376.3" cy="569.3" r="1.9" fill="rgb(42,30,48)" fill-opacity="0.97"/><circle cx="372.5" cy="562.6" r="1.9" fill="rgb(42,30,48)" fill-opacity="0.97"/><circle cx="378.2" cy="571.4" r="1.9" fill="rgb(42,30,48)" fill-opacity="0.97"/><circle cx="365.1" cy="573.7" r="1.9" fill="rgb(42,30,48)" fill-opacity="0.97"/><circle cx="380.9" cy="572.6" r="1.9" fill="rgb(42,30,48)" fill-opacity="0.97"/><circle cx="380.8" cy="563.0" r="1.9" fill="rgb(42,30,48)" fill-opacity="0.97"/><circle cx="368.7" cy="566.7" r="1.9" fill="rgb(42,30,48)" fill-opacity="0.97"/><circle cx="365.2" cy="567.9" r="1.9" fill="rgb(42,30,48)" fill-opacity="0.97"/><circle cx="371.1" cy="567.6" r="1.9" fill="rgb(42,30,48)" fill-opacity="0.97"/><circle cx="369.5" cy="572.0" r="1.9" fill="rgb(42,30,48)" fill-opacity="0.97"/><circle cx="374.9" cy="564.2" r="1.9" fill="rgb(42,30,48)" fill-opacity="0.97"/><circle cx="372.5" cy="573.3" r="1.9" fill="rgb(42,30,48)" fill-opacity="0.97"/><circle cx="381.1" cy="565.6" r="1.9" fill="rgb(42,30,48)" fill-opacity="0.97"/><circle cx="371.7" cy="565.0" r="1.9" fill="rgb(42,30,48)" fill-opacity="0.97"/></g>
<rect x="363.0" y="561.3" width="19.4" height="15.600000000000023" fill="none" stroke="#000" stroke-width="1.6"/>
<line x1="363.0" y1="570.3" x2="382.4" y2="570.3" stroke="#000" stroke-width="1.6"/>
<line x1="366.9" y1="508.9" x2="378.5" y2="508.9" stroke="#000" stroke-width="1.6"/>
<line x1="366.9" y1="610.3" x2="378.5" y2="610.3" stroke="#000" stroke-width="1.6"/>
<text x="357.3" y="417.9" font-size="11.3" text-anchor="middle" fill="#333" >LV</text>
<text x="356.4" y="432.4" font-size="9.7" text-anchor="middle" fill="#333" >CSF</text>
<text x="357.7" y="441.5" font-size="9.7" text-anchor="middle" fill="#333" >mean peak velocity</text>
<text x="309.2" y="461.8" font-size="9.5" text-anchor="middle" fill="#333" >(cm/s)</text>
<text x="359.1" y="462.6" font-size="9.5" text-anchor="middle" fill="#333"><tspan font-style="italic">p</tspan>=0.99</text>
<path d="M344.1,468.0 V465.4 H373.6 V468.0" fill="none" stroke="#444" stroke-width="1"/>
<line x1="415.1" y1="471.9" x2="419.6" y2="471.9" stroke="#000" stroke-width="1.4"/>
<line x1="415.1" y1="510.7" x2="419.6" y2="510.7" stroke="#000" stroke-width="1.4"/>
<line x1="415.1" y1="549.5" x2="419.6" y2="549.5" stroke="#000" stroke-width="1.4"/>
<line x1="415.1" y1="588.3" x2="419.6" y2="588.3" stroke="#000" stroke-width="1.4"/>
<line x1="415.1" y1="627.1" x2="419.6" y2="627.1" stroke="#000" stroke-width="1.4"/>
<text transform="translate(413.40,475.66) scale(1,1.0)" font-size="10.5" text-anchor="end" fill="#333">0.4</text>
<text transform="translate(413.40,514.46) scale(1,1.0)" font-size="10.5" text-anchor="end" fill="#333">0.3</text>
<text transform="translate(413.40,553.26) scale(1,1.0)" font-size="10.5" text-anchor="end" fill="#333">0.2</text>
<text transform="translate(413.40,592.06) scale(1,1.0)" font-size="10.5" text-anchor="end" fill="#333">0.1</text>
<text transform="translate(413.40,630.86) scale(1,1.0)" font-size="10.5" text-anchor="end" fill="#333">0.0</text>
<line x1="419.6" y1="471.2" x2="419.6" y2="627.9" stroke="#000" stroke-width="1.6"/>
<line x1="415.1" y1="627.1" x2="487.5" y2="627.1" stroke="#000" stroke-width="1.6"/>
<line x1="439.1" y1="627.1" x2="439.1" y2="631.6" stroke="#000" stroke-width="1.4"/>
<text x="438.6" y="642.6" font-size="10.3" text-anchor="middle" fill="#333" >High</text>
<line x1="468.4" y1="627.1" x2="468.4" y2="631.6" stroke="#000" stroke-width="1.4"/>
<text x="470.4" y="642.6" font-size="10.3" text-anchor="middle" fill="#333" >Low</text>
<line x1="439.1" y1="486.4" x2="439.1" y2="555.8" stroke="#000" stroke-width="1.6"/>
<line x1="439.1" y1="577.6" x2="439.1" y2="603.8" stroke="#000" stroke-width="1.6"/>
<circle cx="439.1" cy="603.8" r="1.9" fill="#000" fill-opacity="0.74"/>
<circle cx="439.1" cy="486.4" r="1.9" fill="#000" fill-opacity="0.74"/>
<circle cx="439.0" cy="497.8" r="1.9" fill="#000" fill-opacity="0.74"/>
<circle cx="439.1" cy="531.1" r="1.9" fill="#000" fill-opacity="0.74"/>
<circle cx="439.1" cy="526.7" r="1.9" fill="#000" fill-opacity="0.74"/>
<circle cx="439.0" cy="509.3" r="1.9" fill="#000" fill-opacity="0.74"/>
<circle cx="439.1" cy="600.0" r="1.9" fill="#000" fill-opacity="0.74"/>
<circle cx="437.3" cy="539.1" r="1.9" fill="#000" fill-opacity="0.74"/>
<circle cx="442.0" cy="539.1" r="1.9" fill="#000" fill-opacity="0.74"/>
<circle cx="437.4" cy="593.5" r="1.9" fill="#000" fill-opacity="0.74"/>
<circle cx="441.9" cy="593.5" r="1.9" fill="#000" fill-opacity="0.74"/>
<circle cx="437.6" cy="551.5" r="1.9" fill="#000" fill-opacity="0.74"/>
<circle cx="442.9" cy="551.5" r="1.9" fill="#000" fill-opacity="0.74"/>
<circle cx="434.2" cy="551.5" r="1.9" fill="#000" fill-opacity="0.74"/>
<circle cx="434.2" cy="583.8" r="1.9" fill="#000" fill-opacity="0.74"/>
<circle cx="442.0" cy="579.4" r="1.9" fill="#000" fill-opacity="0.74"/>
<circle cx="444.8" cy="588.9" r="1.9" fill="#000" fill-opacity="0.74"/>
<circle cx="439.0" cy="587.0" r="1.9" fill="#000" fill-opacity="0.74"/>
<circle cx="438.5" cy="582.7" r="1.9" fill="#000" fill-opacity="0.74"/>
<circle cx="433.3" cy="588.2" r="1.9" fill="#000" fill-opacity="0.74"/>
<circle cx="444.9" cy="581.5" r="1.9" fill="#000" fill-opacity="0.74"/>
<circle cx="442.6" cy="584.8" r="1.9" fill="#000" fill-opacity="0.74"/>
<circle cx="435.1" cy="576.8" r="1.9" fill="#000" fill-opacity="0.74"/>
<circle cx="437.7" cy="561.4" r="1.9" fill="#000" fill-opacity="0.74"/>
<circle cx="441.3" cy="557.9" r="1.9" fill="#000" fill-opacity="0.74"/>
<circle cx="440.8" cy="569.1" r="1.9" fill="#000" fill-opacity="0.74"/>
<circle cx="433.1" cy="557.5" r="1.9" fill="#000" fill-opacity="0.74"/>
<circle cx="432.4" cy="572.5" r="1.9" fill="#000" fill-opacity="0.74"/>
<circle cx="446.1" cy="571.5" r="1.9" fill="#000" fill-opacity="0.74"/>
<circle cx="432.6" cy="563.0" r="1.9" fill="#000" fill-opacity="0.74"/>
<circle cx="445.3" cy="560.5" r="1.9" fill="#000" fill-opacity="0.74"/>
<circle cx="441.9" cy="562.1" r="1.9" fill="#000" fill-opacity="0.74"/>
<circle cx="435.2" cy="561.2" r="1.9" fill="#000" fill-opacity="0.74"/>
<circle cx="446.0" cy="564.7" r="1.9" fill="#000" fill-opacity="0.74"/>
<circle cx="436.2" cy="570.1" r="1.9" fill="#000" fill-opacity="0.74"/>
<circle cx="439.5" cy="563.8" r="1.9" fill="#000" fill-opacity="0.74"/>
<circle cx="434.7" cy="566.4" r="1.9" fill="#000" fill-opacity="0.74"/>
<circle cx="444.3" cy="568.1" r="1.9" fill="#000" fill-opacity="0.74"/>
<circle cx="443.0" cy="559.8" r="1.9" fill="#000" fill-opacity="0.74"/>
<circle cx="438.5" cy="558.7" r="1.9" fill="#000" fill-opacity="0.74"/>
<circle cx="440.0" cy="575.4" r="1.9" fill="#000" fill-opacity="0.74"/>
<circle cx="443.1" cy="573.7" r="1.9" fill="#000" fill-opacity="0.74"/>
<circle cx="442.8" cy="565.1" r="1.9" fill="#000" fill-opacity="0.74"/>
<circle cx="437.4" cy="566.0" r="1.9" fill="#000" fill-opacity="0.74"/>
<clipPath id="c10_0"><rect x="430.0" y="555.8" width="18.2" height="21.800000000000068"/></clipPath>
<rect x="430.0" y="555.8" width="18.2" height="21.800000000000068" fill="rgb(128,99,160)"/>
<g clip-path="url(#c10_0)"><circle cx="442.0" cy="579.4" r="1.9" fill="rgb(44,6,74)" fill-opacity="0.97"/><circle cx="435.1" cy="576.8" r="1.9" fill="rgb(44,6,74)" fill-opacity="0.97"/><circle cx="437.7" cy="561.4" r="1.9" fill="rgb(44,6,74)" fill-opacity="0.97"/><circle cx="441.3" cy="557.9" r="1.9" fill="rgb(44,6,74)" fill-opacity="0.97"/><circle cx="440.8" cy="569.1" r="1.9" fill="rgb(44,6,74)" fill-opacity="0.97"/><circle cx="433.1" cy="557.5" r="1.9" fill="rgb(44,6,74)" fill-opacity="0.97"/><circle cx="432.4" cy="572.5" r="1.9" fill="rgb(44,6,74)" fill-opacity="0.97"/><circle cx="446.1" cy="571.5" r="1.9" fill="rgb(44,6,74)" fill-opacity="0.97"/><circle cx="432.6" cy="563.0" r="1.9" fill="rgb(44,6,74)" fill-opacity="0.97"/><circle cx="445.3" cy="560.5" r="1.9" fill="rgb(44,6,74)" fill-opacity="0.97"/><circle cx="441.9" cy="562.1" r="1.9" fill="rgb(44,6,74)" fill-opacity="0.97"/><circle cx="435.2" cy="561.2" r="1.9" fill="rgb(44,6,74)" fill-opacity="0.97"/><circle cx="446.0" cy="564.7" r="1.9" fill="rgb(44,6,74)" fill-opacity="0.97"/><circle cx="436.2" cy="570.1" r="1.9" fill="rgb(44,6,74)" fill-opacity="0.97"/><circle cx="439.5" cy="563.8" r="1.9" fill="rgb(44,6,74)" fill-opacity="0.97"/><circle cx="434.7" cy="566.4" r="1.9" fill="rgb(44,6,74)" fill-opacity="0.97"/><circle cx="444.3" cy="568.1" r="1.9" fill="rgb(44,6,74)" fill-opacity="0.97"/><circle cx="443.0" cy="559.8" r="1.9" fill="rgb(44,6,74)" fill-opacity="0.97"/><circle cx="438.5" cy="558.7" r="1.9" fill="rgb(44,6,74)" fill-opacity="0.97"/><circle cx="440.0" cy="575.4" r="1.9" fill="rgb(44,6,74)" fill-opacity="0.97"/><circle cx="443.1" cy="573.7" r="1.9" fill="rgb(44,6,74)" fill-opacity="0.97"/><circle cx="442.8" cy="565.1" r="1.9" fill="rgb(44,6,74)" fill-opacity="0.97"/><circle cx="437.4" cy="566.0" r="1.9" fill="rgb(44,6,74)" fill-opacity="0.97"/></g>
<rect x="430.0" y="555.8" width="18.2" height="21.800000000000068" fill="none" stroke="#000" stroke-width="1.6"/>
<line x1="430.0" y1="566.1" x2="448.20000000000005" y2="566.1" stroke="#000" stroke-width="1.6"/>
<line x1="433.3" y1="486.4" x2="444.90000000000003" y2="486.4" stroke="#000" stroke-width="1.6"/>
<line x1="433.3" y1="603.8" x2="444.90000000000003" y2="603.8" stroke="#000" stroke-width="1.6"/>
<line x1="468.4" y1="486" x2="468.4" y2="555.2" stroke="#000" stroke-width="1.6"/>
<line x1="468.4" y1="573.4" x2="468.4" y2="610.1" stroke="#000" stroke-width="1.6"/>
<circle cx="468.4" cy="610.1" r="1.9" fill="#000" fill-opacity="0.74"/>
<circle cx="468.4" cy="486.0" r="1.9" fill="#000" fill-opacity="0.74"/>
<circle cx="468.3" cy="597.8" r="1.9" fill="#000" fill-opacity="0.74"/>
<circle cx="468.5" cy="537.4" r="1.9" fill="#000" fill-opacity="0.74"/>
<circle cx="468.5" cy="591.3" r="1.9" fill="#000" fill-opacity="0.74"/>
<circle cx="468.7" cy="545.7" r="1.9" fill="#000" fill-opacity="0.74"/>
<circle cx="464.7" cy="545.7" r="1.9" fill="#000" fill-opacity="0.74"/>
<circle cx="464.8" cy="584.9" r="1.9" fill="#000" fill-opacity="0.74"/>
<circle cx="469.3" cy="577.9" r="1.9" fill="#000" fill-opacity="0.74"/>
<circle cx="464.0" cy="575.9" r="1.9" fill="#000" fill-opacity="0.74"/>
<circle cx="472.8" cy="581.6" r="1.9" fill="#000" fill-opacity="0.74"/>
<circle cx="470.0" cy="584.3" r="1.9" fill="#000" fill-opacity="0.74"/>
<circle cx="464.8" cy="580.3" r="1.9" fill="#000" fill-opacity="0.74"/>
<circle cx="467.9" cy="582.8" r="1.9" fill="#000" fill-opacity="0.74"/>
<circle cx="472.2" cy="550.0" r="1.9" fill="#000" fill-opacity="0.74"/>
<circle cx="473.2" cy="576.5" r="1.9" fill="#000" fill-opacity="0.74"/>
<circle cx="467.5" cy="550.0" r="1.9" fill="#000" fill-opacity="0.74"/>
<circle cx="463.9" cy="550.0" r="1.9" fill="#000" fill-opacity="0.74"/>
<circle cx="471.4" cy="570.9" r="1.9" fill="#000" fill-opacity="0.74"/>
<circle cx="461.3" cy="556.1" r="1.9" fill="#000" fill-opacity="0.74"/>
<circle cx="471.4" cy="560.0" r="1.9" fill="#000" fill-opacity="0.74"/>
<circle cx="465.1" cy="562.8" r="1.9" fill="#000" fill-opacity="0.74"/>
<circle cx="470.8" cy="565.5" r="1.9" fill="#000" fill-opacity="0.74"/>
<circle cx="475.0" cy="564.1" r="1.9" fill="#000" fill-opacity="0.74"/>
<circle cx="461.7" cy="560.5" r="1.9" fill="#000" fill-opacity="0.74"/>
<circle cx="462.6" cy="569.6" r="1.9" fill="#000" fill-opacity="0.74"/>
<circle cx="469.1" cy="562.4" r="1.9" fill="#000" fill-opacity="0.74"/>
<circle cx="467.3" cy="570.3" r="1.9" fill="#000" fill-opacity="0.74"/>
<circle cx="474.1" cy="567.8" r="1.9" fill="#000" fill-opacity="0.74"/>
<circle cx="475.8" cy="558.4" r="1.9" fill="#000" fill-opacity="0.74"/>
<circle cx="473.7" cy="561.6" r="1.9" fill="#000" fill-opacity="0.74"/>
<circle cx="466.8" cy="559.2" r="1.9" fill="#000" fill-opacity="0.74"/>
<circle cx="467.5" cy="567.1" r="1.9" fill="#000" fill-opacity="0.74"/>
<circle cx="461.9" cy="563.6" r="1.9" fill="#000" fill-opacity="0.74"/>
<circle cx="470.1" cy="568.5" r="1.9" fill="#000" fill-opacity="0.74"/>
<circle cx="464.2" cy="566.3" r="1.9" fill="#000" fill-opacity="0.74"/>
<circle cx="466.3" cy="565.1" r="1.9" fill="#000" fill-opacity="0.74"/>
<circle cx="463.6" cy="557.7" r="1.9" fill="#000" fill-opacity="0.74"/>
<circle cx="469.3" cy="556.9" r="1.9" fill="#000" fill-opacity="0.74"/>
<circle cx="474.9" cy="571.5" r="1.9" fill="#000" fill-opacity="0.74"/>
<clipPath id="c10_1"><rect x="459.29999999999995" y="555.2" width="18.2" height="18.199999999999932"/></clipPath>
<rect x="459.29999999999995" y="555.2" width="18.2" height="18.199999999999932" fill="rgb(236,198,218)"/>
<g clip-path="url(#c10_1)"><circle cx="471.4" cy="570.9" r="1.9" fill="rgb(42,30,48)" fill-opacity="0.97"/><circle cx="461.3" cy="556.1" r="1.9" fill="rgb(42,30,48)" fill-opacity="0.97"/><circle cx="471.4" cy="560.0" r="1.9" fill="rgb(42,30,48)" fill-opacity="0.97"/><circle cx="465.1" cy="562.8" r="1.9" fill="rgb(42,30,48)" fill-opacity="0.97"/><circle cx="470.8" cy="565.5" r="1.9" fill="rgb(42,30,48)" fill-opacity="0.97"/><circle cx="475.0" cy="564.1" r="1.9" fill="rgb(42,30,48)" fill-opacity="0.97"/><circle cx="461.7" cy="560.5" r="1.9" fill="rgb(42,30,48)" fill-opacity="0.97"/><circle cx="462.6" cy="569.6" r="1.9" fill="rgb(42,30,48)" fill-opacity="0.97"/><circle cx="469.1" cy="562.4" r="1.9" fill="rgb(42,30,48)" fill-opacity="0.97"/><circle cx="467.3" cy="570.3" r="1.9" fill="rgb(42,30,48)" fill-opacity="0.97"/><circle cx="474.1" cy="567.8" r="1.9" fill="rgb(42,30,48)" fill-opacity="0.97"/><circle cx="475.8" cy="558.4" r="1.9" fill="rgb(42,30,48)" fill-opacity="0.97"/><circle cx="473.7" cy="561.6" r="1.9" fill="rgb(42,30,48)" fill-opacity="0.97"/><circle cx="466.8" cy="559.2" r="1.9" fill="rgb(42,30,48)" fill-opacity="0.97"/><circle cx="467.5" cy="567.1" r="1.9" fill="rgb(42,30,48)" fill-opacity="0.97"/><circle cx="461.9" cy="563.6" r="1.9" fill="rgb(42,30,48)" fill-opacity="0.97"/><circle cx="470.1" cy="568.5" r="1.9" fill="rgb(42,30,48)" fill-opacity="0.97"/><circle cx="464.2" cy="566.3" r="1.9" fill="rgb(42,30,48)" fill-opacity="0.97"/><circle cx="466.3" cy="565.1" r="1.9" fill="rgb(42,30,48)" fill-opacity="0.97"/><circle cx="463.6" cy="557.7" r="1.9" fill="rgb(42,30,48)" fill-opacity="0.97"/><circle cx="469.3" cy="556.9" r="1.9" fill="rgb(42,30,48)" fill-opacity="0.97"/><circle cx="474.9" cy="571.5" r="1.9" fill="rgb(42,30,48)" fill-opacity="0.97"/></g>
<rect x="459.29999999999995" y="555.2" width="18.2" height="18.199999999999932" fill="none" stroke="#000" stroke-width="1.6"/>
<line x1="459.29999999999995" y1="563.6" x2="477.5" y2="563.6" stroke="#000" stroke-width="1.6"/>
<line x1="462.59999999999997" y1="486" x2="474.2" y2="486" stroke="#000" stroke-width="1.6"/>
<line x1="462.59999999999997" y1="610.1" x2="474.2" y2="610.1" stroke="#000" stroke-width="1.6"/>
<text x="449.9" y="417.9" font-size="11.3" text-anchor="middle" fill="#333" >LV</text>
<text x="449.3" y="432.4" font-size="9.7" text-anchor="middle" fill="#333" >CSF</text>
<text x="450.2" y="441.5" font-size="9.7" text-anchor="middle" fill="#333" >mean speed</text>
<text x="406.8" y="461.8" font-size="9.5" text-anchor="middle" fill="#333" >(cm/s)</text>
<text x="453.5" y="462.6" font-size="9.5" text-anchor="middle" fill="#333"><tspan font-style="italic">p</tspan>=0.7299</text>
<path d="M437.7,468.0 V465.4 H467.6 V468.0" fill="none" stroke="#444" stroke-width="1"/>
<line x1="513.2" y1="471.7" x2="517.7" y2="471.7" stroke="#000" stroke-width="1.4"/>
<line x1="513.2" y1="502.71999999999997" x2="517.7" y2="502.71999999999997" stroke="#000" stroke-width="1.4"/>
<line x1="513.2" y1="533.74" x2="517.7" y2="533.74" stroke="#000" stroke-width="1.4"/>
<line x1="513.2" y1="564.76" x2="517.7" y2="564.76" stroke="#000" stroke-width="1.4"/>
<line x1="513.2" y1="595.78" x2="517.7" y2="595.78" stroke="#000" stroke-width="1.4"/>
<line x1="513.2" y1="626.8" x2="517.7" y2="626.8" stroke="#000" stroke-width="1.4"/>
<text transform="translate(511.50,475.46) scale(1,1.0)" font-size="10.5" text-anchor="end" fill="#333">0.25</text>
<text transform="translate(511.50,506.48) scale(1,1.0)" font-size="10.5" text-anchor="end" fill="#333">0.20</text>
<text transform="translate(511.50,537.50) scale(1,1.0)" font-size="10.5" text-anchor="end" fill="#333">0.15</text>
<text transform="translate(511.50,568.52) scale(1,1.0)" font-size="10.5" text-anchor="end" fill="#333">0.10</text>
<text transform="translate(511.50,599.54) scale(1,1.0)" font-size="10.5" text-anchor="end" fill="#333">0.05</text>
<text transform="translate(511.50,630.56) scale(1,1.0)" font-size="10.5" text-anchor="end" fill="#333">0.00</text>
<line x1="517.7" y1="471.0" x2="517.7" y2="627.5999999999999" stroke="#000" stroke-width="1.6"/>
<line x1="513.2" y1="626.8" x2="587.7" y2="626.8" stroke="#000" stroke-width="1.6"/>
<line x1="537.6" y1="626.8" x2="537.6" y2="631.3" stroke="#000" stroke-width="1.4"/>
<text x="539.2" y="642.6" font-size="10.3" text-anchor="middle" fill="#333" >High</text>
<line x1="568.8" y1="626.8" x2="568.8" y2="631.3" stroke="#000" stroke-width="1.4"/>
<text x="571.1" y="642.6" font-size="10.3" text-anchor="middle" fill="#333" >Low</text>
<line x1="537.6" y1="502.3" x2="537.6" y2="561.2" stroke="#000" stroke-width="1.6"/>
<line x1="537.6" y1="608.9" x2="537.6" y2="622.9" stroke="#000" stroke-width="1.6"/>
<circle cx="537.6" cy="622.9" r="1.9" fill="#000" fill-opacity="0.74"/>
<circle cx="537.6" cy="502.3" r="1.9" fill="#000" fill-opacity="0.74"/>
<circle cx="537.5" cy="547.3" r="1.9" fill="#000" fill-opacity="0.74"/>
<circle cx="537.5" cy="552.0" r="1.9" fill="#000" fill-opacity="0.74"/>
<circle cx="537.3" cy="556.3" r="1.9" fill="#000" fill-opacity="0.74"/>
<circle cx="539.3" cy="558.4" r="1.9" fill="#000" fill-opacity="0.74"/>
<circle cx="536.2" cy="558.4" r="1.9" fill="#000" fill-opacity="0.74"/>
<circle cx="537.1" cy="508.2" r="1.9" fill="#000" fill-opacity="0.74"/>
<circle cx="539.5" cy="508.2" r="1.9" fill="#000" fill-opacity="0.74"/>
<circle cx="534.6" cy="511.4" r="1.9" fill="#000" fill-opacity="0.74"/>
<circle cx="538.1" cy="511.4" r="1.9" fill="#000" fill-opacity="0.74"/>
<circle cx="540.5" cy="521.6" r="1.9" fill="#000" fill-opacity="0.74"/>
<circle cx="535.1" cy="521.6" r="1.9" fill="#000" fill-opacity="0.74"/>
<circle cx="536.8" cy="600.1" r="1.9" fill="#000" fill-opacity="0.74"/>
<circle cx="540.5" cy="590.4" r="1.9" fill="#000" fill-opacity="0.74"/>
<circle cx="541.3" cy="579.5" r="1.9" fill="#000" fill-opacity="0.74"/>
<circle cx="534.8" cy="577.2" r="1.9" fill="#000" fill-opacity="0.74"/>
<circle cx="532.7" cy="567.2" r="1.9" fill="#000" fill-opacity="0.74"/>
<circle cx="533.4" cy="595.1" r="1.9" fill="#000" fill-opacity="0.74"/>
<circle cx="543.0" cy="597.1" r="1.9" fill="#000" fill-opacity="0.74"/>
<circle cx="540.9" cy="571.4" r="1.9" fill="#000" fill-opacity="0.74"/>
<circle cx="534.5" cy="586.8" r="1.9" fill="#000" fill-opacity="0.74"/>
<circle cx="532.1" cy="573.6" r="1.9" fill="#000" fill-opacity="0.74"/>
<circle cx="537.1" cy="592.7" r="1.9" fill="#000" fill-opacity="0.74"/>
<circle cx="541.7" cy="602.2" r="1.9" fill="#000" fill-opacity="0.74"/>
<circle cx="537.1" cy="581.1" r="1.9" fill="#000" fill-opacity="0.74"/>
<circle cx="543.3" cy="587.9" r="1.9" fill="#000" fill-opacity="0.74"/>
<circle cx="539.8" cy="574.9" r="1.9" fill="#000" fill-opacity="0.74"/>
<circle cx="531.9" cy="603.0" r="1.9" fill="#000" fill-opacity="0.74"/>
<circle cx="537.6" cy="569.0" r="1.9" fill="#000" fill-opacity="0.74"/>
<circle cx="541.6" cy="563.9" r="1.9" fill="#000" fill-opacity="0.74"/>
<circle cx="536.6" cy="605.9" r="1.9" fill="#000" fill-opacity="0.74"/>
<circle cx="540.6" cy="584.5" r="1.9" fill="#000" fill-opacity="0.74"/>
<circle cx="542.9" cy="611.9" r="1.9" fill="#000" fill-opacity="0.74"/>
<circle cx="532.7" cy="619.7" r="1.9" fill="#000" fill-opacity="0.74"/>
<circle cx="533.0" cy="611.6" r="1.9" fill="#000" fill-opacity="0.74"/>
<circle cx="538.9" cy="615.2" r="1.9" fill="#000" fill-opacity="0.74"/>
<circle cx="544.0" cy="617.8" r="1.9" fill="#000" fill-opacity="0.74"/>
<circle cx="536.5" cy="618.6" r="1.9" fill="#000" fill-opacity="0.74"/>
<circle cx="535.8" cy="612.9" r="1.9" fill="#000" fill-opacity="0.74"/>
<circle cx="531.4" cy="616.7" r="1.9" fill="#000" fill-opacity="0.74"/>
<circle cx="541.7" cy="616.2" r="1.9" fill="#000" fill-opacity="0.74"/>
<circle cx="531.0" cy="613.9" r="1.9" fill="#000" fill-opacity="0.74"/>
<clipPath id="c11_0"><rect x="528.2" y="561.2" width="18.8" height="47.69999999999993"/></clipPath>
<rect x="528.2" y="561.2" width="18.8" height="47.69999999999993" fill="rgb(128,99,160)"/>
<g clip-path="url(#c11_0)"><circle cx="536.8" cy="600.1" r="1.9" fill="rgb(44,6,74)" fill-opacity="0.97"/><circle cx="540.5" cy="590.4" r="1.9" fill="rgb(44,6,74)" fill-opacity="0.97"/><circle cx="541.3" cy="579.5" r="1.9" fill="rgb(44,6,74)" fill-opacity="0.97"/><circle cx="534.8" cy="577.2" r="1.9" fill="rgb(44,6,74)" fill-opacity="0.97"/><circle cx="532.7" cy="567.2" r="1.9" fill="rgb(44,6,74)" fill-opacity="0.97"/><circle cx="533.4" cy="595.1" r="1.9" fill="rgb(44,6,74)" fill-opacity="0.97"/><circle cx="543.0" cy="597.1" r="1.9" fill="rgb(44,6,74)" fill-opacity="0.97"/><circle cx="540.9" cy="571.4" r="1.9" fill="rgb(44,6,74)" fill-opacity="0.97"/><circle cx="534.5" cy="586.8" r="1.9" fill="rgb(44,6,74)" fill-opacity="0.97"/><circle cx="532.1" cy="573.6" r="1.9" fill="rgb(44,6,74)" fill-opacity="0.97"/><circle cx="537.1" cy="592.7" r="1.9" fill="rgb(44,6,74)" fill-opacity="0.97"/><circle cx="541.7" cy="602.2" r="1.9" fill="rgb(44,6,74)" fill-opacity="0.97"/><circle cx="537.1" cy="581.1" r="1.9" fill="rgb(44,6,74)" fill-opacity="0.97"/><circle cx="543.3" cy="587.9" r="1.9" fill="rgb(44,6,74)" fill-opacity="0.97"/><circle cx="539.8" cy="574.9" r="1.9" fill="rgb(44,6,74)" fill-opacity="0.97"/><circle cx="531.9" cy="603.0" r="1.9" fill="rgb(44,6,74)" fill-opacity="0.97"/><circle cx="537.6" cy="569.0" r="1.9" fill="rgb(44,6,74)" fill-opacity="0.97"/><circle cx="541.6" cy="563.9" r="1.9" fill="rgb(44,6,74)" fill-opacity="0.97"/><circle cx="536.6" cy="605.9" r="1.9" fill="rgb(44,6,74)" fill-opacity="0.97"/><circle cx="540.6" cy="584.5" r="1.9" fill="rgb(44,6,74)" fill-opacity="0.97"/></g>
<rect x="528.2" y="561.2" width="18.8" height="47.69999999999993" fill="none" stroke="#000" stroke-width="1.6"/>
<line x1="528.2" y1="596.2" x2="547.0" y2="596.2" stroke="#000" stroke-width="1.6"/>
<line x1="531.8000000000001" y1="502.3" x2="543.4" y2="502.3" stroke="#000" stroke-width="1.6"/>
<line x1="531.8000000000001" y1="622.9" x2="543.4" y2="622.9" stroke="#000" stroke-width="1.6"/>
<line x1="568.8" y1="506.7" x2="568.8" y2="601.2" stroke="#000" stroke-width="1.6"/>
<line x1="568.8" y1="619.4" x2="568.8" y2="624" stroke="#000" stroke-width="1.6"/>
<circle cx="568.8" cy="506.7" r="1.9" fill="#000" fill-opacity="0.74"/>
<circle cx="568.6" cy="585.1" r="1.9" fill="#000" fill-opacity="0.74"/>
<circle cx="569.1" cy="577.7" r="1.9" fill="#000" fill-opacity="0.74"/>
<circle cx="568.7" cy="575.5" r="1.9" fill="#000" fill-opacity="0.74"/>
<circle cx="569.0" cy="580.9" r="1.9" fill="#000" fill-opacity="0.74"/>
<circle cx="566.5" cy="590.9" r="1.9" fill="#000" fill-opacity="0.74"/>
<circle cx="571.3" cy="594.8" r="1.9" fill="#000" fill-opacity="0.74"/>
<circle cx="566.2" cy="604.8" r="1.9" fill="#000" fill-opacity="0.74"/>
<circle cx="569.8" cy="609.3" r="1.9" fill="#000" fill-opacity="0.74"/>
<circle cx="570.8" cy="590.9" r="1.9" fill="#000" fill-opacity="0.74"/>
<circle cx="567.2" cy="594.8" r="1.9" fill="#000" fill-opacity="0.74"/>
<circle cx="571.8" cy="606.7" r="1.9" fill="#000" fill-opacity="0.74"/>
<circle cx="569.2" cy="594.8" r="1.9" fill="#000" fill-opacity="0.74"/>
<circle cx="564.6" cy="617.5" r="1.9" fill="#000" fill-opacity="0.74"/>
<circle cx="564.5" cy="612.0" r="1.9" fill="#000" fill-opacity="0.74"/>
<circle cx="571.2" cy="616.9" r="1.9" fill="#000" fill-opacity="0.74"/>
<circle cx="574.3" cy="613.1" r="1.9" fill="#000" fill-opacity="0.74"/>
<circle cx="566.7" cy="615.1" r="1.9" fill="#000" fill-opacity="0.74"/>
<circle cx="570.3" cy="612.8" r="1.9" fill="#000" fill-opacity="0.74"/>
<circle cx="567.3" cy="611.2" r="1.9" fill="#000" fill-opacity="0.74"/>
<circle cx="563.4" cy="614.9" r="1.9" fill="#000" fill-opacity="0.74"/>
<circle cx="573.7" cy="616.1" r="1.9" fill="#000" fill-opacity="0.74"/>
<circle cx="568.0" cy="618.5" r="1.9" fill="#000" fill-opacity="0.74"/>
<circle cx="574.1" cy="618.0" r="1.9" fill="#000" fill-opacity="0.74"/>
<circle cx="572.0" cy="613.8" r="1.9" fill="#000" fill-opacity="0.74"/>
<circle cx="576.0" cy="623.3" r="1.9" fill="#000" fill-opacity="0.74"/>
<circle cx="560.8" cy="619.3" r="1.9" fill="#000" fill-opacity="0.74"/>
<circle cx="576.8" cy="619.7" r="1.9" fill="#000" fill-opacity="0.74"/>
<circle cx="564.4" cy="623.2" r="1.9" fill="#000" fill-opacity="0.74"/>
<circle cx="571.1" cy="621.0" r="1.9" fill="#000" fill-opacity="0.74"/>
<circle cx="561.1" cy="622.3" r="1.9" fill="#000" fill-opacity="0.74"/>
<circle cx="566.4" cy="620.9" r="1.9" fill="#000" fill-opacity="0.74"/>
<circle cx="574.0" cy="621.6" r="1.9" fill="#000" fill-opacity="0.74"/>
<circle cx="568.7" cy="622.0" r="1.9" fill="#000" fill-opacity="0.74"/>
<circle cx="563.3" cy="620.1" r="1.9" fill="#000" fill-opacity="0.74"/>
<circle cx="568.0" cy="620.3" r="1.9" fill="#000" fill-opacity="0.74"/>
<circle cx="566.9" cy="622.8" r="1.9" fill="#000" fill-opacity="0.74"/>
<clipPath id="c11_1"><rect x="559.0" y="601.2" width="19.6" height="18.199999999999932"/></clipPath>
<rect x="559.0" y="601.2" width="19.6" height="18.199999999999932" fill="rgb(236,198,218)"/>
<g clip-path="url(#c11_1)"><circle cx="566.2" cy="604.8" r="1.9" fill="rgb(42,30,48)" fill-opacity="0.97"/><circle cx="569.8" cy="609.3" r="1.9" fill="rgb(42,30,48)" fill-opacity="0.97"/><circle cx="571.8" cy="606.7" r="1.9" fill="rgb(42,30,48)" fill-opacity="0.97"/><circle cx="564.6" cy="617.5" r="1.9" fill="rgb(42,30,48)" fill-opacity="0.97"/><circle cx="564.5" cy="612.0" r="1.9" fill="rgb(42,30,48)" fill-opacity="0.97"/><circle cx="571.2" cy="616.9" r="1.9" fill="rgb(42,30,48)" fill-opacity="0.97"/><circle cx="574.3" cy="613.1" r="1.9" fill="rgb(42,30,48)" fill-opacity="0.97"/><circle cx="566.7" cy="615.1" r="1.9" fill="rgb(42,30,48)" fill-opacity="0.97"/><circle cx="570.3" cy="612.8" r="1.9" fill="rgb(42,30,48)" fill-opacity="0.97"/><circle cx="567.3" cy="611.2" r="1.9" fill="rgb(42,30,48)" fill-opacity="0.97"/><circle cx="563.4" cy="614.9" r="1.9" fill="rgb(42,30,48)" fill-opacity="0.97"/><circle cx="573.7" cy="616.1" r="1.9" fill="rgb(42,30,48)" fill-opacity="0.97"/><circle cx="568.0" cy="618.5" r="1.9" fill="rgb(42,30,48)" fill-opacity="0.97"/><circle cx="574.1" cy="618.0" r="1.9" fill="rgb(42,30,48)" fill-opacity="0.97"/><circle cx="572.0" cy="613.8" r="1.9" fill="rgb(42,30,48)" fill-opacity="0.97"/><circle cx="560.8" cy="619.3" r="1.9" fill="rgb(42,30,48)" fill-opacity="0.97"/><circle cx="576.8" cy="619.7" r="1.9" fill="rgb(42,30,48)" fill-opacity="0.97"/><circle cx="571.1" cy="621.0" r="1.9" fill="rgb(42,30,48)" fill-opacity="0.97"/><circle cx="566.4" cy="620.9" r="1.9" fill="rgb(42,30,48)" fill-opacity="0.97"/><circle cx="563.3" cy="620.1" r="1.9" fill="rgb(42,30,48)" fill-opacity="0.97"/><circle cx="568.0" cy="620.3" r="1.9" fill="rgb(42,30,48)" fill-opacity="0.97"/></g>
<rect x="559.0" y="601.2" width="19.6" height="18.199999999999932" fill="none" stroke="#000" stroke-width="1.6"/>
<line x1="559.0" y1="616.1" x2="578.5999999999999" y2="616.1" stroke="#000" stroke-width="1.6"/>
<line x1="563.0" y1="506.7" x2="574.5999999999999" y2="506.7" stroke="#000" stroke-width="1.6"/>
<line x1="563.0" y1="624" x2="574.5999999999999" y2="624" stroke="#000" stroke-width="1.6"/>
<text x="549.9" y="417.9" font-size="11.3" text-anchor="middle" fill="#333" >LV</text>
<text x="549.3" y="432.4" font-size="9.7" text-anchor="middle" fill="#333" >CSF</text>
<text x="550.3" y="441.5" font-size="9.7" text-anchor="middle" fill="#333" >displacement</text>
<text x="511.1" y="461.8" font-size="9.5" text-anchor="middle" fill="#333" >(ml)</text>
<polygon points="546.70,447.40 547.32,448.85 548.89,448.99 547.70,450.02 548.05,451.56 546.70,450.75 545.35,451.56 545.70,450.02 544.51,448.99 546.08,448.85" fill="#333"/>
<polygon points="550.90,447.40 551.52,448.85 553.09,448.99 551.90,450.02 552.25,451.56 550.90,450.75 549.55,451.56 549.90,450.02 548.71,448.99 550.28,448.85" fill="#333"/>
<polygon points="555.10,447.40 555.72,448.85 557.29,448.99 556.10,450.02 556.45,451.56 555.10,450.75 553.75,451.56 554.10,450.02 552.91,448.99 554.48,448.85" fill="#333"/>
<polygon points="559.30,447.40 559.92,448.85 561.49,448.99 560.30,450.02 560.65,451.56 559.30,450.75 557.95,451.56 558.30,450.02 557.11,448.99 558.68,448.85" fill="#333"/>
<text x="552.2" y="462.6" font-size="9.5" text-anchor="middle" fill="#333"><tspan font-style="italic">p</tspan>&lt;0.0001</text>
<path d="M538.1,468.0 V465.4 H567.9 V468.0" fill="none" stroke="#444" stroke-width="1"/>
<line x1="605.2" y1="470.8" x2="609.7" y2="470.8" stroke="#000" stroke-width="1.4"/>
<line x1="605.2" y1="522.6666666666666" x2="609.7" y2="522.6666666666666" stroke="#000" stroke-width="1.4"/>
<line x1="605.2" y1="574.5333333333333" x2="609.7" y2="574.5333333333333" stroke="#000" stroke-width="1.4"/>
<line x1="605.2" y1="626.4" x2="609.7" y2="626.4" stroke="#000" stroke-width="1.4"/>
<text transform="translate(602.90,474.56) scale(1,1.0)" font-size="10.5" text-anchor="end" fill="#333">60</text>
<text transform="translate(602.90,526.43) scale(1,1.0)" font-size="10.5" text-anchor="end" fill="#333">40</text>
<text transform="translate(602.90,578.29) scale(1,1.0)" font-size="10.5" text-anchor="end" fill="#333">20</text>
<text transform="translate(602.90,630.16) scale(1,1.0)" font-size="10.5" text-anchor="end" fill="#333">0</text>
<line x1="609.7" y1="470.1" x2="609.7" y2="627.1999999999999" stroke="#000" stroke-width="1.6"/>
<line x1="605.2" y1="626.4" x2="683.5" y2="626.4" stroke="#000" stroke-width="1.6"/>
<line x1="630.4" y1="626.4" x2="630.4" y2="630.9" stroke="#000" stroke-width="1.4"/>
<text x="630.2" y="642.6" font-size="10.3" text-anchor="middle" fill="#333" >High</text>
<line x1="661.7" y1="626.4" x2="661.7" y2="630.9" stroke="#000" stroke-width="1.4"/>
<text x="661.8" y="642.6" font-size="10.3" text-anchor="middle" fill="#333" >Low</text>
<line x1="630.4" y1="511.8" x2="630.4" y2="593.4" stroke="#000" stroke-width="1.6"/>
<line x1="630.4" y1="618.2" x2="630.4" y2="624" stroke="#000" stroke-width="1.6"/>
<circle cx="630.4" cy="511.8" r="1.9" fill="#000" fill-opacity="0.74"/>
<circle cx="630.4" cy="523.8" r="1.9" fill="#000" fill-opacity="0.74"/>
<circle cx="630.1" cy="565.3" r="1.9" fill="#000" fill-opacity="0.74"/>
<circle cx="630.5" cy="543.9" r="1.9" fill="#000" fill-opacity="0.74"/>
<circle cx="630.4" cy="573.4" r="1.9" fill="#000" fill-opacity="0.74"/>
<circle cx="632.0" cy="590.5" r="1.9" fill="#000" fill-opacity="0.74"/>
<circle cx="627.4" cy="590.5" r="1.9" fill="#000" fill-opacity="0.74"/>
<circle cx="632.7" cy="585.1" r="1.9" fill="#000" fill-opacity="0.74"/>
<circle cx="628.1" cy="582.4" r="1.9" fill="#000" fill-opacity="0.74"/>
<circle cx="633.9" cy="582.4" r="1.9" fill="#000" fill-opacity="0.74"/>
<circle cx="626.7" cy="585.1" r="1.9" fill="#000" fill-opacity="0.74"/>
<circle cx="631.1" cy="582.4" r="1.9" fill="#000" fill-opacity="0.74"/>
<circle cx="627.3" cy="615.5" r="1.9" fill="#000" fill-opacity="0.74"/>
<circle cx="626.9" cy="605.0" r="1.9" fill="#000" fill-opacity="0.74"/>
<circle cx="637.5" cy="613.8" r="1.9" fill="#000" fill-opacity="0.74"/>
<circle cx="634.6" cy="599.6" r="1.9" fill="#000" fill-opacity="0.74"/>
<circle cx="623.8" cy="596.5" r="1.9" fill="#000" fill-opacity="0.74"/>
<circle cx="637.6" cy="608.1" r="1.9" fill="#000" fill-opacity="0.74"/>
<circle cx="632.9" cy="604.5" r="1.9" fill="#000" fill-opacity="0.74"/>
<circle cx="638.4" cy="602.8" r="1.9" fill="#000" fill-opacity="0.74"/>
<circle cx="622.7" cy="601.9" r="1.9" fill="#000" fill-opacity="0.74"/>
<circle cx="629.1" cy="600.4" r="1.9" fill="#000" fill-opacity="0.74"/>
<circle cx="622.9" cy="611.3" r="1.9" fill="#000" fill-opacity="0.74"/>
<circle cx="632.2" cy="616.8" r="1.9" fill="#000" fill-opacity="0.74"/>
<circle cx="632.5" cy="610.4" r="1.9" fill="#000" fill-opacity="0.74"/>
<circle cx="629.4" cy="612.5" r="1.9" fill="#000" fill-opacity="0.74"/>
<circle cx="638.0" cy="598.3" r="1.9" fill="#000" fill-opacity="0.74"/>
<circle cx="622.4" cy="606.5" r="1.9" fill="#000" fill-opacity="0.74"/>
<circle cx="628.3" cy="608.7" r="1.9" fill="#000" fill-opacity="0.74"/>
<circle cx="631.4" cy="595.6" r="1.9" fill="#000" fill-opacity="0.74"/>
<circle cx="623.7" cy="620.5" r="1.9" fill="#000" fill-opacity="0.74"/>
<circle cx="631.4" cy="622.6" r="1.9" fill="#000" fill-opacity="0.74"/>
<circle cx="639.1" cy="618.9" r="1.9" fill="#000" fill-opacity="0.74"/>
<circle cx="627.4" cy="621.5" r="1.9" fill="#000" fill-opacity="0.74"/>
<circle cx="634.3" cy="619.8" r="1.9" fill="#000" fill-opacity="0.74"/>
<circle cx="639.1" cy="623.8" r="1.9" fill="#000" fill-opacity="0.74"/>
<circle cx="635.0" cy="624.6" r="1.9" fill="#000" fill-opacity="0.74"/>
<circle cx="629.0" cy="618.4" r="1.9" fill="#000" fill-opacity="0.74"/>
<circle cx="636.8" cy="620.8" r="1.9" fill="#000" fill-opacity="0.74"/>
<circle cx="621.6" cy="623.0" r="1.9" fill="#000" fill-opacity="0.74"/>
<clipPath id="c12_0"><rect x="620.3" y="593.4" width="20.2" height="24.800000000000068"/></clipPath>
<rect x="620.3" y="593.4" width="20.2" height="24.800000000000068" fill="rgb(128,99,160)"/>
<g clip-path="url(#c12_0)"><circle cx="627.3" cy="615.5" r="1.9" fill="rgb(44,6,74)" fill-opacity="0.97"/><circle cx="626.9" cy="605.0" r="1.9" fill="rgb(44,6,74)" fill-opacity="0.97"/><circle cx="637.5" cy="613.8" r="1.9" fill="rgb(44,6,74)" fill-opacity="0.97"/><circle cx="634.6" cy="599.6" r="1.9" fill="rgb(44,6,74)" fill-opacity="0.97"/><circle cx="623.8" cy="596.5" r="1.9" fill="rgb(44,6,74)" fill-opacity="0.97"/><circle cx="637.6" cy="608.1" r="1.9" fill="rgb(44,6,74)" fill-opacity="0.97"/><circle cx="632.9" cy="604.5" r="1.9" fill="rgb(44,6,74)" fill-opacity="0.97"/><circle cx="638.4" cy="602.8" r="1.9" fill="rgb(44,6,74)" fill-opacity="0.97"/><circle cx="622.7" cy="601.9" r="1.9" fill="rgb(44,6,74)" fill-opacity="0.97"/><circle cx="629.1" cy="600.4" r="1.9" fill="rgb(44,6,74)" fill-opacity="0.97"/><circle cx="622.9" cy="611.3" r="1.9" fill="rgb(44,6,74)" fill-opacity="0.97"/><circle cx="632.2" cy="616.8" r="1.9" fill="rgb(44,6,74)" fill-opacity="0.97"/><circle cx="632.5" cy="610.4" r="1.9" fill="rgb(44,6,74)" fill-opacity="0.97"/><circle cx="629.4" cy="612.5" r="1.9" fill="rgb(44,6,74)" fill-opacity="0.97"/><circle cx="638.0" cy="598.3" r="1.9" fill="rgb(44,6,74)" fill-opacity="0.97"/><circle cx="622.4" cy="606.5" r="1.9" fill="rgb(44,6,74)" fill-opacity="0.97"/><circle cx="628.3" cy="608.7" r="1.9" fill="rgb(44,6,74)" fill-opacity="0.97"/><circle cx="631.4" cy="595.6" r="1.9" fill="rgb(44,6,74)" fill-opacity="0.97"/><circle cx="639.1" cy="618.9" r="1.9" fill="rgb(44,6,74)" fill-opacity="0.97"/><circle cx="634.3" cy="619.8" r="1.9" fill="rgb(44,6,74)" fill-opacity="0.97"/><circle cx="629.0" cy="618.4" r="1.9" fill="rgb(44,6,74)" fill-opacity="0.97"/></g>
<rect x="620.3" y="593.4" width="20.2" height="24.800000000000068" fill="none" stroke="#000" stroke-width="1.6"/>
<line x1="620.3" y1="610.5" x2="640.5" y2="610.5" stroke="#000" stroke-width="1.6"/>
<line x1="624.6" y1="511.8" x2="636.1999999999999" y2="511.8" stroke="#000" stroke-width="1.6"/>
<line x1="624.6" y1="624" x2="636.1999999999999" y2="624" stroke="#000" stroke-width="1.6"/>
<line x1="661.7" y1="497.5" x2="661.7" y2="613.3" stroke="#000" stroke-width="1.6"/>
<line x1="661.7" y1="622" x2="661.7" y2="625" stroke="#000" stroke-width="1.6"/>
<circle cx="661.7" cy="497.5" r="1.9" fill="#000" fill-opacity="0.74"/>
<circle cx="661.8" cy="603.3" r="1.9" fill="#000" fill-opacity="0.74"/>
<circle cx="661.6" cy="599.0" r="1.9" fill="#000" fill-opacity="0.74"/>
<circle cx="661.6" cy="594.8" r="1.9" fill="#000" fill-opacity="0.74"/>
<circle cx="661.8" cy="556.9" r="1.9" fill="#000" fill-opacity="0.74"/>
<circle cx="661.6" cy="571.2" r="1.9" fill="#000" fill-opacity="0.74"/>
<circle cx="662.1" cy="607.2" r="1.9" fill="#000" fill-opacity="0.74"/>
<circle cx="662.6" cy="589.4" r="1.9" fill="#000" fill-opacity="0.74"/>
<circle cx="660.4" cy="589.4" r="1.9" fill="#000" fill-opacity="0.74"/>
<circle cx="659.9" cy="610.8" r="1.9" fill="#000" fill-opacity="0.74"/>
<circle cx="663.7" cy="610.8" r="1.9" fill="#000" fill-opacity="0.74"/>
<circle cx="662.0" cy="624.4" r="1.9" fill="#000" fill-opacity="0.74"/>
<circle cx="668.5" cy="623.0" r="1.9" fill="#000" fill-opacity="0.74"/>
<circle cx="654.3" cy="616.8" r="1.9" fill="#000" fill-opacity="0.74"/>
<circle cx="655.8" cy="624.8" r="1.9" fill="#000" fill-opacity="0.74"/>
<circle cx="668.2" cy="614.1" r="1.9" fill="#000" fill-opacity="0.74"/>
<circle cx="658.0" cy="614.5" r="1.9" fill="#000" fill-opacity="0.74"/>
<circle cx="652.7" cy="621.7" r="1.9" fill="#000" fill-opacity="0.74"/>
<circle cx="662.7" cy="615.8" r="1.9" fill="#000" fill-opacity="0.74"/>
<circle cx="658.7" cy="620.9" r="1.9" fill="#000" fill-opacity="0.74"/>
<circle cx="670.1" cy="618.3" r="1.9" fill="#000" fill-opacity="0.74"/>
<circle cx="664.7" cy="621.4" r="1.9" fill="#000" fill-opacity="0.74"/>
<circle cx="657.0" cy="622.7" r="1.9" fill="#000" fill-opacity="0.74"/>
<circle cx="655.6" cy="619.8" r="1.9" fill="#000" fill-opacity="0.74"/>
<circle cx="655.4" cy="613.1" r="1.9" fill="#000" fill-opacity="0.74"/>
<circle cx="665.7" cy="614.9" r="1.9" fill="#000" fill-opacity="0.74"/>
<circle cx="667.6" cy="616.3" r="1.9" fill="#000" fill-opacity="0.74"/>
<circle cx="660.6" cy="615.5" r="1.9" fill="#000" fill-opacity="0.74"/>
<circle cx="657.7" cy="617.5" r="1.9" fill="#000" fill-opacity="0.74"/>
<circle cx="665.1" cy="624.0" r="1.9" fill="#000" fill-opacity="0.74"/>
<circle cx="665.5" cy="617.4" r="1.9" fill="#000" fill-opacity="0.74"/>
<circle cx="661.7" cy="619.1" r="1.9" fill="#000" fill-opacity="0.74"/>
<circle cx="659.2" cy="623.4" r="1.9" fill="#000" fill-opacity="0.74"/>
<circle cx="667.5" cy="619.6" r="1.9" fill="#000" fill-opacity="0.74"/>
<circle cx="653.4" cy="623.7" r="1.9" fill="#000" fill-opacity="0.74"/>
<circle cx="670.5" cy="613.8" r="1.9" fill="#000" fill-opacity="0.74"/>
<circle cx="662.6" cy="622.1" r="1.9" fill="#000" fill-opacity="0.74"/>
<circle cx="669.5" cy="620.4" r="1.9" fill="#000" fill-opacity="0.74"/>
<circle cx="663.9" cy="618.5" r="1.9" fill="#000" fill-opacity="0.74"/>
<clipPath id="c12_1"><rect x="651.8000000000001" y="613.3" width="19.8" height="8.700000000000045"/></clipPath>
<rect x="651.8000000000001" y="613.3" width="19.8" height="8.700000000000045" fill="rgb(236,198,218)"/>
<g clip-path="url(#c12_1)"><circle cx="668.5" cy="623.0" r="1.9" fill="rgb(42,30,48)" fill-opacity="0.97"/><circle cx="654.3" cy="616.8" r="1.9" fill="rgb(42,30,48)" fill-opacity="0.97"/><circle cx="668.2" cy="614.1" r="1.9" fill="rgb(42,30,48)" fill-opacity="0.97"/><circle cx="658.0" cy="614.5" r="1.9" fill="rgb(42,30,48)" fill-opacity="0.97"/><circle cx="652.7" cy="621.7" r="1.9" fill="rgb(42,30,48)" fill-opacity="0.97"/><circle cx="662.7" cy="615.8" r="1.9" fill="rgb(42,30,48)" fill-opacity="0.97"/><circle cx="658.7" cy="620.9" r="1.9" fill="rgb(42,30,48)" fill-opacity="0.97"/><circle cx="670.1" cy="618.3" r="1.9" fill="rgb(42,30,48)" fill-opacity="0.97"/><circle cx="664.7" cy="621.4" r="1.9" fill="rgb(42,30,48)" fill-opacity="0.97"/><circle cx="657.0" cy="622.7" r="1.9" fill="rgb(42,30,48)" fill-opacity="0.97"/><circle cx="655.6" cy="619.8" r="1.9" fill="rgb(42,30,48)" fill-opacity="0.97"/><circle cx="655.4" cy="613.1" r="1.9" fill="rgb(42,30,48)" fill-opacity="0.97"/><circle cx="665.7" cy="614.9" r="1.9" fill="rgb(42,30,48)" fill-opacity="0.97"/><circle cx="667.6" cy="616.3" r="1.9" fill="rgb(42,30,48)" fill-opacity="0.97"/><circle cx="660.6" cy="615.5" r="1.9" fill="rgb(42,30,48)" fill-opacity="0.97"/><circle cx="657.7" cy="617.5" r="1.9" fill="rgb(42,30,48)" fill-opacity="0.97"/><circle cx="665.5" cy="617.4" r="1.9" fill="rgb(42,30,48)" fill-opacity="0.97"/><circle cx="661.7" cy="619.1" r="1.9" fill="rgb(42,30,48)" fill-opacity="0.97"/><circle cx="659.2" cy="623.4" r="1.9" fill="rgb(42,30,48)" fill-opacity="0.97"/><circle cx="667.5" cy="619.6" r="1.9" fill="rgb(42,30,48)" fill-opacity="0.97"/><circle cx="653.4" cy="623.7" r="1.9" fill="rgb(42,30,48)" fill-opacity="0.97"/><circle cx="670.5" cy="613.8" r="1.9" fill="rgb(42,30,48)" fill-opacity="0.97"/><circle cx="662.6" cy="622.1" r="1.9" fill="rgb(42,30,48)" fill-opacity="0.97"/><circle cx="669.5" cy="620.4" r="1.9" fill="rgb(42,30,48)" fill-opacity="0.97"/><circle cx="663.9" cy="618.5" r="1.9" fill="rgb(42,30,48)" fill-opacity="0.97"/></g>
<rect x="651.8000000000001" y="613.3" width="19.8" height="8.700000000000045" fill="none" stroke="#000" stroke-width="1.6"/>
<line x1="651.8000000000001" y1="618.1" x2="671.6" y2="618.1" stroke="#000" stroke-width="1.6"/>
<line x1="655.9000000000001" y1="497.5" x2="667.5" y2="497.5" stroke="#000" stroke-width="1.6"/>
<line x1="655.9000000000001" y1="625" x2="667.5" y2="625" stroke="#000" stroke-width="1.6"/>
<text x="643.2" y="417.9" font-size="11.3" text-anchor="middle" fill="#333" >LV</text>
<text x="643.0" y="432.4" font-size="9.7" text-anchor="middle" fill="#333" >CSF</text>
<text x="644.3" y="441.5" font-size="9.7" text-anchor="middle" fill="#333" >net flow</text>
<text x="598.0" y="463.3" font-size="9.5" text-anchor="middle" fill="#333" >(μl)</text>
<polygon points="644.90,447.40 645.52,448.85 647.09,448.99 645.90,450.02 646.25,451.56 644.90,450.75 643.55,451.56 643.90,450.02 642.71,448.99 644.28,448.85" fill="#333"/>
<text x="645.4" y="462.6" font-size="9.5" text-anchor="middle" fill="#333"><tspan font-style="italic">p</tspan>=0.0486</text>
<path d="M630.3,468.0 V465.4 H660.6 V468.0" fill="none" stroke="#444" stroke-width="1"/>
</svg></body></html>
